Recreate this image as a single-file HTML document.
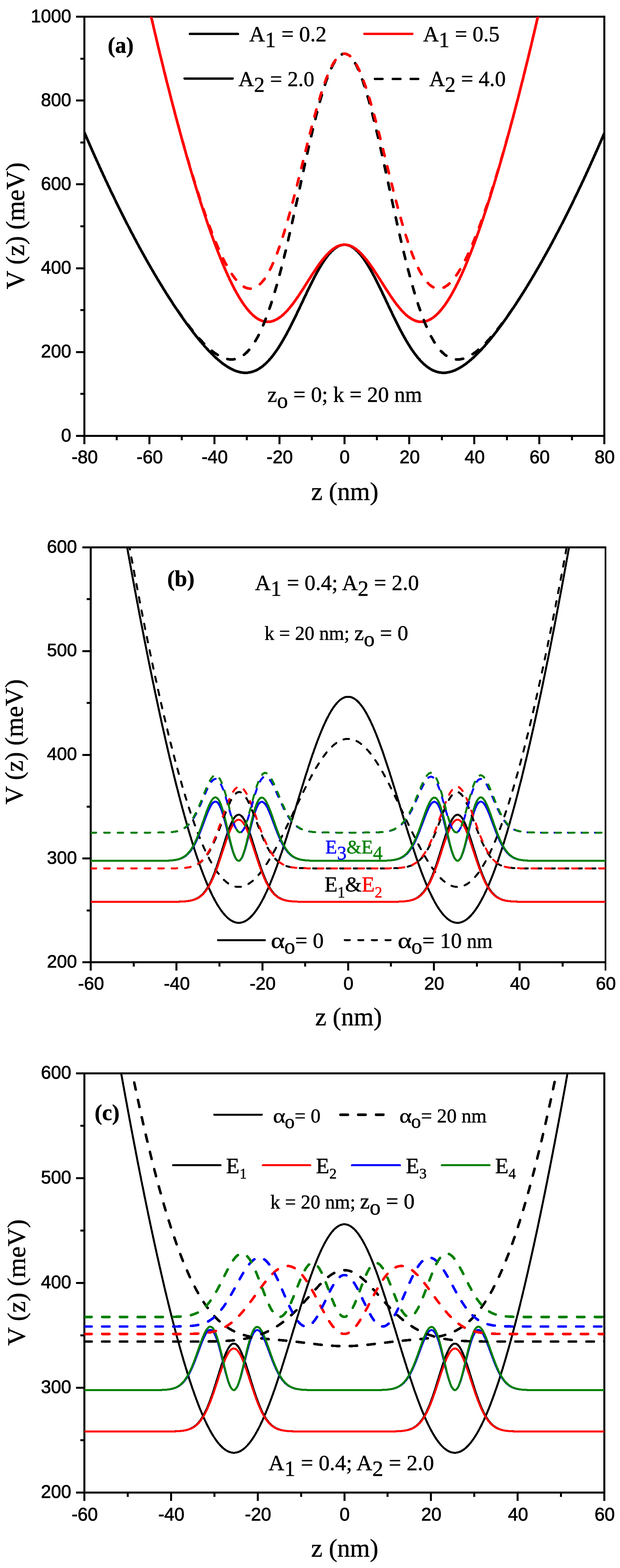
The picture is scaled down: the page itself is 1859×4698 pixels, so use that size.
<!DOCTYPE html>
<html lang="en"><head><meta charset="utf-8"><title>Double quantum well potential V(z)</title>
<style>
html,body{margin:0;padding:0;background:#fff}
body{width:1859px;height:4698px}
svg{display:block}
text{fill:#000;stroke:#000;stroke-width:0.8;stroke-linejoin:round}
.tk text{font-family:"Liberation Sans",Arial,Helvetica,sans-serif;stroke-width:1.2}
.sf{font-family:"Liberation Serif","Times New Roman",Times,serif}
.b{font-weight:bold}
.r{fill:#f00;stroke:#f00}.bl{fill:#00f;stroke:#00f}.g{fill:#008000;stroke:#008000}
</style></head><body>
<svg width="1859" height="4698" viewBox="0 0 1859 4698">
<rect width="1859" height="4698" fill="#fff"/>
<defs>
<clipPath id="c1"><rect x="253" y="50" width="1559" height="1256"/></clipPath>
<clipPath id="c2"><rect x="272" y="1640" width="1543.5" height="1243"/></clipPath>
<clipPath id="c3"><rect x="253" y="3216" width="1559" height="1256"/></clipPath>
</defs>
<g stroke="#000" stroke-width="6" fill="none" shape-rendering="crispEdges">
<path d="M253 47V1309M250 50H1815M250 1306H1815M1812 47V1309M253 1306V1331M447.9 1306V1331M642.8 1306V1331M837.6 1306V1331M1032.5 1306V1331M1227.4 1306V1331M1422.2 1306V1331M1617.1 1306V1331M1812 1306V1331M350.4 1306V1318.5M545.3 1306V1318.5M740.2 1306V1318.5M935.1 1306V1318.5M1129.9 1306V1318.5M1324.8 1306V1318.5M1519.7 1306V1318.5M1714.6 1306V1318.5M253 1306H228M253 1054.8H228M253 803.6H228M253 552.4H228M253 301.2H228M253 50H228M253 1180.4H240.5M253 929.2H240.5M253 678H240.5M253 426.8H240.5M253 175.6H240.5"/>
</g>
<g class="tk" font-size="55">
<text transform="translate(254 1388.3) scale(0.99 1.0)" text-anchor="middle">-80</text>
<text transform="translate(448.9 1388.3) scale(0.99 1.0)" text-anchor="middle">-60</text>
<text transform="translate(643.8 1388.3) scale(0.99 1.0)" text-anchor="middle">-40</text>
<text transform="translate(838.6 1388.3) scale(0.99 1.0)" text-anchor="middle">-20</text>
<text transform="translate(1033.5 1388.3) scale(0.99 1.0)" text-anchor="middle">0</text>
<text transform="translate(1228.4 1388.3) scale(0.99 1.0)" text-anchor="middle">20</text>
<text transform="translate(1423.2 1388.3) scale(0.99 1.0)" text-anchor="middle">40</text>
<text transform="translate(1618.1 1388.3) scale(0.99 1.0)" text-anchor="middle">60</text>
<text transform="translate(1813 1388.3) scale(0.99 1.0)" text-anchor="middle">80</text>
<text transform="translate(213.5 1322.5) scale(0.99 1.0)" text-anchor="end">0</text>
<text transform="translate(213.5 1071.3) scale(0.99 1.0)" text-anchor="end">200</text>
<text transform="translate(213.5 820.1) scale(0.99 1.0)" text-anchor="end">400</text>
<text transform="translate(213.5 568.9) scale(0.99 1.0)" text-anchor="end">600</text>
<text transform="translate(213.5 317.7) scale(0.99 1.0)" text-anchor="end">800</text>
<text transform="translate(213.5 66.5) scale(0.99 1.0)" text-anchor="end">1000</text>
</g>
<g stroke="#000" stroke-width="6" fill="none" shape-rendering="crispEdges">
<path d="M272 1637V2886M269 1640H1818M269 2883H1818M272 2883V2908M529.2 2883V2908M786.5 2883V2908M1043.8 2883V2908M1301 2883V2908M1558.2 2883V2908M400.6 2883V2895.5M657.9 2883V2895.5M915.1 2883V2895.5M1172.4 2883V2895.5M1429.6 2883V2895.5M1686.9 2883V2895.5M272 2883H247M272 2572.2H247M272 2261.5H247M272 1950.8H247M272 1640H247M272 2727.6H259.5M272 2416.9H259.5M272 2106.1H259.5M272 1795.4H259.5"/>
</g>
<path d="M1815.5 1637V2908" stroke="#000" stroke-width="5" fill="none" shape-rendering="crispEdges"/>
<g class="tk" font-size="54.5">
<text transform="translate(273 2965.3) scale(0.99 1.0)" text-anchor="middle">-60</text>
<text transform="translate(530.2 2965.3) scale(0.99 1.0)" text-anchor="middle">-40</text>
<text transform="translate(787.5 2965.3) scale(0.99 1.0)" text-anchor="middle">-20</text>
<text transform="translate(1044.8 2965.3) scale(0.99 1.0)" text-anchor="middle">0</text>
<text transform="translate(1302 2965.3) scale(0.99 1.0)" text-anchor="middle">20</text>
<text transform="translate(1559.2 2965.3) scale(0.99 1.0)" text-anchor="middle">40</text>
<text transform="translate(1816.5 2965.3) scale(0.99 1.0)" text-anchor="middle">60</text>
<text transform="translate(230.7 2898.5) scale(0.99 1.0)" text-anchor="end">200</text>
<text transform="translate(230.7 2587.8) scale(0.99 1.0)" text-anchor="end">300</text>
<text transform="translate(230.7 2277) scale(0.99 1.0)" text-anchor="end">400</text>
<text transform="translate(230.7 1966.2) scale(0.99 1.0)" text-anchor="end">500</text>
<text transform="translate(230.7 1655.5) scale(0.99 1.0)" text-anchor="end">600</text>
</g>
<g stroke="#000" stroke-width="6" fill="none" shape-rendering="crispEdges">
<path d="M253 3213V4475M250 3216H1815M250 4472H1815M1812 3213V4475M253 4472V4497M512.8 4472V4497M772.7 4472V4497M1032.5 4472V4497M1292.3 4472V4497M1552.2 4472V4497M1812 4472V4497M382.9 4472V4484.5M642.8 4472V4484.5M902.6 4472V4484.5M1162.4 4472V4484.5M1422.2 4472V4484.5M1682.1 4472V4484.5M253 4472H228M253 4158H228M253 3844H228M253 3530H228M253 3216H228M253 4315H240.5M253 4001H240.5M253 3687H240.5M253 3373H240.5"/>
</g>
<g class="tk" font-size="55">
<text transform="translate(254 4556.3) scale(0.99 1.0)" text-anchor="middle">-60</text>
<text transform="translate(513.8 4556.3) scale(0.99 1.0)" text-anchor="middle">-40</text>
<text transform="translate(773.7 4556.3) scale(0.99 1.0)" text-anchor="middle">-20</text>
<text transform="translate(1033.5 4556.3) scale(0.99 1.0)" text-anchor="middle">0</text>
<text transform="translate(1293.3 4556.3) scale(0.99 1.0)" text-anchor="middle">20</text>
<text transform="translate(1553.2 4556.3) scale(0.99 1.0)" text-anchor="middle">40</text>
<text transform="translate(1813 4556.3) scale(0.99 1.0)" text-anchor="middle">60</text>
<text transform="translate(213.5 4487.5) scale(0.99 1.0)" text-anchor="end">200</text>
<text transform="translate(213.5 4173.5) scale(0.99 1.0)" text-anchor="end">300</text>
<text transform="translate(213.5 3859.5) scale(0.99 1.0)" text-anchor="end">400</text>
<text transform="translate(213.5 3545.5) scale(0.99 1.0)" text-anchor="end">500</text>
<text transform="translate(213.5 3231.5) scale(0.99 1.0)" text-anchor="end">600</text>
</g>
<g clip-path="url(#c1)" fill="none" stroke-linejoin="round" stroke-linecap="round" shape-rendering="crispEdges">
<path d="M253.5 397.8L255.9 403.5L258.4 409.1L260.8 414.8L263.2 420.4L265.7 426L268.1 431.6L270.6 437.1L273 442.7L275.4 448.2L277.9 453.7L280.3 459.2L282.7 464.7L285.2 470.1L287.6 475.5L290 481L292.5 486.4L294.9 491.7L297.3 497.1L299.8 502.5L302.2 507.8L304.7 513.1L307.1 518.4L309.5 523.7L312 528.9L314.4 534.2L316.8 539.4L319.3 544.6L321.7 549.8L324.1 555L326.6 560.1L329 565.3L331.4 570.4L333.9 575.5L336.3 580.5L338.8 585.6L341.2 590.7L343.6 595.7L346.1 600.7L348.5 605.7L350.9 610.7L353.4 615.6L355.8 620.6L358.2 625.5L360.7 630.4L363.1 635.3L365.6 640.1L368 645L370.4 649.8L372.9 654.6L375.3 659.4L377.7 664.2L380.2 669L382.6 673.7L385 678.5L387.5 683.2L389.9 687.9L392.3 692.5L394.8 697.2L397.2 701.8L399.7 706.4L402.1 711L404.5 715.6L407 720.2L409.4 724.7L411.8 729.3L414.3 733.8L416.7 738.3L419.1 742.8L421.6 747.2L424 751.7L426.5 756.1L428.9 760.5L431.3 764.9L433.8 769.2L436.2 773.6L438.6 777.9L441.1 782.2L443.5 786.5L445.9 790.8L448.4 795.1L450.8 799.3L453.2 803.5L455.7 807.7L458.1 811.9L460.6 816.1L463 820.3L465.4 824.4L467.9 828.5L470.3 832.6L472.7 836.7L475.2 840.7L477.6 844.8L480 848.8L482.5 852.8L484.9 856.8L487.4 860.7L489.8 864.7L492.2 868.6L494.7 872.5L497.1 876.4L499.5 880.3L502 884.1L504.4 888L506.8 891.8L509.3 895.6L511.7 899.4L514.1 903.1L516.6 906.8L519 910.6L521.5 914.3L523.9 917.9L526.3 921.6L528.8 925.2L531.2 928.8L533.6 932.4L536.1 936L538.5 939.5L540.9 943.1L543.4 946.6L545.8 950.1L548.2 953.5L550.7 957L553.1 960.4L555.6 963.8L558 967.2L560.4 970.5L562.9 973.8L565.3 977.2L567.7 980.4L570.2 983.7L572.6 986.9L575 990.1L577.5 993.3L579.9 996.5L582.4 999.6L584.8 1002.7L587.2 1005.8L589.7 1008.8L592.1 1011.9L594.5 1014.9L597 1017.8L599.4 1020.8L601.8 1023.7L604.3 1026.5L606.7 1029.4L609.1 1032.2L611.6 1035L614 1037.8L616.5 1040.5L618.9 1043.2L621.3 1045.8L623.8 1048.4L626.2 1051L628.6 1053.6L631.1 1056.1L633.5 1058.6L635.9 1061L638.4 1063.4L640.8 1065.8L643.2 1068.1L645.7 1070.4L648.1 1072.6L650.6 1074.8L653 1076.9L655.4 1079L657.9 1081.1L660.3 1083.1L662.7 1085.1L665.2 1087L667.6 1088.9L670 1090.7L672.5 1092.5L674.9 1094.2L677.4 1095.8L679.8 1097.5L682.2 1099L684.7 1100.5L687.1 1101.9L689.5 1103.3L692 1104.6L694.4 1105.9L696.8 1107.1L699.3 1108.2L701.7 1109.3L704.1 1110.3L706.6 1111.2L709 1112.1L711.5 1112.9L713.9 1113.6L716.3 1114.3L718.8 1114.9L721.2 1115.4L723.6 1115.8L726.1 1116.2L728.5 1116.5L730.9 1116.7L733.4 1116.8L735.8 1116.8L738.3 1116.8L740.7 1116.7L743.1 1116.5L745.6 1116.2L748 1115.8L750.4 1115.4L752.9 1114.8L755.3 1114.2L757.7 1113.5L760.2 1112.6L762.6 1111.7L765 1110.7L767.5 1109.6L769.9 1108.5L772.4 1107.2L774.8 1105.8L777.2 1104.3L779.7 1102.8L782.1 1101.1L784.5 1099.4L787 1097.5L789.4 1095.6L791.8 1093.5L794.3 1091.4L796.7 1089.1L799.1 1086.8L801.6 1084.4L804 1081.8L806.5 1079.2L808.9 1076.5L811.3 1073.7L813.8 1070.8L816.2 1067.8L818.6 1064.7L821.1 1061.5L823.5 1058.2L825.9 1054.8L828.4 1051.4L830.8 1047.8L833.3 1044.2L835.7 1040.5L838.1 1036.6L840.6 1032.8L843 1028.8L845.4 1024.7L847.9 1020.6L850.3 1016.4L852.7 1012.1L855.2 1007.8L857.6 1003.4L860 998.9L862.5 994.4L864.9 989.8L867.4 985.1L869.8 980.4L872.2 975.6L874.7 970.8L877.1 965.9L879.5 961L882 956.1L884.4 951.1L886.8 946.1L889.3 941L891.7 936L894.2 930.9L896.6 925.8L899 920.6L901.5 915.5L903.9 910.4L906.3 905.2L908.8 900.1L911.2 894.9L913.6 889.8L916.1 884.7L918.5 879.6L920.9 874.5L923.4 869.5L925.8 864.4L928.3 859.5L930.7 854.5L933.1 849.6L935.6 844.8L938 840L940.4 835.2L942.9 830.5L945.3 825.9L947.7 821.4L950.2 816.9L952.6 812.5L955.1 808.2L957.5 803.9L959.9 799.8L962.4 795.7L964.8 791.8L967.2 787.9L969.7 784.2L972.1 780.6L974.5 777L977 773.6L979.4 770.3L981.8 767.2L984.3 764.1L986.7 761.2L989.2 758.4L991.6 755.8L994 753.3L996.5 750.9L998.9 748.6L1001.3 746.6L1003.8 744.6L1006.2 742.8L1008.6 741.2L1011.1 739.7L1013.5 738.3L1015.9 737.2L1018.4 736.1L1020.8 735.3L1023.3 734.5L1025.7 734L1028.1 733.6L1030.6 733.3L1033 733.3L1035.4 733.3L1037.9 733.6L1040.3 734L1042.7 734.5L1045.2 735.3L1047.6 736.1L1050.1 737.2L1052.5 738.3L1054.9 739.7L1057.4 741.2L1059.8 742.8L1062.2 744.6L1064.7 746.6L1067.1 748.6L1069.5 750.9L1072 753.3L1074.4 755.8L1076.8 758.4L1079.3 761.2L1081.7 764.1L1084.2 767.2L1086.6 770.3L1089 773.6L1091.5 777L1093.9 780.6L1096.3 784.2L1098.8 787.9L1101.2 791.8L1103.6 795.7L1106.1 799.8L1108.5 803.9L1111 808.2L1113.4 812.5L1115.8 816.9L1118.3 821.4L1120.7 825.9L1123.1 830.5L1125.6 835.2L1128 840L1130.4 844.8L1132.9 849.6L1135.3 854.5L1137.7 859.5L1140.2 864.4L1142.6 869.5L1145.1 874.5L1147.5 879.6L1149.9 884.7L1152.4 889.8L1154.8 894.9L1157.2 900.1L1159.7 905.2L1162.1 910.4L1164.5 915.5L1167 920.6L1169.4 925.8L1171.8 930.9L1174.3 936L1176.7 941L1179.2 946.1L1181.6 951.1L1184 956.1L1186.5 961L1188.9 965.9L1191.3 970.8L1193.8 975.6L1196.2 980.4L1198.6 985.1L1201.1 989.8L1203.5 994.4L1206 998.9L1208.4 1003.4L1210.8 1007.8L1213.3 1012.1L1215.7 1016.4L1218.1 1020.6L1220.6 1024.7L1223 1028.8L1225.4 1032.8L1227.9 1036.6L1230.3 1040.5L1232.7 1044.2L1235.2 1047.8L1237.6 1051.4L1240.1 1054.8L1242.5 1058.2L1244.9 1061.5L1247.4 1064.7L1249.8 1067.8L1252.2 1070.8L1254.7 1073.7L1257.1 1076.5L1259.5 1079.2L1262 1081.8L1264.4 1084.4L1266.8 1086.8L1269.3 1089.1L1271.7 1091.4L1274.2 1093.5L1276.6 1095.6L1279 1097.5L1281.5 1099.4L1283.9 1101.1L1286.3 1102.8L1288.8 1104.3L1291.2 1105.8L1293.6 1107.2L1296.1 1108.5L1298.5 1109.6L1301 1110.7L1303.4 1111.7L1305.8 1112.6L1308.3 1113.5L1310.7 1114.2L1313.1 1114.8L1315.6 1115.4L1318 1115.8L1320.4 1116.2L1322.9 1116.5L1325.3 1116.7L1327.7 1116.8L1330.2 1116.8L1332.6 1116.8L1335.1 1116.7L1337.5 1116.5L1339.9 1116.2L1342.4 1115.8L1344.8 1115.4L1347.2 1114.9L1349.7 1114.3L1352.1 1113.6L1354.5 1112.9L1357 1112.1L1359.4 1111.2L1361.9 1110.3L1364.3 1109.3L1366.7 1108.2L1369.2 1107.1L1371.6 1105.9L1374 1104.6L1376.5 1103.3L1378.9 1101.9L1381.3 1100.5L1383.8 1099L1386.2 1097.5L1388.6 1095.8L1391.1 1094.2L1393.5 1092.5L1396 1090.7L1398.4 1088.9L1400.8 1087L1403.3 1085.1L1405.7 1083.1L1408.1 1081.1L1410.6 1079L1413 1076.9L1415.4 1074.8L1417.9 1072.6L1420.3 1070.4L1422.8 1068.1L1425.2 1065.8L1427.6 1063.4L1430.1 1061L1432.5 1058.6L1434.9 1056.1L1437.4 1053.6L1439.8 1051L1442.2 1048.4L1444.7 1045.8L1447.1 1043.2L1449.5 1040.5L1452 1037.8L1454.4 1035L1456.9 1032.2L1459.3 1029.4L1461.7 1026.5L1464.2 1023.7L1466.6 1020.8L1469 1017.8L1471.5 1014.9L1473.9 1011.9L1476.3 1008.8L1478.8 1005.8L1481.2 1002.7L1483.6 999.6L1486.1 996.5L1488.5 993.3L1491 990.1L1493.4 986.9L1495.8 983.7L1498.3 980.4L1500.7 977.2L1503.1 973.8L1505.6 970.5L1508 967.2L1510.4 963.8L1512.9 960.4L1515.3 957L1517.8 953.5L1520.2 950.1L1522.6 946.6L1525.1 943.1L1527.5 939.5L1529.9 936L1532.4 932.4L1534.8 928.8L1537.2 925.2L1539.7 921.6L1542.1 917.9L1544.5 914.3L1547 910.6L1549.4 906.8L1551.9 903.1L1554.3 899.4L1556.7 895.6L1559.2 891.8L1561.6 888L1564 884.1L1566.5 880.3L1568.9 876.4L1571.3 872.5L1573.8 868.6L1576.2 864.7L1578.6 860.7L1581.1 856.8L1583.5 852.8L1586 848.8L1588.4 844.8L1590.8 840.7L1593.3 836.7L1595.7 832.6L1598.1 828.5L1600.6 824.4L1603 820.3L1605.4 816.1L1607.9 811.9L1610.3 807.7L1612.8 803.5L1615.2 799.3L1617.6 795.1L1620.1 790.8L1622.5 786.5L1624.9 782.2L1627.4 777.9L1629.8 773.6L1632.2 769.2L1634.7 764.9L1637.1 760.5L1639.5 756.1L1642 751.7L1644.4 747.2L1646.9 742.8L1649.3 738.3L1651.7 733.8L1654.2 729.3L1656.6 724.7L1659 720.2L1661.5 715.6L1663.9 711L1666.3 706.4L1668.8 701.8L1671.2 697.2L1673.7 692.5L1676.1 687.9L1678.5 683.2L1681 678.5L1683.4 673.7L1685.8 669L1688.3 664.2L1690.7 659.4L1693.1 654.6L1695.6 649.8L1698 645L1700.4 640.1L1702.9 635.3L1705.3 630.4L1707.8 625.5L1710.2 620.6L1712.6 615.6L1715.1 610.7L1717.5 605.7L1719.9 600.7L1722.4 595.7L1724.8 590.7L1727.2 585.6L1729.7 580.5L1732.1 575.5L1734.5 570.4L1737 565.3L1739.4 560.1L1741.9 555L1744.3 549.8L1746.7 544.6L1749.2 539.4L1751.6 534.2L1754 528.9L1756.5 523.7L1758.9 518.4L1761.3 513.1L1763.8 507.8L1766.2 502.5L1768.7 497.1L1771.1 491.7L1773.5 486.4L1776 481L1778.4 475.5L1780.8 470.1L1783.3 464.7L1785.7 459.2L1788.1 453.7L1790.6 448.2L1793 442.7L1795.4 437.1L1797.9 431.6L1800.3 426L1802.8 420.4L1805.2 414.8L1807.6 409.1L1810.1 403.5L1812.5 397.8" stroke="#000000" stroke-width="8"/>
<path d="M253.5 -964.5L255.9 -950.3L258.4 -936.2L260.8 -922.1L263.2 -908.1L265.7 -894.1L268.1 -880.1L270.6 -866.2L273 -852.4L275.4 -838.5L277.9 -824.8L280.3 -811.1L282.7 -797.4L285.2 -783.7L287.6 -770.1L290 -756.6L292.5 -743.1L294.9 -729.6L297.3 -716.2L299.8 -702.9L302.2 -689.5L304.7 -676.2L307.1 -663L309.5 -649.8L312 -636.7L314.4 -623.6L316.8 -610.5L319.3 -597.5L321.7 -584.5L324.1 -571.6L326.6 -558.7L329 -545.9L331.4 -533.1L333.9 -520.3L336.3 -507.6L338.8 -495L341.2 -482.3L343.6 -469.8L346.1 -457.2L348.5 -444.8L350.9 -432.3L353.4 -419.9L355.8 -407.6L358.2 -395.3L360.7 -383L363.1 -370.8L365.6 -358.6L368 -346.5L370.4 -334.4L372.9 -322.4L375.3 -310.4L377.7 -298.4L380.2 -286.5L382.6 -274.7L385 -262.8L387.5 -251.1L389.9 -239.3L392.3 -227.7L394.8 -216L397.2 -204.4L399.7 -192.9L402.1 -181.4L404.5 -169.9L407 -158.5L409.4 -147.1L411.8 -135.8L414.3 -124.5L416.7 -113.3L419.1 -102.1L421.6 -90.9L424 -79.8L426.5 -68.8L428.9 -57.7L431.3 -46.8L433.8 -35.8L436.2 -25L438.6 -14.1L441.1 -3.3L443.5 7.4L445.9 18.1L448.4 28.8L450.8 39.4L453.2 50L455.7 60.5L458.1 71L460.6 81.4L463 91.8L465.4 102.1L467.9 112.4L470.3 122.7L472.7 132.9L475.2 143.1L477.6 153.2L480 163.3L482.5 173.3L484.9 183.3L487.4 193.2L489.8 203.1L492.2 213L494.7 222.8L497.1 232.5L499.5 242.2L502 251.9L504.4 261.5L506.8 271.1L509.3 280.6L511.7 290.1L514.1 299.5L516.6 308.9L519 318.3L521.5 327.6L523.9 336.8L526.3 346L528.8 355.2L531.2 364.3L533.6 373.3L536.1 382.4L538.5 391.3L540.9 400.2L543.4 409.1L545.8 417.9L548.2 426.7L550.7 435.4L553.1 444.1L555.6 452.7L558 461.3L560.4 469.8L562.9 478.3L565.3 486.7L567.7 495.1L570.2 503.4L572.6 511.7L575 519.9L577.5 528.1L579.9 536.2L582.4 544.3L584.8 552.3L587.2 560.3L589.7 568.2L592.1 576L594.5 583.8L597 591.6L599.4 599.2L601.8 606.9L604.3 614.5L606.7 622L609.1 629.4L611.6 636.8L614 644.2L616.5 651.5L618.9 658.7L621.3 665.9L623.8 673L626.2 680L628.6 687L631.1 693.9L633.5 700.8L635.9 707.5L638.4 714.3L640.8 720.9L643.2 727.5L645.7 734L648.1 740.5L650.6 746.9L653 753.2L655.4 759.4L657.9 765.6L660.3 771.7L662.7 777.7L665.2 783.7L667.6 789.5L670 795.3L672.5 801.1L674.9 806.7L677.4 812.3L679.8 817.7L682.2 823.1L684.7 828.5L687.1 833.7L689.5 838.8L692 843.9L694.4 848.9L696.8 853.7L699.3 858.5L701.7 863.2L704.1 867.8L706.6 872.4L709 876.8L711.5 881.1L713.9 885.3L716.3 889.5L718.8 893.5L721.2 897.4L723.6 901.3L726.1 905L728.5 908.6L730.9 912.1L733.4 915.5L735.8 918.8L738.3 922L740.7 925.1L743.1 928.1L745.6 931L748 933.7L750.4 936.4L752.9 938.9L755.3 941.3L757.7 943.6L760.2 945.8L762.6 947.8L765 949.8L767.5 951.6L769.9 953.3L772.4 954.9L774.8 956.3L777.2 957.7L779.7 958.9L782.1 960L784.5 961L787 961.8L789.4 962.5L791.8 963.1L794.3 963.6L796.7 964L799.1 964.2L801.6 964.3L804 964.3L806.5 964.2L808.9 963.9L811.3 963.5L813.8 963L816.2 962.4L818.6 961.7L821.1 960.8L823.5 959.8L825.9 958.7L828.4 957.5L830.8 956.2L833.3 954.7L835.7 953.2L838.1 951.5L840.6 949.7L843 947.9L845.4 945.9L847.9 943.8L850.3 941.6L852.7 939.3L855.2 936.9L857.6 934.4L860 931.8L862.5 929.2L864.9 926.4L867.4 923.6L869.8 920.7L872.2 917.7L874.7 914.6L877.1 911.4L879.5 908.2L882 904.9L884.4 901.6L886.8 898.2L889.3 894.7L891.7 891.2L894.2 887.7L896.6 884.1L899 880.4L901.5 876.7L903.9 873L906.3 869.3L908.8 865.5L911.2 861.7L913.6 857.9L916.1 854L918.5 850.2L920.9 846.4L923.4 842.5L925.8 838.7L928.3 834.9L930.7 831.1L933.1 827.3L935.6 823.5L938 819.7L940.4 816L942.9 812.3L945.3 808.7L947.7 805.1L950.2 801.5L952.6 798L955.1 794.5L957.5 791.1L959.9 787.8L962.4 784.6L964.8 781.4L967.2 778.2L969.7 775.2L972.1 772.2L974.5 769.4L977 766.6L979.4 763.9L981.8 761.3L984.3 758.8L986.7 756.4L989.2 754.1L991.6 751.9L994 749.8L996.5 747.9L998.9 746L1001.3 744.3L1003.8 742.7L1006.2 741.2L1008.6 739.8L1011.1 738.6L1013.5 737.5L1015.9 736.5L1018.4 735.6L1020.8 734.9L1023.3 734.3L1025.7 733.9L1028.1 733.5L1030.6 733.3L1033 733.3L1035.4 733.3L1037.9 733.5L1040.3 733.9L1042.7 734.3L1045.2 734.9L1047.6 735.6L1050.1 736.5L1052.5 737.5L1054.9 738.6L1057.4 739.8L1059.8 741.2L1062.2 742.7L1064.7 744.3L1067.1 746L1069.5 747.9L1072 749.8L1074.4 751.9L1076.8 754.1L1079.3 756.4L1081.7 758.8L1084.2 761.3L1086.6 763.9L1089 766.6L1091.5 769.4L1093.9 772.2L1096.3 775.2L1098.8 778.2L1101.2 781.4L1103.6 784.6L1106.1 787.8L1108.5 791.1L1111 794.5L1113.4 798L1115.8 801.5L1118.3 805.1L1120.7 808.7L1123.1 812.3L1125.6 816L1128 819.7L1130.4 823.5L1132.9 827.3L1135.3 831.1L1137.7 834.9L1140.2 838.7L1142.6 842.5L1145.1 846.4L1147.5 850.2L1149.9 854L1152.4 857.9L1154.8 861.7L1157.2 865.5L1159.7 869.3L1162.1 873L1164.5 876.7L1167 880.4L1169.4 884.1L1171.8 887.7L1174.3 891.2L1176.7 894.7L1179.2 898.2L1181.6 901.6L1184 904.9L1186.5 908.2L1188.9 911.4L1191.3 914.6L1193.8 917.7L1196.2 920.7L1198.6 923.6L1201.1 926.4L1203.5 929.2L1206 931.8L1208.4 934.4L1210.8 936.9L1213.3 939.3L1215.7 941.6L1218.1 943.8L1220.6 945.9L1223 947.9L1225.4 949.7L1227.9 951.5L1230.3 953.2L1232.7 954.7L1235.2 956.2L1237.6 957.5L1240.1 958.7L1242.5 959.8L1244.9 960.8L1247.4 961.7L1249.8 962.4L1252.2 963L1254.7 963.5L1257.1 963.9L1259.5 964.2L1262 964.3L1264.4 964.3L1266.8 964.2L1269.3 964L1271.7 963.6L1274.2 963.1L1276.6 962.5L1279 961.8L1281.5 961L1283.9 960L1286.3 958.9L1288.8 957.7L1291.2 956.3L1293.6 954.9L1296.1 953.3L1298.5 951.6L1301 949.8L1303.4 947.8L1305.8 945.8L1308.3 943.6L1310.7 941.3L1313.1 938.9L1315.6 936.4L1318 933.7L1320.4 931L1322.9 928.1L1325.3 925.1L1327.7 922L1330.2 918.8L1332.6 915.5L1335.1 912.1L1337.5 908.6L1339.9 905L1342.4 901.3L1344.8 897.4L1347.2 893.5L1349.7 889.5L1352.1 885.3L1354.5 881.1L1357 876.8L1359.4 872.4L1361.9 867.8L1364.3 863.2L1366.7 858.5L1369.2 853.7L1371.6 848.9L1374 843.9L1376.5 838.8L1378.9 833.7L1381.3 828.5L1383.8 823.1L1386.2 817.7L1388.6 812.3L1391.1 806.7L1393.5 801.1L1396 795.3L1398.4 789.5L1400.8 783.7L1403.3 777.7L1405.7 771.7L1408.1 765.6L1410.6 759.4L1413 753.2L1415.4 746.9L1417.9 740.5L1420.3 734L1422.8 727.5L1425.2 720.9L1427.6 714.3L1430.1 707.5L1432.5 700.8L1434.9 693.9L1437.4 687L1439.8 680L1442.2 673L1444.7 665.9L1447.1 658.7L1449.5 651.5L1452 644.2L1454.4 636.8L1456.9 629.4L1459.3 622L1461.7 614.5L1464.2 606.9L1466.6 599.2L1469 591.6L1471.5 583.8L1473.9 576L1476.3 568.2L1478.8 560.3L1481.2 552.3L1483.6 544.3L1486.1 536.2L1488.5 528.1L1491 519.9L1493.4 511.7L1495.8 503.4L1498.3 495.1L1500.7 486.7L1503.1 478.3L1505.6 469.8L1508 461.3L1510.4 452.7L1512.9 444.1L1515.3 435.4L1517.8 426.7L1520.2 417.9L1522.6 409.1L1525.1 400.2L1527.5 391.3L1529.9 382.4L1532.4 373.3L1534.8 364.3L1537.2 355.2L1539.7 346L1542.1 336.8L1544.5 327.6L1547 318.3L1549.4 308.9L1551.9 299.5L1554.3 290.1L1556.7 280.6L1559.2 271.1L1561.6 261.5L1564 251.9L1566.5 242.2L1568.9 232.5L1571.3 222.8L1573.8 213L1576.2 203.1L1578.6 193.2L1581.1 183.3L1583.5 173.3L1586 163.3L1588.4 153.2L1590.8 143.1L1593.3 132.9L1595.7 122.7L1598.1 112.4L1600.6 102.1L1603 91.8L1605.4 81.4L1607.9 71L1610.3 60.5L1612.8 50L1615.2 39.4L1617.6 28.8L1620.1 18.1L1622.5 7.4L1624.9 -3.3L1627.4 -14.1L1629.8 -25L1632.2 -35.8L1634.7 -46.8L1637.1 -57.7L1639.5 -68.8L1642 -79.8L1644.4 -90.9L1646.9 -102.1L1649.3 -113.3L1651.7 -124.5L1654.2 -135.8L1656.6 -147.1L1659 -158.5L1661.5 -169.9L1663.9 -181.4L1666.3 -192.9L1668.8 -204.4L1671.2 -216L1673.7 -227.7L1676.1 -239.3L1678.5 -251.1L1681 -262.8L1683.4 -274.7L1685.8 -286.5L1688.3 -298.4L1690.7 -310.4L1693.1 -322.4L1695.6 -334.4L1698 -346.5L1700.4 -358.6L1702.9 -370.8L1705.3 -383L1707.8 -395.3L1710.2 -407.6L1712.6 -419.9L1715.1 -432.3L1717.5 -444.8L1719.9 -457.2L1722.4 -469.8L1724.8 -482.3L1727.2 -495L1729.7 -507.6L1732.1 -520.3L1734.5 -533.1L1737 -545.9L1739.4 -558.7L1741.9 -571.6L1744.3 -584.5L1746.7 -597.5L1749.2 -610.5L1751.6 -623.6L1754 -636.7L1756.5 -649.8L1758.9 -663L1761.3 -676.2L1763.8 -689.5L1766.2 -702.9L1768.7 -716.2L1771.1 -729.6L1773.5 -743.1L1776 -756.6L1778.4 -770.1L1780.8 -783.7L1783.3 -797.4L1785.7 -811.1L1788.1 -824.8L1790.6 -838.5L1793 -852.4L1795.4 -866.2L1797.9 -880.1L1800.3 -894.1L1802.8 -908.1L1805.2 -922.1L1807.6 -936.2L1810.1 -950.3L1812.5 -964.5" stroke="#ff0000" stroke-width="8"/>
<path d="M253.5 397.8L263.3 420.5L273.1 442.9L282.9 465.1L292.7 486.9L302.5 508.5L312.3 529.7L322.1 550.7L331.9 571.4L341.7 591.8L351.6 611.9L361.4 631.7L371.2 651.3L381 670.5L390.8 689.5L400.6 708.2L410.4 726.5L420.2 744.6L430 762.4L439.8 779.9L449.6 797.1L459.4 814L469.2 830.6L479 846.9L488.8 862.9L498.6 878.5L508.4 893.8L518.2 908.8L528 923.4L537.8 937.6L547.7 951.5L557.5 964.9L567.3 977.8L577.1 990.3L586.9 1002.2L596.7 1013.5L606.5 1024.2L616.3 1034.1L626.1 1043.3L635.9 1051.6L645.7 1058.9L655.5 1065.2L665.3 1070.3L675.1 1074.1L684.9 1076.4L694.7 1077.1L704.5 1076.2L714.3 1073.3L724.1 1068.4L733.9 1061.3L743.8 1051.9L753.6 1040L763.4 1025.6L773.2 1008.4L783 988.4L792.8 965.7L802.6 940.1L812.4 911.6L822.2 880.4L832 846.5L841.8 810.1L851.6 771.5L861.4 730.8L871.2 688.3L881 644.6L890.8 599.9L900.6 554.7L910.4 509.6L920.2 465L930 421.5L939.9 379.7L949.7 340.1L959.5 303.2L969.3 269.7L979.1 239.9L988.9 214.4L998.7 193.4L1008.5 177.5L1018.3 166.7L1028.1 161.2L1037.9 161.2L1047.7 166.7L1057.5 177.5L1067.3 193.4L1077.1 214.4L1086.9 239.9L1096.7 269.7L1106.5 303.2L1116.3 340.1L1126.1 379.7L1136 421.5L1145.8 465L1155.6 509.6L1165.4 554.7L1175.2 599.9L1185 644.6L1194.8 688.3L1204.6 730.8L1214.4 771.5L1224.2 810.1L1234 846.5L1243.8 880.4L1253.6 911.6L1263.4 940.1L1273.2 965.7L1283 988.4L1292.8 1008.4L1302.6 1025.6L1312.4 1040L1322.2 1051.9L1332.1 1061.3L1341.9 1068.4L1351.7 1073.3L1361.5 1076.2L1371.3 1077.1L1381.1 1076.4L1390.9 1074.1L1400.7 1070.3L1410.5 1065.2L1420.3 1058.9L1430.1 1051.6L1439.9 1043.3L1449.7 1034.1L1459.5 1024.2L1469.3 1013.5L1479.1 1002.2L1488.9 990.3L1498.7 977.8L1508.5 964.9L1518.3 951.5L1528.2 937.6L1538 923.4L1547.8 908.8L1557.6 893.8L1567.4 878.5L1577.2 862.9L1587 846.9L1596.8 830.6L1606.6 814L1616.4 797.1L1626.2 779.9L1636 762.4L1645.8 744.6L1655.6 726.5L1665.4 708.2L1675.2 689.5L1685 670.5L1694.8 651.3L1704.6 631.7L1714.4 611.9L1724.3 591.8L1734.1 571.4L1743.9 550.7L1753.7 529.7L1763.5 508.5L1773.3 486.9L1783.1 465.1L1792.9 442.9L1802.7 420.5L1812.5 397.8" stroke="#000000" stroke-width="8" stroke-dasharray="21.4 31.8" stroke-dashoffset="37"/>
<path d="M253.5 -964.5L263.3 -907.7L273.1 -851.7L282.9 -796.3L292.7 -741.7L302.5 -687.9L312.3 -634.7L322.1 -582.2L331.9 -530.5L341.7 -479.5L351.6 -429.2L361.4 -379.6L371.2 -330.8L381 -282.7L390.8 -235.2L400.6 -188.5L410.4 -142.6L420.2 -97.3L430 -52.8L439.8 -9L449.6 34.1L459.4 76.4L469.2 118L479 158.8L488.8 199L498.6 238.3L508.4 276.9L518.2 314.7L528 351.7L537.8 388L547.7 423.3L557.5 457.9L567.3 491.5L577.1 524.2L586.9 555.9L596.7 586.7L606.5 616.3L616.3 644.8L626.1 672.1L635.9 698.1L645.7 722.6L655.5 745.7L665.3 767.2L675.1 786.9L684.9 804.8L694.7 820.6L704.5 834.3L714.3 845.6L724.1 854.5L733.9 860.8L743.8 864.3L753.6 864.9L763.4 862.5L773.2 857L783 848.3L792.8 836.3L802.6 821L812.4 802.5L822.2 780.8L832 755.9L841.8 728.2L851.6 697.7L861.4 664.7L871.2 629.7L881 592.8L890.8 554.6L900.6 515.4L910.4 475.9L920.2 436.5L930 397.7L939.9 360.2L949.7 324.5L959.5 291.1L969.3 260.6L979.1 233.4L988.9 210L998.7 190.8L1008.5 176.1L1018.3 166.2L1028.1 161.2L1037.9 161.2L1047.7 166.2L1057.5 176.1L1067.3 190.8L1077.1 210L1086.9 233.4L1096.7 260.6L1106.5 291.1L1116.3 324.5L1126.1 360.2L1136 397.7L1145.8 436.5L1155.6 475.9L1165.4 515.4L1175.2 554.6L1185 592.8L1194.8 629.7L1204.6 664.7L1214.4 697.7L1224.2 728.2L1234 755.9L1243.8 780.8L1253.6 802.5L1263.4 821L1273.2 836.3L1283 848.3L1292.8 857L1302.6 862.5L1312.4 864.9L1322.2 864.3L1332.1 860.8L1341.9 854.5L1351.7 845.6L1361.5 834.3L1371.3 820.6L1381.1 804.8L1390.9 786.9L1400.7 767.2L1410.5 745.7L1420.3 722.6L1430.1 698.1L1439.9 672.1L1449.7 644.8L1459.5 616.3L1469.3 586.7L1479.1 555.9L1488.9 524.2L1498.7 491.5L1508.5 457.9L1518.3 423.3L1528.2 388L1538 351.7L1547.8 314.7L1557.6 276.9L1567.4 238.3L1577.2 199L1587 158.8L1596.8 118L1606.6 76.4L1616.4 34.1L1626.2 -9L1636 -52.8L1645.8 -97.3L1655.6 -142.6L1665.4 -188.5L1675.2 -235.2L1685 -282.7L1694.8 -330.8L1704.6 -379.6L1714.4 -429.2L1724.3 -479.5L1734.1 -530.5L1743.9 -582.2L1753.7 -634.7L1763.5 -687.9L1773.3 -741.7L1783.1 -796.3L1792.9 -851.7L1802.7 -907.7L1812.5 -964.5" stroke="#ff0000" stroke-width="8" stroke-dasharray="21.4 31.8" stroke-dashoffset="17.7"/>
</g>
<g clip-path="url(#c2)" fill="none" stroke-linejoin="round" stroke-linecap="round" shape-rendering="crispEdges">
<path d="M272 976.5L275.2 997.5L278.4 1018.4L281.6 1039.2L284.9 1060L288.1 1080.6L291.3 1101.2L294.5 1121.7L297.7 1142L300.9 1162.3L304.2 1182.5L307.4 1202.7L310.6 1222.7L313.8 1242.6L317 1262.5L320.2 1282.2L323.4 1301.9L326.7 1321.5L329.9 1340.9L333.1 1360.3L336.3 1379.6L339.5 1398.8L342.7 1418L346 1437L349.2 1455.9L352.4 1474.8L355.6 1493.5L358.8 1512.2L362 1530.7L365.3 1549.2L368.5 1567.6L371.7 1585.9L374.9 1604.1L378.1 1622.2L381.3 1640.2L384.5 1658.1L387.8 1675.9L391 1693.6L394.2 1711.2L397.4 1728.7L400.6 1746.2L403.8 1763.5L407.1 1780.7L410.3 1797.8L413.5 1814.9L416.7 1831.8L419.9 1848.6L423.1 1865.4L426.4 1882L429.6 1898.5L432.8 1914.9L436 1931.2L439.2 1947.4L442.4 1963.5L445.6 1979.5L448.9 1995.4L452.1 2011.2L455.3 2026.9L458.5 2042.4L461.7 2057.9L464.9 2073.2L468.2 2088.4L471.4 2103.5L474.6 2118.5L477.8 2133.4L481 2148.1L484.2 2162.8L487.4 2177.3L490.7 2191.7L493.9 2205.9L497.1 2220.1L500.3 2234.1L503.5 2247.9L506.7 2261.7L510 2275.3L513.2 2288.8L516.4 2302.1L519.6 2315.3L522.8 2328.4L526 2341.3L529.2 2354.1L532.5 2366.8L535.7 2379.2L538.9 2391.6L542.1 2403.8L545.3 2415.8L548.5 2427.7L551.8 2439.4L555 2451L558.2 2462.4L561.4 2473.6L564.6 2484.7L567.8 2495.5L571.1 2506.3L574.3 2516.8L577.5 2527.2L580.7 2537.4L583.9 2547.4L587.1 2557.2L590.3 2566.8L593.6 2576.2L596.8 2585.5L600 2594.5L603.2 2603.3L606.4 2612L609.6 2620.4L612.9 2628.6L616.1 2636.6L619.3 2644.4L622.5 2652L625.7 2659.4L628.9 2666.5L632.2 2673.4L635.4 2680.1L638.6 2686.5L641.8 2692.7L645 2698.7L648.2 2704.4L651.4 2709.9L654.7 2715.2L657.9 2720.2L661.1 2724.9L664.3 2729.4L667.5 2733.6L670.7 2737.6L674 2741.3L677.2 2744.8L680.4 2747.9L683.6 2750.9L686.8 2753.5L690 2755.9L693.2 2758L696.5 2759.8L699.7 2761.4L702.9 2762.7L706.1 2763.7L709.3 2764.4L712.5 2764.8L715.8 2765L719 2764.8L722.2 2764.4L725.4 2763.7L728.6 2762.8L731.8 2761.5L735 2760L738.3 2758.1L741.5 2756L744.7 2753.6L747.9 2751L751.1 2748L754.3 2744.8L757.6 2741.3L760.8 2737.5L764 2733.4L767.2 2729.1L770.4 2724.5L773.6 2719.7L776.9 2714.6L780.1 2709.2L783.3 2703.5L786.5 2697.7L789.7 2691.5L792.9 2685.1L796.1 2678.5L799.4 2671.7L802.6 2664.6L805.8 2657.3L809 2649.8L812.2 2642L815.4 2634.1L818.7 2626L821.9 2617.6L825.1 2609.1L828.3 2600.4L831.5 2591.5L834.7 2582.5L837.9 2573.3L841.2 2563.9L844.4 2554.4L847.6 2544.8L850.8 2535L854 2525.2L857.2 2515.2L860.5 2505.1L863.7 2495L866.9 2484.7L870.1 2474.4L873.3 2464L876.5 2453.6L879.8 2443.1L883 2432.6L886.2 2422.1L889.4 2411.6L892.6 2401L895.8 2390.5L899 2380L902.3 2369.6L905.5 2359.1L908.7 2348.8L911.9 2338.5L915.1 2328.2L918.3 2318.1L921.6 2308L924.8 2298.1L928 2288.3L931.2 2278.6L934.4 2269L937.6 2259.6L940.9 2250.3L944.1 2241.2L947.3 2232.3L950.5 2223.6L953.7 2215.1L956.9 2206.8L960.1 2198.6L963.4 2190.8L966.6 2183.1L969.8 2175.7L973 2168.6L976.2 2161.7L979.4 2155L982.7 2148.7L985.9 2142.6L989.1 2136.8L992.3 2131.3L995.5 2126.1L998.7 2121.2L1001.9 2116.7L1005.2 2112.4L1008.4 2108.5L1011.6 2104.9L1014.8 2101.6L1018 2098.6L1021.2 2096L1024.5 2093.8L1027.7 2091.9L1030.9 2090.3L1034.1 2089.1L1037.3 2088.2L1040.5 2087.7L1043.8 2087.5L1047 2087.7L1050.2 2088.2L1053.4 2089.1L1056.6 2090.3L1059.8 2091.9L1063 2093.8L1066.3 2096L1069.5 2098.6L1072.7 2101.6L1075.9 2104.9L1079.1 2108.5L1082.3 2112.4L1085.6 2116.7L1088.8 2121.2L1092 2126.1L1095.2 2131.3L1098.4 2136.8L1101.6 2142.6L1104.8 2148.7L1108.1 2155L1111.3 2161.7L1114.5 2168.6L1117.7 2175.7L1120.9 2183.1L1124.1 2190.8L1127.4 2198.6L1130.6 2206.8L1133.8 2215.1L1137 2223.6L1140.2 2232.3L1143.4 2241.2L1146.7 2250.3L1149.9 2259.6L1153.1 2269L1156.3 2278.6L1159.5 2288.3L1162.7 2298.1L1165.9 2308L1169.2 2318.1L1172.4 2328.2L1175.6 2338.5L1178.8 2348.8L1182 2359.1L1185.2 2369.6L1188.5 2380L1191.7 2390.5L1194.9 2401L1198.1 2411.6L1201.3 2422.1L1204.5 2432.6L1207.7 2443.1L1211 2453.6L1214.2 2464L1217.4 2474.4L1220.6 2484.7L1223.8 2495L1227 2505.1L1230.3 2515.2L1233.5 2525.2L1236.7 2535L1239.9 2544.8L1243.1 2554.4L1246.3 2563.9L1249.5 2573.3L1252.8 2582.5L1256 2591.5L1259.2 2600.4L1262.4 2609.1L1265.6 2617.6L1268.8 2626L1272.1 2634.1L1275.3 2642L1278.5 2649.8L1281.7 2657.3L1284.9 2664.6L1288.1 2671.7L1291.4 2678.5L1294.6 2685.1L1297.8 2691.5L1301 2697.7L1304.2 2703.5L1307.4 2709.2L1310.6 2714.6L1313.9 2719.7L1317.1 2724.5L1320.3 2729.1L1323.5 2733.4L1326.7 2737.5L1329.9 2741.3L1333.2 2744.8L1336.4 2748L1339.6 2751L1342.8 2753.6L1346 2756L1349.2 2758.1L1352.4 2760L1355.7 2761.5L1358.9 2762.8L1362.1 2763.7L1365.3 2764.4L1368.5 2764.8L1371.7 2765L1375 2764.8L1378.2 2764.4L1381.4 2763.7L1384.6 2762.7L1387.8 2761.4L1391 2759.8L1394.3 2758L1397.5 2755.9L1400.7 2753.5L1403.9 2750.9L1407.1 2747.9L1410.3 2744.8L1413.5 2741.3L1416.8 2737.6L1420 2733.6L1423.2 2729.4L1426.4 2724.9L1429.6 2720.2L1432.8 2715.2L1436.1 2709.9L1439.3 2704.4L1442.5 2698.7L1445.7 2692.7L1448.9 2686.5L1452.1 2680.1L1455.4 2673.4L1458.6 2666.5L1461.8 2659.4L1465 2652L1468.2 2644.4L1471.4 2636.6L1474.6 2628.6L1477.9 2620.4L1481.1 2612L1484.3 2603.3L1487.5 2594.5L1490.7 2585.5L1493.9 2576.2L1497.2 2566.8L1500.4 2557.2L1503.6 2547.4L1506.8 2537.4L1510 2527.2L1513.2 2516.8L1516.4 2506.3L1519.7 2495.5L1522.9 2484.7L1526.1 2473.6L1529.3 2462.4L1532.5 2451L1535.7 2439.4L1539 2427.7L1542.2 2415.8L1545.4 2403.8L1548.6 2391.6L1551.8 2379.2L1555 2366.8L1558.2 2354.1L1561.5 2341.3L1564.7 2328.4L1567.9 2315.3L1571.1 2302.1L1574.3 2288.8L1577.5 2275.3L1580.8 2261.7L1584 2247.9L1587.2 2234.1L1590.4 2220.1L1593.6 2205.9L1596.8 2191.7L1600.1 2177.3L1603.3 2162.8L1606.5 2148.1L1609.7 2133.4L1612.9 2118.5L1616.1 2103.5L1619.3 2088.4L1622.6 2073.2L1625.8 2057.9L1629 2042.4L1632.2 2026.9L1635.4 2011.2L1638.6 1995.4L1641.9 1979.5L1645.1 1963.5L1648.3 1947.4L1651.5 1931.2L1654.7 1914.9L1657.9 1898.5L1661.2 1882L1664.4 1865.4L1667.6 1848.6L1670.8 1831.8L1674 1814.9L1677.2 1797.8L1680.4 1780.7L1683.7 1763.5L1686.9 1746.2L1690.1 1728.7L1693.3 1711.2L1696.5 1693.6L1699.7 1675.9L1703 1658.1L1706.2 1640.2L1709.4 1622.2L1712.6 1604.1L1715.8 1585.9L1719 1567.6L1722.2 1549.2L1725.5 1530.7L1728.7 1512.2L1731.9 1493.5L1735.1 1474.8L1738.3 1455.9L1741.5 1437L1744.8 1418L1748 1398.8L1751.2 1379.6L1754.4 1360.3L1757.6 1340.9L1760.8 1321.5L1764 1301.9L1767.3 1282.2L1770.5 1262.5L1773.7 1242.6L1776.9 1222.7L1780.1 1202.7L1783.3 1182.5L1786.6 1162.3L1789.8 1142L1793 1121.7L1796.2 1101.2L1799.4 1080.6L1802.6 1060L1805.9 1039.2L1809.1 1018.4L1812.3 997.5L1815.5 976.5" stroke="#000000" stroke-width="6"/>
<path d="M272 940.5L275.2 961.4L278.4 982.3L281.6 1003.1L284.9 1023.8L288.1 1044.4L291.3 1064.9L294.5 1085.4L297.7 1105.7L300.9 1125.9L304.2 1146.1L307.4 1166.1L310.6 1186.1L313.8 1205.9L317 1225.7L320.2 1245.4L323.4 1265L326.7 1284.5L329.9 1303.9L333.1 1323.2L336.3 1342.4L339.5 1361.5L342.7 1380.5L346 1399.4L349.2 1418.2L352.4 1437L355.6 1455.6L358.8 1474.1L362 1492.5L365.3 1510.8L368.5 1529.1L371.7 1547.2L374.9 1565.2L378.1 1583.1L381.3 1601L384.5 1618.7L387.8 1636.3L391 1653.8L394.2 1671.2L397.4 1688.5L400.6 1705.7L403.8 1722.8L407.1 1739.7L410.3 1756.6L413.5 1773.3L416.7 1790L419.9 1806.5L423.1 1822.9L426.4 1839.2L429.6 1855.4L432.8 1871.5L436 1887.5L439.2 1903.3L442.4 1919L445.6 1934.6L448.9 1950.1L452.1 1965.5L455.3 1980.7L458.5 1995.8L461.7 2010.8L464.9 2025.6L468.2 2040.4L471.4 2054.9L474.6 2069.4L477.8 2083.7L481 2097.9L484.2 2112L487.4 2125.9L490.7 2139.7L493.9 2153.3L497.1 2166.8L500.3 2180.2L503.5 2193.4L506.7 2206.5L510 2219.4L513.2 2232.1L516.4 2244.7L519.6 2257.2L522.8 2269.5L526 2281.6L529.2 2293.6L532.5 2305.4L535.7 2317.1L538.9 2328.6L542.1 2339.9L545.3 2351.1L548.5 2362.1L551.8 2372.9L555 2383.5L558.2 2394L561.4 2404.3L564.6 2414.4L567.8 2424.3L571.1 2434.1L574.3 2443.6L577.5 2453L580.7 2462.2L583.9 2471.2L587.1 2480L590.3 2488.6L593.6 2497L596.8 2505.2L600 2513.2L603.2 2521L606.4 2528.6L609.6 2536L612.9 2543.2L616.1 2550.1L619.3 2556.9L622.5 2563.5L625.7 2569.8L628.9 2576L632.2 2581.9L635.4 2587.6L638.6 2593.1L641.8 2598.3L645 2603.4L648.2 2608.2L651.4 2612.8L654.7 2617.2L657.9 2621.3L661.1 2625.2L664.3 2628.9L667.5 2632.4L670.7 2635.7L674 2638.7L677.2 2641.5L680.4 2644.1L683.6 2646.4L686.8 2648.5L690 2650.4L693.2 2652.1L696.5 2653.5L699.7 2654.7L702.9 2655.7L706.1 2656.5L709.3 2657L712.5 2657.3L715.8 2657.4L719 2657.3L722.2 2656.9L725.4 2656.4L728.6 2655.6L731.8 2654.6L735 2653.4L738.3 2652L741.5 2650.3L744.7 2648.5L747.9 2646.5L751.1 2644.2L754.3 2641.8L757.6 2639.2L760.8 2636.4L764 2633.3L767.2 2630.1L770.4 2626.8L773.6 2623.2L776.9 2619.5L780.1 2615.5L783.3 2611.5L786.5 2607.2L789.7 2602.8L792.9 2598.3L796.1 2593.5L799.4 2588.7L802.6 2583.7L805.8 2578.5L809 2573.3L812.2 2567.9L815.4 2562.3L818.7 2556.7L821.9 2550.9L825.1 2545.1L828.3 2539.1L831.5 2533.1L834.7 2526.9L837.9 2520.7L841.2 2514.3L844.4 2508L847.6 2501.5L850.8 2495L854 2488.4L857.2 2481.8L860.5 2475.1L863.7 2468.4L866.9 2461.7L870.1 2454.9L873.3 2448.1L876.5 2441.3L879.8 2434.5L883 2427.7L886.2 2420.9L889.4 2414.2L892.6 2407.4L895.8 2400.7L899 2394L902.3 2387.3L905.5 2380.7L908.7 2374.1L911.9 2367.6L915.1 2361.2L918.3 2354.8L921.6 2348.5L924.8 2342.3L928 2336.2L931.2 2330.1L934.4 2324.2L937.6 2318.3L940.9 2312.6L944.1 2307L947.3 2301.5L950.5 2296.1L953.7 2290.9L956.9 2285.8L960.1 2280.9L963.4 2276L966.6 2271.4L969.8 2266.9L973 2262.5L976.2 2258.3L979.4 2254.3L982.7 2250.5L985.9 2246.8L989.1 2243.3L992.3 2240L995.5 2236.9L998.7 2233.9L1001.9 2231.2L1005.2 2228.6L1008.4 2226.2L1011.6 2224.1L1014.8 2222.1L1018 2220.4L1021.2 2218.8L1024.5 2217.4L1027.7 2216.3L1030.9 2215.3L1034.1 2214.6L1037.3 2214.1L1040.5 2213.8L1043.8 2213.7L1047 2213.8L1050.2 2214.1L1053.4 2214.6L1056.6 2215.3L1059.8 2216.3L1063 2217.4L1066.3 2218.8L1069.5 2220.4L1072.7 2222.1L1075.9 2224.1L1079.1 2226.2L1082.3 2228.6L1085.6 2231.2L1088.8 2233.9L1092 2236.9L1095.2 2240L1098.4 2243.3L1101.6 2246.8L1104.8 2250.5L1108.1 2254.3L1111.3 2258.3L1114.5 2262.5L1117.7 2266.9L1120.9 2271.4L1124.1 2276L1127.4 2280.9L1130.6 2285.8L1133.8 2290.9L1137 2296.1L1140.2 2301.5L1143.4 2307L1146.7 2312.6L1149.9 2318.3L1153.1 2324.2L1156.3 2330.1L1159.5 2336.2L1162.7 2342.3L1165.9 2348.5L1169.2 2354.8L1172.4 2361.2L1175.6 2367.6L1178.8 2374.1L1182 2380.7L1185.2 2387.3L1188.5 2394L1191.7 2400.7L1194.9 2407.4L1198.1 2414.2L1201.3 2420.9L1204.5 2427.7L1207.7 2434.5L1211 2441.3L1214.2 2448.1L1217.4 2454.9L1220.6 2461.7L1223.8 2468.4L1227 2475.1L1230.3 2481.8L1233.5 2488.4L1236.7 2495L1239.9 2501.5L1243.1 2508L1246.3 2514.3L1249.5 2520.7L1252.8 2526.9L1256 2533.1L1259.2 2539.1L1262.4 2545.1L1265.6 2550.9L1268.8 2556.7L1272.1 2562.3L1275.3 2567.9L1278.5 2573.3L1281.7 2578.5L1284.9 2583.7L1288.1 2588.7L1291.4 2593.5L1294.6 2598.3L1297.8 2602.8L1301 2607.2L1304.2 2611.5L1307.4 2615.5L1310.6 2619.5L1313.9 2623.2L1317.1 2626.8L1320.3 2630.1L1323.5 2633.3L1326.7 2636.4L1329.9 2639.2L1333.2 2641.8L1336.4 2644.2L1339.6 2646.5L1342.8 2648.5L1346 2650.3L1349.2 2652L1352.4 2653.4L1355.7 2654.6L1358.9 2655.6L1362.1 2656.4L1365.3 2656.9L1368.5 2657.3L1371.7 2657.4L1375 2657.3L1378.2 2657L1381.4 2656.5L1384.6 2655.7L1387.8 2654.7L1391 2653.5L1394.3 2652.1L1397.5 2650.4L1400.7 2648.5L1403.9 2646.4L1407.1 2644.1L1410.3 2641.5L1413.5 2638.7L1416.8 2635.7L1420 2632.4L1423.2 2628.9L1426.4 2625.2L1429.6 2621.3L1432.8 2617.2L1436.1 2612.8L1439.3 2608.2L1442.5 2603.4L1445.7 2598.3L1448.9 2593.1L1452.1 2587.6L1455.4 2581.9L1458.6 2576L1461.8 2569.8L1465 2563.5L1468.2 2556.9L1471.4 2550.1L1474.6 2543.2L1477.9 2536L1481.1 2528.6L1484.3 2521L1487.5 2513.2L1490.7 2505.2L1493.9 2497L1497.2 2488.6L1500.4 2480L1503.6 2471.2L1506.8 2462.2L1510 2453L1513.2 2443.6L1516.4 2434.1L1519.7 2424.3L1522.9 2414.4L1526.1 2404.3L1529.3 2394L1532.5 2383.5L1535.7 2372.9L1539 2362.1L1542.2 2351.1L1545.4 2339.9L1548.6 2328.6L1551.8 2317.1L1555 2305.4L1558.2 2293.6L1561.5 2281.6L1564.7 2269.5L1567.9 2257.2L1571.1 2244.7L1574.3 2232.1L1577.5 2219.4L1580.8 2206.5L1584 2193.4L1587.2 2180.2L1590.4 2166.8L1593.6 2153.3L1596.8 2139.7L1600.1 2125.9L1603.3 2112L1606.5 2097.9L1609.7 2083.7L1612.9 2069.4L1616.1 2054.9L1619.3 2040.4L1622.6 2025.6L1625.8 2010.8L1629 1995.8L1632.2 1980.7L1635.4 1965.5L1638.6 1950.1L1641.9 1934.6L1645.1 1919L1648.3 1903.3L1651.5 1887.5L1654.7 1871.5L1657.9 1855.4L1661.2 1839.2L1664.4 1822.9L1667.6 1806.5L1670.8 1790L1674 1773.3L1677.2 1756.6L1680.4 1739.7L1683.7 1722.8L1686.9 1705.7L1690.1 1688.5L1693.3 1671.2L1696.5 1653.8L1699.7 1636.3L1703 1618.7L1706.2 1601L1709.4 1583.1L1712.6 1565.2L1715.8 1547.2L1719 1529.1L1722.2 1510.8L1725.5 1492.5L1728.7 1474.1L1731.9 1455.6L1735.1 1437L1738.3 1418.2L1741.5 1399.4L1744.8 1380.5L1748 1361.5L1751.2 1342.4L1754.4 1323.2L1757.6 1303.9L1760.8 1284.5L1764 1265L1767.3 1245.4L1770.5 1225.7L1773.7 1205.9L1776.9 1186.1L1780.1 1166.1L1783.3 1146.1L1786.6 1125.9L1789.8 1105.7L1793 1085.4L1796.2 1064.9L1799.4 1044.4L1802.6 1023.8L1805.9 1003.1L1809.1 982.3L1812.3 961.4L1815.5 940.5" stroke="#000000" stroke-width="6" stroke-dasharray="16.4 24.1" stroke-dashoffset="-10.6"/>
<path d="M272 2701.9L275.2 2701.9L278.5 2701.9L281.7 2701.9L284.9 2701.9L288.1 2701.9L291.4 2701.9L294.6 2701.9L297.8 2701.9L301.1 2701.9L304.3 2701.9L307.5 2701.9L310.7 2701.9L314 2701.9L317.2 2701.9L320.4 2701.9L323.7 2701.9L326.9 2701.9L330.1 2701.9L333.4 2701.9L336.6 2701.9L339.8 2701.9L343 2701.9L346.3 2701.9L349.5 2701.9L352.7 2701.9L356 2701.9L359.2 2701.9L362.4 2701.9L365.6 2701.9L368.9 2701.9L372.1 2701.9L375.3 2701.9L378.6 2701.9L381.8 2701.9L385 2701.9L388.2 2701.9L391.5 2701.9L394.7 2701.9L397.9 2701.9L401.2 2701.9L404.4 2701.9L407.6 2701.9L410.9 2701.9L414.1 2701.9L417.3 2701.9L420.5 2701.9L423.8 2701.9L427 2701.9L430.2 2701.9L433.5 2701.9L436.7 2701.9L439.9 2701.9L443.1 2701.9L446.4 2701.9L449.6 2701.9L452.8 2701.9L456.1 2701.9L459.3 2701.9L462.5 2701.9L465.7 2701.9L469 2701.9L472.2 2701.9L475.4 2701.9L478.7 2701.9L481.9 2701.9L485.1 2701.9L488.3 2701.9L491.6 2701.9L494.8 2701.9L498 2701.9L501.3 2701.9L504.5 2701.9L507.7 2701.9L511 2701.9L514.2 2701.8L517.4 2701.8L520.6 2701.8L523.9 2701.8L527.1 2701.7L530.3 2701.7L533.6 2701.6L536.8 2701.5L540 2701.4L543.2 2701.3L546.5 2701.2L549.7 2701L552.9 2700.8L556.2 2700.5L559.4 2700.2L562.6 2699.8L565.8 2699.3L569.1 2698.8L572.3 2698.1L575.5 2697.4L578.8 2696.5L582 2695.4L585.2 2694.2L588.4 2692.8L591.7 2691.1L594.9 2689.2L598.1 2687.1L601.4 2684.6L604.6 2681.8L607.8 2678.7L611.1 2675.2L614.3 2671.2L617.5 2666.9L620.7 2662.1L624 2656.8L627.2 2651L630.4 2644.7L633.7 2638L636.9 2630.7L640.1 2622.9L643.3 2614.7L646.6 2606L649.8 2596.8L653 2587.3L656.3 2577.5L659.5 2567.4L662.7 2557.1L665.9 2546.7L669.2 2536.3L672.4 2525.9L675.6 2515.6L678.9 2505.7L682.1 2496.1L685.3 2487L688.6 2478.4L691.8 2470.5L695 2463.4L698.2 2457.1L701.5 2451.8L704.7 2447.5L707.9 2444.3L711.2 2442.1L714.4 2441.1L717.6 2441.3L720.8 2442.6L724.1 2445L727.3 2448.5L730.5 2453.1L733.8 2458.6L737 2465.1L740.2 2472.5L743.4 2480.5L746.7 2489.3L749.9 2498.6L753.1 2508.3L756.4 2518.4L759.6 2528.7L762.8 2539.1L766 2549.6L769.3 2560L772.5 2570.3L775.7 2580.4L779 2590.2L782.2 2599.6L785.4 2608.7L788.7 2617.3L791.9 2625.4L795.1 2633L798.3 2640.2L801.6 2646.8L804.8 2652.9L808 2658.6L811.3 2663.7L814.5 2668.4L817.7 2672.6L820.9 2676.4L824.2 2679.8L827.4 2682.8L830.6 2685.5L833.9 2687.8L837.1 2689.9L840.3 2691.7L843.5 2693.3L846.8 2694.6L850 2695.8L853.2 2696.8L856.5 2697.6L859.7 2698.3L862.9 2699L866.2 2699.5L869.4 2699.9L872.6 2700.3L875.8 2700.6L879.1 2700.8L882.3 2701L885.5 2701.2L888.8 2701.3L892 2701.5L895.2 2701.5L898.4 2701.6L901.7 2701.7L904.9 2701.7L908.1 2701.8L911.4 2701.8L914.6 2701.8L917.8 2701.8L921 2701.9L924.3 2701.9L927.5 2701.9L930.7 2701.9L934 2701.9L937.2 2701.9L940.4 2701.9L943.6 2701.9L946.9 2701.9L950.1 2701.9L953.3 2701.9L956.6 2701.9L959.8 2701.9L963 2701.9L966.3 2701.9L969.5 2701.9L972.7 2701.9L975.9 2701.9L979.2 2701.9L982.4 2701.9L985.6 2701.9L988.9 2701.9L992.1 2701.9L995.3 2701.9L998.5 2701.9L1001.8 2701.9L1005 2701.9L1008.2 2701.9L1011.5 2701.9L1014.7 2701.9L1017.9 2701.9L1021.1 2701.9L1024.4 2701.9L1027.6 2701.9L1030.8 2701.9L1034.1 2701.9L1037.3 2701.9L1040.5 2701.9L1043.8 2701.9L1047 2701.9L1050.2 2701.9L1053.4 2701.9L1056.7 2701.9L1059.9 2701.9L1063.1 2701.9L1066.4 2701.9L1069.6 2701.9L1072.8 2701.9L1076 2701.9L1079.3 2701.9L1082.5 2701.9L1085.7 2701.9L1089 2701.9L1092.2 2701.9L1095.4 2701.9L1098.6 2701.9L1101.9 2701.9L1105.1 2701.9L1108.3 2701.9L1111.6 2701.9L1114.8 2701.9L1118 2701.9L1121.2 2701.9L1124.5 2701.9L1127.7 2701.9L1130.9 2701.9L1134.2 2701.9L1137.4 2701.9L1140.6 2701.9L1143.9 2701.9L1147.1 2701.9L1150.3 2701.9L1153.5 2701.9L1156.8 2701.9L1160 2701.9L1163.2 2701.9L1166.5 2701.9L1169.7 2701.8L1172.9 2701.8L1176.1 2701.8L1179.4 2701.8L1182.6 2701.7L1185.8 2701.7L1189.1 2701.6L1192.3 2701.5L1195.5 2701.5L1198.7 2701.3L1202 2701.2L1205.2 2701L1208.4 2700.8L1211.7 2700.6L1214.9 2700.3L1218.1 2699.9L1221.3 2699.5L1224.6 2699L1227.8 2698.3L1231 2697.6L1234.3 2696.8L1237.5 2695.8L1240.7 2694.6L1244 2693.3L1247.2 2691.7L1250.4 2689.9L1253.6 2687.8L1256.9 2685.5L1260.1 2682.8L1263.3 2679.8L1266.6 2676.4L1269.8 2672.6L1273 2668.4L1276.2 2663.7L1279.5 2658.6L1282.7 2652.9L1285.9 2646.8L1289.2 2640.2L1292.4 2633L1295.6 2625.4L1298.8 2617.3L1302.1 2608.7L1305.3 2599.6L1308.5 2590.2L1311.8 2580.4L1315 2570.3L1318.2 2560L1321.5 2549.6L1324.7 2539.1L1327.9 2528.7L1331.1 2518.4L1334.4 2508.3L1337.6 2498.6L1340.8 2489.3L1344.1 2480.5L1347.3 2472.5L1350.5 2465.1L1353.7 2458.6L1357 2453.1L1360.2 2448.5L1363.4 2445L1366.7 2442.6L1369.9 2441.3L1373.1 2441.1L1376.3 2442.1L1379.6 2444.3L1382.8 2447.5L1386 2451.8L1389.3 2457.2L1392.5 2463.4L1395.7 2470.5L1398.9 2478.4L1402.2 2487L1405.4 2496.1L1408.6 2505.7L1411.9 2515.7L1415.1 2525.9L1418.3 2536.3L1421.6 2546.7L1424.8 2557.1L1428 2567.4L1431.2 2577.5L1434.5 2587.3L1437.7 2596.8L1440.9 2606L1444.2 2614.7L1447.4 2622.9L1450.6 2630.7L1453.8 2638L1457.1 2644.7L1460.3 2651L1463.5 2656.8L1466.8 2662.1L1470 2666.9L1473.2 2671.2L1476.4 2675.2L1479.7 2678.7L1482.9 2681.8L1486.1 2684.6L1489.4 2687.1L1492.6 2689.2L1495.8 2691.1L1499.1 2692.8L1502.3 2694.2L1505.5 2695.4L1508.7 2696.5L1512 2697.4L1515.2 2698.1L1518.4 2698.8L1521.7 2699.3L1524.9 2699.8L1528.1 2700.2L1531.3 2700.5L1534.6 2700.8L1537.8 2701L1541 2701.2L1544.3 2701.3L1547.5 2701.4L1550.7 2701.5L1553.9 2701.6L1557.2 2701.7L1560.4 2701.7L1563.6 2701.8L1566.9 2701.8L1570.1 2701.8L1573.3 2701.8L1576.5 2701.9L1579.8 2701.9L1583 2701.9L1586.2 2701.9L1589.5 2701.9L1592.7 2701.9L1595.9 2701.9L1599.2 2701.9L1602.4 2701.9L1605.6 2701.9L1608.8 2701.9L1612.1 2701.9L1615.3 2701.9L1618.5 2701.9L1621.8 2701.9L1625 2701.9L1628.2 2701.9L1631.4 2701.9L1634.7 2701.9L1637.9 2701.9L1641.1 2701.9L1644.4 2701.9L1647.6 2701.9L1650.8 2701.9L1654 2701.9L1657.3 2701.9L1660.5 2701.9L1663.7 2701.9L1667 2701.9L1670.2 2701.9L1673.4 2701.9L1676.6 2701.9L1679.9 2701.9L1683.1 2701.9L1686.3 2701.9L1689.6 2701.9L1692.8 2701.9L1696 2701.9L1699.3 2701.9L1702.5 2701.9L1705.7 2701.9L1708.9 2701.9L1712.2 2701.9L1715.4 2701.9L1718.6 2701.9L1721.9 2701.9L1725.1 2701.9L1728.3 2701.9L1731.5 2701.9L1734.8 2701.9L1738 2701.9L1741.2 2701.9L1744.5 2701.9L1747.7 2701.9L1750.9 2701.9L1754.1 2701.9L1757.4 2701.9L1760.6 2701.9L1763.8 2701.9L1767.1 2701.9L1770.3 2701.9L1773.5 2701.9L1776.8 2701.9L1780 2701.9L1783.2 2701.9L1786.4 2701.9L1789.7 2701.9L1792.9 2701.9L1796.1 2701.9L1799.4 2701.9L1802.6 2701.9L1805.8 2701.9L1809 2701.9L1812.3 2701.9L1815.5 2701.9" stroke="#000000" stroke-width="6"/>
<path d="M272 2701.9L275.2 2701.9L278.5 2701.9L281.7 2701.9L284.9 2701.9L288.1 2701.9L291.4 2701.9L294.6 2701.9L297.8 2701.9L301.1 2701.9L304.3 2701.9L307.5 2701.9L310.7 2701.9L314 2701.9L317.2 2701.9L320.4 2701.9L323.7 2701.9L326.9 2701.9L330.1 2701.9L333.4 2701.9L336.6 2701.9L339.8 2701.9L343 2701.9L346.3 2701.9L349.5 2701.9L352.7 2701.9L356 2701.9L359.2 2701.9L362.4 2701.9L365.6 2701.9L368.9 2701.9L372.1 2701.9L375.3 2701.9L378.6 2701.9L381.8 2701.9L385 2701.9L388.2 2701.9L391.5 2701.9L394.7 2701.9L397.9 2701.9L401.2 2701.9L404.4 2701.9L407.6 2701.9L410.9 2701.9L414.1 2701.9L417.3 2701.9L420.5 2701.9L423.8 2701.9L427 2701.9L430.2 2701.9L433.5 2701.9L436.7 2701.9L439.9 2701.9L443.1 2701.9L446.4 2701.9L449.6 2701.9L452.8 2701.9L456.1 2701.9L459.3 2701.9L462.5 2701.9L465.7 2701.9L469 2701.9L472.2 2701.9L475.4 2701.9L478.7 2701.9L481.9 2701.9L485.1 2701.9L488.3 2701.9L491.6 2701.9L494.8 2701.9L498 2701.9L501.3 2701.9L504.5 2701.9L507.7 2701.9L511 2701.9L514.2 2701.9L517.4 2701.8L520.6 2701.8L523.9 2701.8L527.1 2701.7L530.3 2701.7L533.6 2701.6L536.8 2701.6L540 2701.5L543.2 2701.4L546.5 2701.2L549.7 2701L552.9 2700.8L556.2 2700.6L559.4 2700.3L562.6 2699.9L565.8 2699.5L569.1 2699L572.3 2698.4L575.5 2697.6L578.8 2696.8L582 2695.8L585.2 2694.6L588.4 2693.3L591.7 2691.7L594.9 2689.9L598.1 2687.9L601.4 2685.6L604.6 2683L607.8 2680L611.1 2676.7L614.3 2673L617.5 2668.9L620.7 2664.3L624 2659.3L627.2 2653.9L630.4 2648L633.7 2641.6L636.9 2634.7L640.1 2627.4L643.3 2619.6L646.6 2611.4L649.8 2602.8L653 2593.8L656.3 2584.5L659.5 2575L662.7 2565.3L665.9 2555.5L669.2 2545.6L672.4 2535.8L675.6 2526.2L678.9 2516.8L682.1 2507.7L685.3 2499.1L688.6 2491.1L691.8 2483.6L695 2476.9L698.2 2471L701.5 2466L704.7 2461.9L707.9 2458.9L711.2 2456.8L714.4 2455.9L717.6 2456L720.8 2457.2L724.1 2459.5L727.3 2462.8L730.5 2467.2L733.8 2472.4L737 2478.5L740.2 2485.4L743.4 2493.1L746.7 2501.3L749.9 2510.1L753.1 2519.3L756.4 2528.8L759.6 2538.5L762.8 2548.4L766 2558.2L769.3 2568.1L772.5 2577.8L775.7 2587.3L779 2596.5L782.2 2605.4L785.4 2613.9L788.7 2622.1L791.9 2629.7L795.1 2636.9L798.3 2643.7L801.6 2649.9L804.8 2655.7L808 2661L811.3 2665.9L814.5 2670.3L817.7 2674.3L820.9 2677.8L824.2 2681L827.4 2683.9L830.6 2686.4L833.9 2688.6L837.1 2690.6L840.3 2692.3L843.5 2693.7L846.8 2695L850 2696.1L853.2 2697.1L856.5 2697.9L859.7 2698.5L862.9 2699.1L866.2 2699.6L869.4 2700L872.6 2700.4L875.8 2700.6L879.1 2700.9L882.3 2701.1L885.5 2701.2L888.8 2701.4L892 2701.5L895.2 2701.6L898.4 2701.6L901.7 2701.7L904.9 2701.7L908.1 2701.8L911.4 2701.8L914.6 2701.8L917.8 2701.8L921 2701.9L924.3 2701.9L927.5 2701.9L930.7 2701.9L934 2701.9L937.2 2701.9L940.4 2701.9L943.6 2701.9L946.9 2701.9L950.1 2701.9L953.3 2701.9L956.6 2701.9L959.8 2701.9L963 2701.9L966.3 2701.9L969.5 2701.9L972.7 2701.9L975.9 2701.9L979.2 2701.9L982.4 2701.9L985.6 2701.9L988.9 2701.9L992.1 2701.9L995.3 2701.9L998.5 2701.9L1001.8 2701.9L1005 2701.9L1008.2 2701.9L1011.5 2701.9L1014.7 2701.9L1017.9 2701.9L1021.1 2701.9L1024.4 2701.9L1027.6 2701.9L1030.8 2701.9L1034.1 2701.9L1037.3 2701.9L1040.5 2701.9L1043.8 2701.9L1047 2701.9L1050.2 2701.9L1053.4 2701.9L1056.7 2701.9L1059.9 2701.9L1063.1 2701.9L1066.4 2701.9L1069.6 2701.9L1072.8 2701.9L1076 2701.9L1079.3 2701.9L1082.5 2701.9L1085.7 2701.9L1089 2701.9L1092.2 2701.9L1095.4 2701.9L1098.6 2701.9L1101.9 2701.9L1105.1 2701.9L1108.3 2701.9L1111.6 2701.9L1114.8 2701.9L1118 2701.9L1121.2 2701.9L1124.5 2701.9L1127.7 2701.9L1130.9 2701.9L1134.2 2701.9L1137.4 2701.9L1140.6 2701.9L1143.9 2701.9L1147.1 2701.9L1150.3 2701.9L1153.5 2701.9L1156.8 2701.9L1160 2701.9L1163.2 2701.9L1166.5 2701.9L1169.7 2701.8L1172.9 2701.8L1176.1 2701.8L1179.4 2701.8L1182.6 2701.7L1185.8 2701.7L1189.1 2701.6L1192.3 2701.6L1195.5 2701.5L1198.7 2701.4L1202 2701.2L1205.2 2701.1L1208.4 2700.9L1211.7 2700.6L1214.9 2700.4L1218.1 2700L1221.3 2699.6L1224.6 2699.1L1227.8 2698.5L1231 2697.9L1234.3 2697.1L1237.5 2696.1L1240.7 2695L1244 2693.7L1247.2 2692.3L1250.4 2690.6L1253.6 2688.6L1256.9 2686.4L1260.1 2683.9L1263.3 2681L1266.6 2677.8L1269.8 2674.3L1273 2670.3L1276.2 2665.9L1279.5 2661L1282.7 2655.7L1285.9 2649.9L1289.2 2643.7L1292.4 2636.9L1295.6 2629.7L1298.8 2622L1302.1 2613.9L1305.3 2605.4L1308.5 2596.5L1311.8 2587.3L1315 2577.8L1318.2 2568.1L1321.5 2558.2L1324.7 2548.3L1327.9 2538.5L1331.1 2528.8L1334.4 2519.3L1337.6 2510.1L1340.8 2501.3L1344.1 2493.1L1347.3 2485.4L1350.5 2478.5L1353.7 2472.4L1357 2467.2L1360.2 2462.8L1363.4 2459.5L1366.7 2457.2L1369.9 2456L1373.1 2455.9L1376.3 2456.8L1379.6 2458.9L1382.8 2461.9L1386 2466L1389.3 2471L1392.5 2476.9L1395.7 2483.6L1398.9 2491L1402.2 2499.1L1405.4 2507.7L1408.6 2516.8L1411.9 2526.2L1415.1 2535.8L1418.3 2545.6L1421.6 2555.5L1424.8 2565.3L1428 2575L1431.2 2584.5L1434.5 2593.8L1437.7 2602.8L1440.9 2611.4L1444.2 2619.6L1447.4 2627.4L1450.6 2634.7L1453.8 2641.6L1457.1 2648L1460.3 2653.9L1463.5 2659.3L1466.8 2664.3L1470 2668.9L1473.2 2673L1476.4 2676.7L1479.7 2680L1482.9 2683L1486.1 2685.6L1489.4 2687.9L1492.6 2689.9L1495.8 2691.7L1499.1 2693.3L1502.3 2694.6L1505.5 2695.8L1508.7 2696.8L1512 2697.6L1515.2 2698.4L1518.4 2699L1521.7 2699.5L1524.9 2699.9L1528.1 2700.3L1531.3 2700.6L1534.6 2700.8L1537.8 2701L1541 2701.2L1544.3 2701.4L1547.5 2701.5L1550.7 2701.6L1553.9 2701.6L1557.2 2701.7L1560.4 2701.7L1563.6 2701.8L1566.9 2701.8L1570.1 2701.8L1573.3 2701.9L1576.5 2701.9L1579.8 2701.9L1583 2701.9L1586.2 2701.9L1589.5 2701.9L1592.7 2701.9L1595.9 2701.9L1599.2 2701.9L1602.4 2701.9L1605.6 2701.9L1608.8 2701.9L1612.1 2701.9L1615.3 2701.9L1618.5 2701.9L1621.8 2701.9L1625 2701.9L1628.2 2701.9L1631.4 2701.9L1634.7 2701.9L1637.9 2701.9L1641.1 2701.9L1644.4 2701.9L1647.6 2701.9L1650.8 2701.9L1654 2701.9L1657.3 2701.9L1660.5 2701.9L1663.7 2701.9L1667 2701.9L1670.2 2701.9L1673.4 2701.9L1676.6 2701.9L1679.9 2701.9L1683.1 2701.9L1686.3 2701.9L1689.6 2701.9L1692.8 2701.9L1696 2701.9L1699.3 2701.9L1702.5 2701.9L1705.7 2701.9L1708.9 2701.9L1712.2 2701.9L1715.4 2701.9L1718.6 2701.9L1721.9 2701.9L1725.1 2701.9L1728.3 2701.9L1731.5 2701.9L1734.8 2701.9L1738 2701.9L1741.2 2701.9L1744.5 2701.9L1747.7 2701.9L1750.9 2701.9L1754.1 2701.9L1757.4 2701.9L1760.6 2701.9L1763.8 2701.9L1767.1 2701.9L1770.3 2701.9L1773.5 2701.9L1776.8 2701.9L1780 2701.9L1783.2 2701.9L1786.4 2701.9L1789.7 2701.9L1792.9 2701.9L1796.1 2701.9L1799.4 2701.9L1802.6 2701.9L1805.8 2701.9L1809 2701.9L1812.3 2701.9L1815.5 2701.9" stroke="#ff0000" stroke-width="6"/>
<path d="M272 2579.2L275.2 2579.2L278.5 2579.2L281.7 2579.2L284.9 2579.2L288.1 2579.2L291.4 2579.2L294.6 2579.2L297.8 2579.2L301.1 2579.2L304.3 2579.2L307.5 2579.2L310.7 2579.2L314 2579.2L317.2 2579.2L320.4 2579.2L323.7 2579.2L326.9 2579.2L330.1 2579.2L333.4 2579.2L336.6 2579.2L339.8 2579.2L343 2579.2L346.3 2579.2L349.5 2579.2L352.7 2579.2L356 2579.2L359.2 2579.2L362.4 2579.2L365.6 2579.2L368.9 2579.2L372.1 2579.2L375.3 2579.2L378.6 2579.2L381.8 2579.2L385 2579.2L388.2 2579.2L391.5 2579.2L394.7 2579.2L397.9 2579.2L401.2 2579.2L404.4 2579.2L407.6 2579.2L410.9 2579.2L414.1 2579.2L417.3 2579.2L420.5 2579.2L423.8 2579.2L427 2579.2L430.2 2579.2L433.5 2579.2L436.7 2579.2L439.9 2579.2L443.1 2579.2L446.4 2579.2L449.6 2579.2L452.8 2579.2L456.1 2579.2L459.3 2579.2L462.5 2579.2L465.7 2579.2L469 2579.2L472.2 2579.2L475.4 2579.2L478.7 2579.1L481.9 2579.1L485.1 2579.1L488.3 2579L491.6 2579L494.8 2578.9L498 2578.8L501.3 2578.7L504.5 2578.6L507.7 2578.5L511 2578.3L514.2 2578L517.4 2577.7L520.6 2577.4L523.9 2577L527.1 2576.4L530.3 2575.8L533.6 2575.1L536.8 2574.2L540 2573.2L543.2 2571.9L546.5 2570.5L549.7 2568.8L552.9 2566.9L556.2 2564.6L559.4 2562.1L562.6 2559.2L565.8 2555.9L569.1 2552.2L572.3 2548L575.5 2543.4L578.8 2538.3L582 2532.8L585.2 2526.7L588.4 2520.2L591.7 2513.2L594.9 2505.7L598.1 2497.9L601.4 2489.7L604.6 2481.3L607.8 2472.6L611.1 2463.9L614.3 2455.2L617.5 2446.7L620.7 2438.5L624 2430.7L627.2 2423.5L630.4 2417.1L633.7 2411.6L636.9 2407.2L640.1 2404L643.3 2402.2L646.6 2401.7L649.8 2402.8L653 2405.5L656.3 2409.8L659.5 2415.6L662.7 2423L665.9 2431.7L669.2 2441.8L672.4 2452.9L675.6 2465L678.9 2477.6L682.1 2490.7L685.3 2503.8L688.6 2516.7L691.8 2529.1L695 2540.7L698.2 2551.2L701.5 2560.3L704.7 2567.8L707.9 2573.6L711.2 2577.3L714.4 2579.1L717.6 2578.8L720.8 2576.3L724.1 2571.9L727.3 2565.6L730.5 2557.6L733.8 2548L737 2537.1L740.2 2525.3L743.4 2512.7L746.7 2499.7L749.9 2486.6L753.1 2473.6L756.4 2461.1L759.6 2449.4L762.8 2438.6L766 2429L769.3 2420.7L772.5 2413.9L775.7 2408.6L779 2404.9L782.2 2402.8L785.4 2402.3L788.7 2403.2L791.9 2405.6L795.1 2409.2L798.3 2414L801.6 2419.8L804.8 2426.5L808 2433.9L811.3 2441.8L814.5 2450.1L817.7 2458.6L820.9 2467.3L824.2 2475.9L827.4 2484.4L830.6 2492.7L833.9 2500.7L837.1 2508.3L840.3 2515.5L843.5 2522.3L846.8 2528.6L850 2534.5L853.2 2539.8L856.5 2544.7L859.7 2549.1L862.9 2553.1L866.2 2556.6L869.4 2559.7L872.6 2562.5L875.8 2565L879.1 2567.1L882.3 2569L885.5 2570.6L888.8 2572L892 2573.1L895.2 2574.1L898.4 2575L901.7 2575.7L904.9 2576.3L908.1 2576.9L911.4 2577.3L914.6 2577.6L917.8 2577.9L921 2578.2L924.3 2578.4L927.5 2578.5L930.7 2578.7L934 2578.8L937.2 2578.9L940.4 2578.9L943.6 2579L946.9 2579L950.1 2579.1L953.3 2579.1L956.6 2579.1L959.8 2579.1L963 2579.2L966.3 2579.2L969.5 2579.2L972.7 2579.2L975.9 2579.2L979.2 2579.2L982.4 2579.2L985.6 2579.2L988.9 2579.2L992.1 2579.2L995.3 2579.2L998.5 2579.2L1001.8 2579.2L1005 2579.2L1008.2 2579.2L1011.5 2579.2L1014.7 2579.2L1017.9 2579.2L1021.1 2579.2L1024.4 2579.2L1027.6 2579.2L1030.8 2579.2L1034.1 2579.2L1037.3 2579.2L1040.5 2579.2L1043.8 2579.2L1047 2579.2L1050.2 2579.2L1053.4 2579.2L1056.7 2579.2L1059.9 2579.2L1063.1 2579.2L1066.4 2579.2L1069.6 2579.2L1072.8 2579.2L1076 2579.2L1079.3 2579.2L1082.5 2579.2L1085.7 2579.2L1089 2579.2L1092.2 2579.2L1095.4 2579.2L1098.6 2579.2L1101.9 2579.2L1105.1 2579.2L1108.3 2579.2L1111.6 2579.2L1114.8 2579.2L1118 2579.2L1121.2 2579.2L1124.5 2579.2L1127.7 2579.1L1130.9 2579.1L1134.2 2579.1L1137.4 2579.1L1140.6 2579L1143.9 2579L1147.1 2578.9L1150.3 2578.9L1153.5 2578.8L1156.8 2578.7L1160 2578.5L1163.2 2578.4L1166.5 2578.2L1169.7 2577.9L1172.9 2577.6L1176.1 2577.3L1179.4 2576.9L1182.6 2576.3L1185.8 2575.7L1189.1 2575L1192.3 2574.1L1195.5 2573.1L1198.7 2572L1202 2570.6L1205.2 2569L1208.4 2567.1L1211.7 2565L1214.9 2562.5L1218.1 2559.7L1221.3 2556.6L1224.6 2553.1L1227.8 2549.1L1231 2544.7L1234.3 2539.8L1237.5 2534.5L1240.7 2528.6L1244 2522.3L1247.2 2515.5L1250.4 2508.3L1253.6 2500.7L1256.9 2492.7L1260.1 2484.4L1263.3 2475.9L1266.6 2467.3L1269.8 2458.6L1273 2450.1L1276.2 2441.8L1279.5 2433.9L1282.7 2426.5L1285.9 2419.8L1289.2 2414L1292.4 2409.2L1295.6 2405.6L1298.8 2403.2L1302.1 2402.3L1305.3 2402.8L1308.5 2404.9L1311.8 2408.6L1315 2413.9L1318.2 2420.7L1321.5 2429L1324.7 2438.6L1327.9 2449.4L1331.1 2461.1L1334.4 2473.6L1337.6 2486.6L1340.8 2499.7L1344.1 2512.7L1347.3 2525.3L1350.5 2537.1L1353.7 2548L1357 2557.6L1360.2 2565.6L1363.4 2571.9L1366.7 2576.3L1369.9 2578.8L1373.1 2579.1L1376.3 2577.3L1379.6 2573.6L1382.8 2567.8L1386 2560.3L1389.3 2551.2L1392.5 2540.7L1395.7 2529.1L1398.9 2516.7L1402.2 2503.8L1405.4 2490.7L1408.6 2477.6L1411.9 2465L1415.1 2452.9L1418.3 2441.8L1421.6 2431.7L1424.8 2423L1428 2415.6L1431.2 2409.8L1434.5 2405.5L1437.7 2402.8L1440.9 2401.7L1444.2 2402.2L1447.4 2404L1450.6 2407.2L1453.8 2411.6L1457.1 2417.1L1460.3 2423.5L1463.5 2430.7L1466.8 2438.5L1470 2446.7L1473.2 2455.2L1476.4 2463.9L1479.7 2472.6L1482.9 2481.3L1486.1 2489.7L1489.4 2497.9L1492.6 2505.7L1495.8 2513.2L1499.1 2520.2L1502.3 2526.7L1505.5 2532.8L1508.7 2538.3L1512 2543.4L1515.2 2548L1518.4 2552.2L1521.7 2555.9L1524.9 2559.2L1528.1 2562.1L1531.3 2564.6L1534.6 2566.9L1537.8 2568.8L1541 2570.5L1544.3 2571.9L1547.5 2573.2L1550.7 2574.2L1553.9 2575.1L1557.2 2575.8L1560.4 2576.4L1563.6 2577L1566.9 2577.4L1570.1 2577.7L1573.3 2578L1576.5 2578.3L1579.8 2578.5L1583 2578.6L1586.2 2578.7L1589.5 2578.8L1592.7 2578.9L1595.9 2579L1599.2 2579L1602.4 2579.1L1605.6 2579.1L1608.8 2579.1L1612.1 2579.2L1615.3 2579.2L1618.5 2579.2L1621.8 2579.2L1625 2579.2L1628.2 2579.2L1631.4 2579.2L1634.7 2579.2L1637.9 2579.2L1641.1 2579.2L1644.4 2579.2L1647.6 2579.2L1650.8 2579.2L1654 2579.2L1657.3 2579.2L1660.5 2579.2L1663.7 2579.2L1667 2579.2L1670.2 2579.2L1673.4 2579.2L1676.6 2579.2L1679.9 2579.2L1683.1 2579.2L1686.3 2579.2L1689.6 2579.2L1692.8 2579.2L1696 2579.2L1699.3 2579.2L1702.5 2579.2L1705.7 2579.2L1708.9 2579.2L1712.2 2579.2L1715.4 2579.2L1718.6 2579.2L1721.9 2579.2L1725.1 2579.2L1728.3 2579.2L1731.5 2579.2L1734.8 2579.2L1738 2579.2L1741.2 2579.2L1744.5 2579.2L1747.7 2579.2L1750.9 2579.2L1754.1 2579.2L1757.4 2579.2L1760.6 2579.2L1763.8 2579.2L1767.1 2579.2L1770.3 2579.2L1773.5 2579.2L1776.8 2579.2L1780 2579.2L1783.2 2579.2L1786.4 2579.2L1789.7 2579.2L1792.9 2579.2L1796.1 2579.2L1799.4 2579.2L1802.6 2579.2L1805.8 2579.2L1809 2579.2L1812.3 2579.2L1815.5 2579.2" stroke="#0000ff" stroke-width="6"/>
<path d="M272 2579.2L275.2 2579.2L278.5 2579.2L281.7 2579.2L284.9 2579.2L288.1 2579.2L291.4 2579.2L294.6 2579.2L297.8 2579.2L301.1 2579.2L304.3 2579.2L307.5 2579.2L310.7 2579.2L314 2579.2L317.2 2579.2L320.4 2579.2L323.7 2579.2L326.9 2579.2L330.1 2579.2L333.4 2579.2L336.6 2579.2L339.8 2579.2L343 2579.2L346.3 2579.2L349.5 2579.2L352.7 2579.2L356 2579.2L359.2 2579.2L362.4 2579.2L365.6 2579.2L368.9 2579.2L372.1 2579.2L375.3 2579.2L378.6 2579.2L381.8 2579.2L385 2579.2L388.2 2579.2L391.5 2579.2L394.7 2579.2L397.9 2579.2L401.2 2579.2L404.4 2579.2L407.6 2579.2L410.9 2579.2L414.1 2579.2L417.3 2579.2L420.5 2579.2L423.8 2579.2L427 2579.2L430.2 2579.2L433.5 2579.2L436.7 2579.2L439.9 2579.2L443.1 2579.2L446.4 2579.2L449.6 2579.2L452.8 2579.2L456.1 2579.2L459.3 2579.2L462.5 2579.2L465.7 2579.2L469 2579.2L472.2 2579.2L475.4 2579.1L478.7 2579.1L481.9 2579.1L485.1 2579.1L488.3 2579L491.6 2579L494.8 2578.9L498 2578.8L501.3 2578.7L504.5 2578.6L507.7 2578.4L511 2578.2L514.2 2577.9L517.4 2577.6L520.6 2577.3L523.9 2576.8L527.1 2576.2L530.3 2575.6L533.6 2574.8L536.8 2573.8L540 2572.7L543.2 2571.4L546.5 2569.9L549.7 2568.1L552.9 2566L556.2 2563.6L559.4 2560.9L562.6 2557.7L565.8 2554.2L569.1 2550.2L572.3 2545.8L575.5 2540.9L578.8 2535.4L582 2529.4L585.2 2523L588.4 2515.9L591.7 2508.4L594.9 2500.5L598.1 2492.1L601.4 2483.3L604.6 2474.2L607.8 2465L611.1 2455.7L614.3 2446.4L617.5 2437.2L620.7 2428.4L624 2420.1L627.2 2412.4L630.4 2405.5L633.7 2399.7L636.9 2394.9L640.1 2391.5L643.3 2389.5L646.6 2389L649.8 2390.2L653 2393.1L656.3 2397.6L659.5 2403.9L662.7 2411.8L665.9 2421.2L669.2 2431.9L672.4 2443.9L675.6 2456.8L678.9 2470.4L682.1 2484.4L685.3 2498.4L688.6 2512.3L691.8 2525.6L695 2538L698.2 2549.2L701.5 2559L704.7 2567L707.9 2573.1L711.2 2577.2L714.4 2579.1L717.6 2578.7L720.8 2576.1L724.1 2571.4L727.3 2564.6L730.5 2556L733.8 2545.8L737 2534.1L740.2 2521.4L743.4 2507.9L746.7 2494L749.9 2479.9L753.1 2466.1L756.4 2452.7L759.6 2440.1L762.8 2428.6L766 2418.3L769.3 2409.4L772.5 2402.1L775.7 2396.4L779 2392.5L782.2 2390.2L785.4 2389.6L788.7 2390.6L791.9 2393.2L795.1 2397.1L798.3 2402.2L801.6 2408.4L804.8 2415.6L808 2423.5L811.3 2431.9L814.5 2440.8L817.7 2450L820.9 2459.3L824.2 2468.5L827.4 2477.6L830.6 2486.5L833.9 2495.1L837.1 2503.2L840.3 2511L843.5 2518.2L846.8 2525L850 2531.3L853.2 2537L856.5 2542.2L859.7 2546.9L862.9 2551.2L866.2 2555L869.4 2558.4L872.6 2561.3L875.8 2564L879.1 2566.2L882.3 2568.2L885.5 2570L888.8 2571.4L892 2572.7L895.2 2573.8L898.4 2574.7L901.7 2575.5L904.9 2576.1L908.1 2576.7L911.4 2577.1L914.6 2577.5L917.8 2577.8L921 2578.1L924.3 2578.3L927.5 2578.5L930.7 2578.6L934 2578.7L937.2 2578.8L940.4 2578.9L943.6 2579L946.9 2579L950.1 2579.1L953.3 2579.1L956.6 2579.1L959.8 2579.1L963 2579.2L966.3 2579.2L969.5 2579.2L972.7 2579.2L975.9 2579.2L979.2 2579.2L982.4 2579.2L985.6 2579.2L988.9 2579.2L992.1 2579.2L995.3 2579.2L998.5 2579.2L1001.8 2579.2L1005 2579.2L1008.2 2579.2L1011.5 2579.2L1014.7 2579.2L1017.9 2579.2L1021.1 2579.2L1024.4 2579.2L1027.6 2579.2L1030.8 2579.2L1034.1 2579.2L1037.3 2579.2L1040.5 2579.2L1043.8 2579.2L1047 2579.2L1050.2 2579.2L1053.4 2579.2L1056.7 2579.2L1059.9 2579.2L1063.1 2579.2L1066.4 2579.2L1069.6 2579.2L1072.8 2579.2L1076 2579.2L1079.3 2579.2L1082.5 2579.2L1085.7 2579.2L1089 2579.2L1092.2 2579.2L1095.4 2579.2L1098.6 2579.2L1101.9 2579.2L1105.1 2579.2L1108.3 2579.2L1111.6 2579.2L1114.8 2579.2L1118 2579.2L1121.2 2579.2L1124.5 2579.2L1127.7 2579.1L1130.9 2579.1L1134.2 2579.1L1137.4 2579.1L1140.6 2579L1143.9 2579L1147.1 2578.9L1150.3 2578.8L1153.5 2578.7L1156.8 2578.6L1160 2578.5L1163.2 2578.3L1166.5 2578.1L1169.7 2577.8L1172.9 2577.5L1176.1 2577.1L1179.4 2576.7L1182.6 2576.1L1185.8 2575.5L1189.1 2574.7L1192.3 2573.8L1195.5 2572.7L1198.7 2571.4L1202 2570L1205.2 2568.2L1208.4 2566.2L1211.7 2564L1214.9 2561.3L1218.1 2558.4L1221.3 2555L1224.6 2551.2L1227.8 2546.9L1231 2542.2L1234.3 2537L1237.5 2531.3L1240.7 2525L1244 2518.2L1247.2 2511L1250.4 2503.2L1253.6 2495.1L1256.9 2486.5L1260.1 2477.6L1263.3 2468.5L1266.6 2459.3L1269.8 2450L1273 2440.8L1276.2 2431.9L1279.5 2423.5L1282.7 2415.6L1285.9 2408.4L1289.2 2402.2L1292.4 2397.1L1295.6 2393.2L1298.8 2390.6L1302.1 2389.6L1305.3 2390.2L1308.5 2392.5L1311.8 2396.4L1315 2402.1L1318.2 2409.4L1321.5 2418.3L1324.7 2428.6L1327.9 2440.1L1331.1 2452.7L1334.4 2466.1L1337.6 2479.9L1340.8 2494L1344.1 2507.9L1347.3 2521.4L1350.5 2534.1L1353.7 2545.8L1357 2556L1360.2 2564.6L1363.4 2571.4L1366.7 2576.1L1369.9 2578.7L1373.1 2579.1L1376.3 2577.2L1379.6 2573.1L1382.8 2567L1386 2559L1389.3 2549.2L1392.5 2538L1395.7 2525.6L1398.9 2512.3L1402.2 2498.4L1405.4 2484.4L1408.6 2470.4L1411.9 2456.8L1415.1 2443.9L1418.3 2431.9L1421.6 2421.2L1424.8 2411.8L1428 2403.9L1431.2 2397.6L1434.5 2393.1L1437.7 2390.2L1440.9 2389L1444.2 2389.5L1447.4 2391.5L1450.6 2394.9L1453.8 2399.7L1457.1 2405.5L1460.3 2412.4L1463.5 2420.1L1466.8 2428.4L1470 2437.2L1473.2 2446.4L1476.4 2455.7L1479.7 2465L1482.9 2474.2L1486.1 2483.3L1489.4 2492.1L1492.6 2500.5L1495.8 2508.4L1499.1 2515.9L1502.3 2523L1505.5 2529.4L1508.7 2535.4L1512 2540.9L1515.2 2545.8L1518.4 2550.2L1521.7 2554.2L1524.9 2557.7L1528.1 2560.9L1531.3 2563.6L1534.6 2566L1537.8 2568.1L1541 2569.9L1544.3 2571.4L1547.5 2572.7L1550.7 2573.8L1553.9 2574.8L1557.2 2575.6L1560.4 2576.2L1563.6 2576.8L1566.9 2577.3L1570.1 2577.6L1573.3 2577.9L1576.5 2578.2L1579.8 2578.4L1583 2578.6L1586.2 2578.7L1589.5 2578.8L1592.7 2578.9L1595.9 2579L1599.2 2579L1602.4 2579.1L1605.6 2579.1L1608.8 2579.1L1612.1 2579.1L1615.3 2579.2L1618.5 2579.2L1621.8 2579.2L1625 2579.2L1628.2 2579.2L1631.4 2579.2L1634.7 2579.2L1637.9 2579.2L1641.1 2579.2L1644.4 2579.2L1647.6 2579.2L1650.8 2579.2L1654 2579.2L1657.3 2579.2L1660.5 2579.2L1663.7 2579.2L1667 2579.2L1670.2 2579.2L1673.4 2579.2L1676.6 2579.2L1679.9 2579.2L1683.1 2579.2L1686.3 2579.2L1689.6 2579.2L1692.8 2579.2L1696 2579.2L1699.3 2579.2L1702.5 2579.2L1705.7 2579.2L1708.9 2579.2L1712.2 2579.2L1715.4 2579.2L1718.6 2579.2L1721.9 2579.2L1725.1 2579.2L1728.3 2579.2L1731.5 2579.2L1734.8 2579.2L1738 2579.2L1741.2 2579.2L1744.5 2579.2L1747.7 2579.2L1750.9 2579.2L1754.1 2579.2L1757.4 2579.2L1760.6 2579.2L1763.8 2579.2L1767.1 2579.2L1770.3 2579.2L1773.5 2579.2L1776.8 2579.2L1780 2579.2L1783.2 2579.2L1786.4 2579.2L1789.7 2579.2L1792.9 2579.2L1796.1 2579.2L1799.4 2579.2L1802.6 2579.2L1805.8 2579.2L1809 2579.2L1812.3 2579.2L1815.5 2579.2" stroke="#008000" stroke-width="6"/>
<path d="M272 2601.8L278.5 2601.8L284.9 2601.8L291.4 2601.8L297.8 2601.8L304.3 2601.8L310.7 2601.8L317.2 2601.8L323.7 2601.8L330.1 2601.8L336.6 2601.8L343 2601.8L349.5 2601.8L356 2601.8L362.4 2601.8L368.9 2601.8L375.3 2601.8L381.8 2601.8L388.2 2601.8L394.7 2601.8L401.2 2601.8L407.6 2601.8L414.1 2601.8L420.5 2601.8L427 2601.8L433.5 2601.8L439.9 2601.8L446.4 2601.8L452.8 2601.8L459.3 2601.8L465.7 2601.8L472.2 2601.8L478.7 2601.8L485.1 2601.8L491.6 2601.8L498 2601.8L504.5 2601.8L511 2601.8L517.4 2601.7L523.9 2601.6L530.3 2601.5L536.8 2601.3L543.2 2601.1L549.7 2600.7L556.2 2600.1L562.6 2599.3L569.1 2598.2L575.5 2596.6L582 2594.6L588.4 2591.8L594.9 2588.2L601.4 2583.7L607.8 2577.9L614.3 2570.9L620.7 2562.3L627.2 2552.3L633.7 2540.6L640.1 2527.3L646.6 2512.5L653 2496.6L659.5 2479.7L665.9 2462.3L672.4 2445L678.9 2428.3L685.3 2412.8L691.8 2399.1L698.2 2387.9L704.7 2379.5L711.2 2374.4L717.6 2372.8L724.1 2374.7L730.5 2380.1L737 2388.6L743.4 2399.9L749.9 2413.5L756.4 2428.8L762.8 2445.2L769.3 2462.2L775.7 2479.1L782.2 2495.5L788.7 2511L795.1 2525.4L801.6 2538.3L808 2549.8L814.5 2559.8L820.9 2568.3L827.4 2575.5L833.9 2581.3L840.3 2586.1L846.8 2589.9L853.2 2592.9L859.7 2595.2L866.2 2597L872.6 2598.3L879.1 2599.3L885.5 2600.1L892 2600.6L898.4 2601L904.9 2601.2L911.4 2601.4L917.8 2601.6L924.3 2601.6L930.7 2601.7L937.2 2601.8L943.6 2601.8L950.1 2601.8L956.6 2601.8L963 2601.8L969.5 2601.8L975.9 2601.8L982.4 2601.8L988.9 2601.8L995.3 2601.8L1001.8 2601.8L1008.2 2601.8L1014.7 2601.8L1021.1 2601.8L1027.6 2601.8L1034.1 2601.8L1040.5 2601.8L1047 2601.8L1053.4 2601.8L1059.9 2601.8L1066.4 2601.8L1072.8 2601.8L1079.3 2601.8L1085.7 2601.8L1092.2 2601.8L1098.6 2601.8L1105.1 2601.8L1111.6 2601.8L1118 2601.8L1124.5 2601.8L1130.9 2601.8L1137.4 2601.8L1143.9 2601.8L1150.3 2601.8L1156.8 2601.7L1163.2 2601.6L1169.7 2601.6L1176.1 2601.4L1182.6 2601.2L1189.1 2601L1195.5 2600.6L1202 2600.1L1208.4 2599.3L1214.9 2598.3L1221.3 2597L1227.8 2595.2L1234.3 2592.9L1240.7 2589.9L1247.2 2586.1L1253.6 2581.3L1260.1 2575.5L1266.6 2568.3L1273 2559.8L1279.5 2549.8L1285.9 2538.3L1292.4 2525.4L1298.8 2511L1305.3 2495.5L1311.8 2479.1L1318.2 2462.2L1324.7 2445.2L1331.1 2428.8L1337.6 2413.5L1344.1 2399.9L1350.5 2388.6L1357 2380.1L1363.4 2374.7L1369.9 2372.8L1376.3 2374.4L1382.8 2379.5L1389.3 2387.9L1395.7 2399.1L1402.2 2412.8L1408.6 2428.3L1415.1 2445L1421.6 2462.3L1428 2479.7L1434.5 2496.6L1440.9 2512.5L1447.4 2527.3L1453.8 2540.6L1460.3 2552.3L1466.8 2562.3L1473.2 2570.9L1479.7 2577.9L1486.1 2583.7L1492.6 2588.2L1499.1 2591.8L1505.5 2594.6L1512 2596.6L1518.4 2598.2L1524.9 2599.3L1531.3 2600.1L1537.8 2600.7L1544.3 2601.1L1550.7 2601.3L1557.2 2601.5L1563.6 2601.6L1570.1 2601.7L1576.5 2601.8L1583 2601.8L1589.5 2601.8L1595.9 2601.8L1602.4 2601.8L1608.8 2601.8L1615.3 2601.8L1621.8 2601.8L1628.2 2601.8L1634.7 2601.8L1641.1 2601.8L1647.6 2601.8L1654 2601.8L1660.5 2601.8L1667 2601.8L1673.4 2601.8L1679.9 2601.8L1686.3 2601.8L1692.8 2601.8L1699.3 2601.8L1705.7 2601.8L1712.2 2601.8L1718.6 2601.8L1725.1 2601.8L1731.5 2601.8L1738 2601.8L1744.5 2601.8L1750.9 2601.8L1757.4 2601.8L1763.8 2601.8L1770.3 2601.8L1776.8 2601.8L1783.2 2601.8L1789.7 2601.8L1796.1 2601.8L1802.6 2601.8L1809 2601.8L1815.5 2601.8" stroke="#000000" stroke-width="6" stroke-dasharray="16.4 24.1" stroke-dashoffset="0"/>
<path d="M272 2601.8L278.5 2601.8L284.9 2601.8L291.4 2601.8L297.8 2601.8L304.3 2601.8L310.7 2601.8L317.2 2601.8L323.7 2601.8L330.1 2601.8L336.6 2601.8L343 2601.8L349.5 2601.8L356 2601.8L362.4 2601.8L368.9 2601.8L375.3 2601.8L381.8 2601.8L388.2 2601.8L394.7 2601.8L401.2 2601.8L407.6 2601.8L414.1 2601.8L420.5 2601.8L427 2601.8L433.5 2601.8L439.9 2601.8L446.4 2601.8L452.8 2601.8L459.3 2601.8L465.7 2601.8L472.2 2601.8L478.7 2601.8L485.1 2601.8L491.6 2601.8L498 2601.8L504.5 2601.8L511 2601.7L517.4 2601.7L523.9 2601.6L530.3 2601.5L536.8 2601.3L543.2 2601L549.7 2600.6L556.2 2600L562.6 2599.1L569.1 2597.9L575.5 2596.3L582 2594.1L588.4 2591.1L594.9 2587.3L601.4 2582.4L607.8 2576.3L614.3 2568.7L620.7 2559.6L627.2 2548.8L633.7 2536.3L640.1 2522.1L646.6 2506.4L653 2489.3L659.5 2471.3L665.9 2452.7L672.4 2434.2L678.9 2416.3L685.3 2399.7L691.8 2385.1L698.2 2373.1L704.7 2364.2L711.2 2358.7L717.6 2357L724.1 2359L730.5 2364.8L737 2373.9L743.4 2386L749.9 2400.5L756.4 2416.9L762.8 2434.4L769.3 2452.5L775.7 2470.6L782.2 2488.1L788.7 2504.7L795.1 2520.1L801.6 2533.9L808 2546.2L814.5 2556.9L820.9 2566L827.4 2573.6L833.9 2579.9L840.3 2585L846.8 2589.1L853.2 2592.3L859.7 2594.8L866.2 2596.7L872.6 2598.1L879.1 2599.1L885.5 2599.9L892 2600.5L898.4 2600.9L904.9 2601.2L911.4 2601.4L917.8 2601.5L924.3 2601.6L930.7 2601.7L937.2 2601.7L943.6 2601.8L950.1 2601.8L956.6 2601.8L963 2601.8L969.5 2601.8L975.9 2601.8L982.4 2601.8L988.9 2601.8L995.3 2601.8L1001.8 2601.8L1008.2 2601.8L1014.7 2601.8L1021.1 2601.8L1027.6 2601.8L1034.1 2601.8L1040.5 2601.8L1047 2601.8L1053.4 2601.8L1059.9 2601.8L1066.4 2601.8L1072.8 2601.8L1079.3 2601.8L1085.7 2601.8L1092.2 2601.8L1098.6 2601.8L1105.1 2601.8L1111.6 2601.8L1118 2601.8L1124.5 2601.8L1130.9 2601.8L1137.4 2601.8L1143.9 2601.8L1150.3 2601.7L1156.8 2601.7L1163.2 2601.6L1169.7 2601.5L1176.1 2601.4L1182.6 2601.2L1189.1 2600.9L1195.5 2600.5L1202 2599.9L1208.4 2599.1L1214.9 2598.1L1221.3 2596.7L1227.8 2594.8L1234.3 2592.3L1240.7 2589.1L1247.2 2585L1253.6 2579.9L1260.1 2573.6L1266.6 2566L1273 2556.9L1279.5 2546.2L1285.9 2533.9L1292.4 2520.1L1298.8 2504.7L1305.3 2488.1L1311.8 2470.6L1318.2 2452.5L1324.7 2434.4L1331.1 2416.9L1337.6 2400.5L1344.1 2386L1350.5 2373.9L1357 2364.8L1363.4 2359L1369.9 2357L1376.3 2358.7L1382.8 2364.2L1389.3 2373.1L1395.7 2385.1L1402.2 2399.7L1408.6 2416.3L1415.1 2434.2L1421.6 2452.7L1428 2471.3L1434.5 2489.3L1440.9 2506.4L1447.4 2522.1L1453.8 2536.3L1460.3 2548.8L1466.8 2559.6L1473.2 2568.7L1479.7 2576.3L1486.1 2582.4L1492.6 2587.3L1499.1 2591.1L1505.5 2594.1L1512 2596.3L1518.4 2597.9L1524.9 2599.1L1531.3 2600L1537.8 2600.6L1544.3 2601L1550.7 2601.3L1557.2 2601.5L1563.6 2601.6L1570.1 2601.7L1576.5 2601.7L1583 2601.8L1589.5 2601.8L1595.9 2601.8L1602.4 2601.8L1608.8 2601.8L1615.3 2601.8L1621.8 2601.8L1628.2 2601.8L1634.7 2601.8L1641.1 2601.8L1647.6 2601.8L1654 2601.8L1660.5 2601.8L1667 2601.8L1673.4 2601.8L1679.9 2601.8L1686.3 2601.8L1692.8 2601.8L1699.3 2601.8L1705.7 2601.8L1712.2 2601.8L1718.6 2601.8L1725.1 2601.8L1731.5 2601.8L1738 2601.8L1744.5 2601.8L1750.9 2601.8L1757.4 2601.8L1763.8 2601.8L1770.3 2601.8L1776.8 2601.8L1783.2 2601.8L1789.7 2601.8L1796.1 2601.8L1802.6 2601.8L1809 2601.8L1815.5 2601.8" stroke="#ff0000" stroke-width="6" stroke-dasharray="16.4 24.1" stroke-dashoffset="0"/>
<path d="M272 2494.6L278.5 2494.6L284.9 2494.6L291.4 2494.6L297.8 2494.6L304.3 2494.6L310.7 2494.6L317.2 2494.6L323.7 2494.6L330.1 2494.6L336.6 2494.6L343 2494.6L349.5 2494.6L356 2494.6L362.4 2494.6L368.9 2494.6L375.3 2494.6L381.8 2494.6L388.2 2494.6L394.7 2494.6L401.2 2494.6L407.6 2494.6L414.1 2494.6L420.5 2494.6L427 2494.6L433.5 2494.6L439.9 2494.5L446.4 2494.5L452.8 2494.5L459.3 2494.5L465.7 2494.5L472.2 2494.5L478.7 2494.4L485.1 2494.4L491.6 2494.3L498 2494.1L504.5 2493.8L511 2493.4L517.4 2492.8L523.9 2492L530.3 2490.8L536.8 2489.1L543.2 2486.7L549.7 2483.6L556.2 2479.4L562.6 2474L569.1 2467.3L575.5 2459L582 2449.1L588.4 2437.6L594.9 2424.5L601.4 2410.2L607.8 2395.2L614.3 2380L620.7 2365.5L627.2 2352.6L633.7 2342.4L640.1 2335.7L646.6 2333.5L653 2336.3L659.5 2344.3L665.9 2357.3L672.4 2374.7L678.9 2395.4L685.3 2417.7L691.8 2440.1L698.2 2460.5L704.7 2477.2L711.2 2488.8L717.6 2494.2L724.1 2492.9L730.5 2485L737 2471.3L743.4 2452.9L749.9 2431.4L756.4 2408.6L762.8 2386.2L769.3 2366L775.7 2349.2L782.2 2336.7L788.7 2329.2L795.1 2326.7L801.6 2328.9L808 2335.2L814.5 2344.9L820.9 2357.1L827.4 2370.9L833.9 2385.5L840.3 2400.1L846.8 2414.2L853.2 2427.4L859.7 2439.2L866.2 2449.7L872.6 2458.7L879.1 2466.3L885.5 2472.6L892 2477.7L898.4 2481.7L904.9 2484.9L911.4 2487.4L917.8 2489.3L924.3 2490.7L930.7 2491.8L937.2 2492.6L943.6 2493.2L950.1 2493.6L956.6 2493.9L963 2494.1L969.5 2494.2L975.9 2494.3L982.4 2494.4L988.9 2494.4L995.3 2494.5L1001.8 2494.5L1008.2 2494.5L1014.7 2494.5L1021.1 2494.5L1027.6 2494.5L1034.1 2494.5L1040.5 2494.5L1047 2494.5L1053.4 2494.5L1059.9 2494.5L1066.4 2494.5L1072.8 2494.5L1079.3 2494.5L1085.7 2494.5L1092.2 2494.5L1098.6 2494.4L1105.1 2494.4L1111.6 2494.3L1118 2494.2L1124.5 2494.1L1130.9 2493.9L1137.4 2493.6L1143.9 2493.2L1150.3 2492.6L1156.8 2491.8L1163.2 2490.7L1169.7 2489.3L1176.1 2487.4L1182.6 2484.9L1189.1 2481.7L1195.5 2477.7L1202 2472.6L1208.4 2466.3L1214.9 2458.7L1221.3 2449.7L1227.8 2439.2L1234.3 2427.4L1240.7 2414.2L1247.2 2400.1L1253.6 2385.5L1260.1 2370.9L1266.6 2357.1L1273 2344.9L1279.5 2335.2L1285.9 2328.9L1292.4 2326.7L1298.8 2329.2L1305.3 2336.7L1311.8 2349.2L1318.2 2366L1324.7 2386.2L1331.1 2408.6L1337.6 2431.4L1344.1 2452.9L1350.5 2471.3L1357 2485L1363.4 2492.9L1369.9 2494.2L1376.3 2488.8L1382.8 2477.2L1389.3 2460.5L1395.7 2440.1L1402.2 2417.7L1408.6 2395.4L1415.1 2374.7L1421.6 2357.3L1428 2344.3L1434.5 2336.3L1440.9 2333.5L1447.4 2335.7L1453.8 2342.4L1460.3 2352.6L1466.8 2365.5L1473.2 2380L1479.7 2395.2L1486.1 2410.2L1492.6 2424.5L1499.1 2437.6L1505.5 2449.1L1512 2459L1518.4 2467.3L1524.9 2474L1531.3 2479.4L1537.8 2483.6L1544.3 2486.7L1550.7 2489.1L1557.2 2490.8L1563.6 2492L1570.1 2492.8L1576.5 2493.4L1583 2493.8L1589.5 2494.1L1595.9 2494.3L1602.4 2494.4L1608.8 2494.4L1615.3 2494.5L1621.8 2494.5L1628.2 2494.5L1634.7 2494.5L1641.1 2494.5L1647.6 2494.5L1654 2494.6L1660.5 2494.6L1667 2494.6L1673.4 2494.6L1679.9 2494.6L1686.3 2494.6L1692.8 2494.6L1699.3 2494.6L1705.7 2494.6L1712.2 2494.6L1718.6 2494.6L1725.1 2494.6L1731.5 2494.6L1738 2494.6L1744.5 2494.6L1750.9 2494.6L1757.4 2494.6L1763.8 2494.6L1770.3 2494.6L1776.8 2494.6L1783.2 2494.6L1789.7 2494.6L1796.1 2494.6L1802.6 2494.6L1809 2494.6L1815.5 2494.6" stroke="#0000ff" stroke-width="6" stroke-dasharray="16.4 24.1" stroke-dashoffset="0"/>
<path d="M272 2494.5L278.5 2494.5L284.9 2494.5L291.4 2494.5L297.8 2494.5L304.3 2494.5L310.7 2494.5L317.2 2494.5L323.7 2494.5L330.1 2494.5L336.6 2494.5L343 2494.5L349.5 2494.5L356 2494.5L362.4 2494.5L368.9 2494.5L375.3 2494.5L381.8 2494.5L388.2 2494.5L394.7 2494.5L401.2 2494.5L407.6 2494.5L414.1 2494.5L420.5 2494.5L427 2494.5L433.5 2494.5L439.9 2494.5L446.4 2494.5L452.8 2494.5L459.3 2494.5L465.7 2494.5L472.2 2494.5L478.7 2494.4L485.1 2494.4L491.6 2494.2L498 2494.1L504.5 2493.8L511 2493.4L517.4 2492.7L523.9 2491.8L530.3 2490.5L536.8 2488.7L543.2 2486.2L549.7 2482.8L556.2 2478.4L562.6 2472.6L569.1 2465.4L575.5 2456.6L582 2446L588.4 2433.6L594.9 2419.7L601.4 2404.4L607.8 2388.3L614.3 2372.1L620.7 2356.6L627.2 2342.9L633.7 2331.9L640.1 2324.8L646.6 2322.4L653 2325.4L659.5 2334L665.9 2347.9L672.4 2366.5L678.9 2388.6L685.3 2412.5L691.8 2436.3L698.2 2458.2L704.7 2476.1L711.2 2488.4L717.6 2494.2L724.1 2492.8L730.5 2484.4L737 2469.7L743.4 2450L749.9 2427L756.4 2402.7L762.8 2378.8L769.3 2357.2L775.7 2339.2L782.2 2325.9L788.7 2317.9L795.1 2315.2L801.6 2317.5L808 2324.3L814.5 2334.7L820.9 2347.7L827.4 2362.5L833.9 2378L840.3 2393.7L846.8 2408.8L853.2 2422.8L859.7 2435.5L866.2 2446.6L872.6 2456.3L879.1 2464.4L885.5 2471.1L892 2476.5L898.4 2480.9L904.9 2484.3L911.4 2486.9L917.8 2489L924.3 2490.5L930.7 2491.6L937.2 2492.5L943.6 2493.1L950.1 2493.5L956.6 2493.8L963 2494L969.5 2494.2L975.9 2494.3L982.4 2494.4L988.9 2494.4L995.3 2494.5L1001.8 2494.5L1008.2 2494.5L1014.7 2494.5L1021.1 2494.5L1027.6 2494.5L1034.1 2494.5L1040.5 2494.5L1047 2494.5L1053.4 2494.5L1059.9 2494.5L1066.4 2494.5L1072.8 2494.5L1079.3 2494.5L1085.7 2494.5L1092.2 2494.5L1098.6 2494.4L1105.1 2494.4L1111.6 2494.3L1118 2494.2L1124.5 2494L1130.9 2493.8L1137.4 2493.5L1143.9 2493.1L1150.3 2492.5L1156.8 2491.6L1163.2 2490.5L1169.7 2489L1176.1 2486.9L1182.6 2484.3L1189.1 2480.9L1195.5 2476.5L1202 2471.1L1208.4 2464.4L1214.9 2456.3L1221.3 2446.6L1227.8 2435.5L1234.3 2422.8L1240.7 2408.8L1247.2 2393.7L1253.6 2378L1260.1 2362.5L1266.6 2347.7L1273 2334.7L1279.5 2324.3L1285.9 2317.5L1292.4 2315.2L1298.8 2317.9L1305.3 2325.9L1311.8 2339.2L1318.2 2357.2L1324.7 2378.8L1331.1 2402.7L1337.6 2427L1344.1 2450L1350.5 2469.7L1357 2484.4L1363.4 2492.8L1369.9 2494.2L1376.3 2488.4L1382.8 2476.1L1389.3 2458.2L1395.7 2436.3L1402.2 2412.5L1408.6 2388.6L1415.1 2366.5L1421.6 2347.9L1428 2334L1434.5 2325.4L1440.9 2322.4L1447.4 2324.8L1453.8 2331.9L1460.3 2342.9L1466.8 2356.6L1473.2 2372.1L1479.7 2388.3L1486.1 2404.4L1492.6 2419.7L1499.1 2433.6L1505.5 2446L1512 2456.6L1518.4 2465.4L1524.9 2472.6L1531.3 2478.4L1537.8 2482.8L1544.3 2486.2L1550.7 2488.7L1557.2 2490.5L1563.6 2491.8L1570.1 2492.7L1576.5 2493.4L1583 2493.8L1589.5 2494.1L1595.9 2494.2L1602.4 2494.4L1608.8 2494.4L1615.3 2494.5L1621.8 2494.5L1628.2 2494.5L1634.7 2494.5L1641.1 2494.5L1647.6 2494.5L1654 2494.5L1660.5 2494.5L1667 2494.5L1673.4 2494.5L1679.9 2494.5L1686.3 2494.5L1692.8 2494.5L1699.3 2494.5L1705.7 2494.5L1712.2 2494.5L1718.6 2494.5L1725.1 2494.5L1731.5 2494.5L1738 2494.5L1744.5 2494.5L1750.9 2494.5L1757.4 2494.5L1763.8 2494.5L1770.3 2494.5L1776.8 2494.5L1783.2 2494.5L1789.7 2494.5L1796.1 2494.5L1802.6 2494.5L1809 2494.5L1815.5 2494.5" stroke="#008000" stroke-width="6" stroke-dasharray="16.4 24.1" stroke-dashoffset="0"/>
</g>
<g clip-path="url(#c3)" fill="none" stroke-linejoin="round" stroke-linecap="round" shape-rendering="crispEdges">
<path d="M253 2545.5L256.2 2566.8L259.5 2587.9L262.7 2608.9L266 2629.9L269.2 2650.8L272.5 2671.5L275.7 2692.2L279 2712.8L282.2 2733.3L285.5 2753.8L288.7 2774.1L292 2794.3L295.2 2814.5L298.5 2834.5L301.7 2854.5L305 2874.3L308.2 2894.1L311.5 2913.8L314.7 2933.4L318 2952.9L321.2 2972.3L324.5 2991.6L327.7 3010.9L330.9 3030L334.2 3049L337.4 3068L340.7 3086.8L343.9 3105.6L347.2 3124.3L350.4 3142.8L353.7 3161.3L356.9 3179.7L360.2 3198L363.4 3216.2L366.7 3234.3L369.9 3252.3L373.2 3270.2L376.4 3288L379.7 3305.7L382.9 3323.3L386.2 3340.8L389.4 3358.2L392.7 3375.5L395.9 3392.7L399.2 3409.8L402.4 3426.8L405.7 3443.7L408.9 3460.5L412.1 3477.2L415.4 3493.8L418.6 3510.3L421.9 3526.7L425.1 3542.9L428.4 3559.1L431.6 3575.1L434.9 3591.1L438.1 3606.9L441.4 3622.6L444.6 3638.2L447.9 3653.7L451.1 3669.1L454.4 3684.4L457.6 3699.5L460.9 3714.5L464.1 3729.5L467.4 3744.2L470.6 3758.9L473.9 3773.4L477.1 3787.8L480.4 3802.1L483.6 3816.3L486.9 3830.3L490.1 3844.2L493.3 3858L496.6 3871.6L499.8 3885.1L503.1 3898.4L506.3 3911.6L509.6 3924.7L512.8 3937.6L516.1 3950.4L519.3 3963L522.6 3975.4L525.8 3987.8L529.1 3999.9L532.3 4011.9L535.6 4023.8L538.8 4035.4L542.1 4047L545.3 4058.3L548.6 4069.5L551.8 4080.5L555.1 4091.3L558.3 4102L561.6 4112.4L564.8 4122.7L568 4132.8L571.3 4142.8L574.5 4152.5L577.8 4162L581 4171.3L584.3 4180.5L587.5 4189.4L590.8 4198.1L594 4206.7L597.3 4215L600.5 4223.1L603.8 4230.9L607 4238.6L610.3 4246L613.5 4253.2L616.8 4260.2L620 4266.9L623.3 4273.5L626.5 4279.7L629.8 4285.8L633 4291.6L636.3 4297.1L639.5 4302.4L642.8 4307.5L646 4312.2L649.2 4316.8L652.5 4321.1L655.7 4325.1L659 4328.8L662.2 4332.3L665.5 4335.5L668.7 4338.5L672 4341.2L675.2 4343.6L678.5 4345.7L681.7 4347.5L685 4349.1L688.2 4350.4L691.5 4351.4L694.7 4352.1L698 4352.6L701.2 4352.7L704.5 4352.6L707.7 4352.2L711 4351.5L714.2 4350.5L717.5 4349.2L720.7 4347.7L723.9 4345.8L727.2 4343.7L730.4 4341.3L733.7 4338.6L736.9 4335.6L740.2 4332.3L743.4 4328.8L746.7 4325L749.9 4320.9L753.2 4316.5L756.4 4311.9L759.7 4307L762.9 4301.8L766.2 4296.4L769.4 4290.7L772.7 4284.7L775.9 4278.5L779.2 4272.1L782.4 4265.4L785.7 4258.5L788.9 4251.3L792.2 4243.9L795.4 4236.3L798.6 4228.5L801.9 4220.5L805.1 4212.3L808.4 4203.8L811.6 4195.2L814.9 4186.4L818.1 4177.5L821.4 4168.3L824.6 4159L827.9 4149.6L831.1 4140L834.4 4130.3L837.6 4120.4L840.9 4110.4L844.1 4100.4L847.4 4090.2L850.6 4079.9L853.9 4069.5L857.1 4059.1L860.4 4048.6L863.6 4038.1L866.9 4027.5L870.1 4016.9L873.4 4006.3L876.6 3995.6L879.8 3985L883.1 3974.4L886.3 3963.8L889.6 3953.2L892.8 3942.7L896.1 3932.2L899.3 3921.8L902.6 3911.4L905.8 3901.2L909.1 3891L912.3 3881L915.6 3871L918.8 3861.2L922.1 3851.6L925.3 3842.1L928.6 3832.7L931.8 3823.5L935.1 3814.5L938.3 3805.7L941.6 3797.1L944.8 3788.7L948.1 3780.5L951.3 3772.5L954.6 3764.8L957.8 3757.3L961 3750.1L964.3 3743.1L967.5 3736.4L970.8 3730L974 3723.9L977.3 3718L980.5 3712.5L983.8 3707.2L987 3702.3L990.3 3697.7L993.5 3693.3L996.8 3689.4L1000 3685.7L1003.3 3682.4L1006.5 3679.4L1009.8 3676.8L1013 3674.5L1016.3 3672.6L1019.5 3671L1022.8 3669.8L1026 3668.9L1029.3 3668.3L1032.5 3668.2L1035.7 3668.3L1039 3668.9L1042.2 3669.8L1045.5 3671L1048.7 3672.6L1052 3674.5L1055.2 3676.8L1058.5 3679.4L1061.7 3682.4L1065 3685.7L1068.2 3689.4L1071.5 3693.3L1074.7 3697.7L1078 3702.3L1081.2 3707.2L1084.5 3712.5L1087.7 3718L1091 3723.9L1094.2 3730L1097.5 3736.4L1100.7 3743.1L1104 3750.1L1107.2 3757.3L1110.5 3764.8L1113.7 3772.5L1116.9 3780.5L1120.2 3788.7L1123.4 3797.1L1126.7 3805.7L1129.9 3814.5L1133.2 3823.5L1136.4 3832.7L1139.7 3842.1L1142.9 3851.6L1146.2 3861.2L1149.4 3871L1152.7 3881L1155.9 3891L1159.2 3901.2L1162.4 3911.4L1165.7 3921.8L1168.9 3932.2L1172.2 3942.7L1175.4 3953.2L1178.7 3963.8L1181.9 3974.4L1185.2 3985L1188.4 3995.6L1191.6 4006.3L1194.9 4016.9L1198.1 4027.5L1201.4 4038.1L1204.6 4048.6L1207.9 4059.1L1211.1 4069.5L1214.4 4079.9L1217.6 4090.2L1220.9 4100.4L1224.1 4110.4L1227.4 4120.4L1230.6 4130.3L1233.9 4140L1237.1 4149.6L1240.4 4159L1243.6 4168.3L1246.9 4177.5L1250.1 4186.4L1253.4 4195.2L1256.6 4203.8L1259.9 4212.3L1263.1 4220.5L1266.3 4228.5L1269.6 4236.3L1272.8 4243.9L1276.1 4251.3L1279.3 4258.5L1282.6 4265.4L1285.8 4272.1L1289.1 4278.5L1292.3 4284.7L1295.6 4290.7L1298.8 4296.4L1302.1 4301.8L1305.3 4307L1308.6 4311.9L1311.8 4316.5L1315.1 4320.9L1318.3 4325L1321.6 4328.8L1324.8 4332.3L1328.1 4335.6L1331.3 4338.6L1334.6 4341.3L1337.8 4343.7L1341.1 4345.8L1344.3 4347.7L1347.5 4349.2L1350.8 4350.5L1354 4351.5L1357.3 4352.2L1360.5 4352.6L1363.8 4352.7L1367 4352.6L1370.3 4352.1L1373.5 4351.4L1376.8 4350.4L1380 4349.1L1383.3 4347.5L1386.5 4345.7L1389.8 4343.6L1393 4341.2L1396.3 4338.5L1399.5 4335.5L1402.8 4332.3L1406 4328.8L1409.3 4325.1L1412.5 4321.1L1415.8 4316.8L1419 4312.2L1422.2 4307.5L1425.5 4302.4L1428.7 4297.1L1432 4291.6L1435.2 4285.8L1438.5 4279.7L1441.7 4273.5L1445 4266.9L1448.2 4260.2L1451.5 4253.2L1454.7 4246L1458 4238.6L1461.2 4230.9L1464.5 4223.1L1467.7 4215L1471 4206.7L1474.2 4198.1L1477.5 4189.4L1480.7 4180.5L1484 4171.3L1487.2 4162L1490.5 4152.5L1493.7 4142.8L1497 4132.8L1500.2 4122.7L1503.4 4112.4L1506.7 4102L1509.9 4091.3L1513.2 4080.5L1516.4 4069.5L1519.7 4058.3L1522.9 4047L1526.2 4035.4L1529.4 4023.8L1532.7 4011.9L1535.9 3999.9L1539.2 3987.8L1542.4 3975.4L1545.7 3963L1548.9 3950.4L1552.2 3937.6L1555.4 3924.7L1558.7 3911.6L1561.9 3898.4L1565.2 3885.1L1568.4 3871.6L1571.7 3858L1574.9 3844.2L1578.1 3830.3L1581.4 3816.3L1584.6 3802.1L1587.9 3787.8L1591.1 3773.4L1594.4 3758.9L1597.6 3744.2L1600.9 3729.5L1604.1 3714.5L1607.4 3699.5L1610.6 3684.4L1613.9 3669.1L1617.1 3653.7L1620.4 3638.2L1623.6 3622.6L1626.9 3606.9L1630.1 3591.1L1633.4 3575.1L1636.6 3559.1L1639.9 3542.9L1643.1 3526.7L1646.4 3510.3L1649.6 3493.8L1652.9 3477.2L1656.1 3460.5L1659.3 3443.7L1662.6 3426.8L1665.8 3409.8L1669.1 3392.7L1672.3 3375.5L1675.6 3358.2L1678.8 3340.8L1682.1 3323.3L1685.3 3305.7L1688.6 3288L1691.8 3270.2L1695.1 3252.3L1698.3 3234.3L1701.6 3216.2L1704.8 3198L1708.1 3179.7L1711.3 3161.3L1714.6 3142.8L1717.8 3124.3L1721.1 3105.6L1724.3 3086.8L1727.6 3068L1730.8 3049L1734 3030L1737.3 3010.9L1740.5 2991.6L1743.8 2972.3L1747 2952.9L1750.3 2933.4L1753.5 2913.8L1756.8 2894.1L1760 2874.3L1763.3 2854.5L1766.5 2834.5L1769.8 2814.5L1773 2794.3L1776.3 2774.1L1779.5 2753.8L1782.8 2733.3L1786 2712.8L1789.3 2692.2L1792.5 2671.5L1795.8 2650.8L1799 2629.9L1802.3 2608.9L1805.5 2587.9L1808.8 2566.8L1812 2545.5" stroke="#000000" stroke-width="6"/>
<path d="M253 2397.1L256.2 2418L259.5 2438.8L262.7 2459.6L266 2480.2L269.2 2500.8L272.5 2521.2L275.7 2541.5L279 2561.7L282.2 2581.8L285.5 2601.8L288.7 2621.7L292 2641.5L295.2 2661.2L298.5 2680.8L301.7 2700.2L305 2719.5L308.2 2738.8L311.5 2757.9L314.7 2776.9L318 2795.8L321.2 2814.5L324.5 2833.2L327.7 2851.7L330.9 2870.1L334.2 2888.4L337.4 2906.6L340.7 2924.7L343.9 2942.6L347.2 2960.4L350.4 2978.1L353.7 2995.6L356.9 3013.1L360.2 3030.4L363.4 3047.5L366.7 3064.6L369.9 3081.5L373.2 3098.3L376.4 3114.9L379.7 3131.4L382.9 3147.8L386.2 3164L389.4 3180.1L392.7 3196.1L395.9 3211.9L399.2 3227.6L402.4 3243.1L405.7 3258.5L408.9 3273.7L412.1 3288.8L415.4 3303.8L418.6 3318.6L421.9 3333.2L425.1 3347.8L428.4 3362.1L431.6 3376.3L434.9 3390.3L438.1 3404.2L441.4 3418L444.6 3431.5L447.9 3445L451.1 3458.2L454.4 3471.3L457.6 3484.3L460.9 3497L464.1 3509.6L467.4 3522.1L470.6 3534.4L473.9 3546.5L477.1 3558.4L480.4 3570.2L483.6 3581.8L486.9 3593.3L490.1 3604.5L493.3 3615.6L496.6 3626.6L499.8 3637.3L503.1 3647.9L506.3 3658.3L509.6 3668.6L512.8 3678.7L516.1 3688.6L519.3 3698.3L522.6 3707.8L525.8 3717.2L529.1 3726.4L532.3 3735.4L535.6 3744.3L538.8 3753L542.1 3761.5L545.3 3769.8L548.6 3778L551.8 3786L555.1 3793.8L558.3 3801.4L561.6 3808.9L564.8 3816.2L568 3823.3L571.3 3830.3L574.5 3837.1L577.8 3843.7L581 3850.2L584.3 3856.5L587.5 3862.6L590.8 3868.6L594 3874.4L597.3 3880.1L600.5 3885.6L603.8 3890.9L607 3896.1L610.3 3901.1L613.5 3906L616.8 3910.7L620 3915.3L623.3 3919.7L626.5 3924L629.8 3928.2L633 3932.2L636.3 3936.1L639.5 3939.8L642.8 3943.4L646 3946.9L649.2 3950.2L652.5 3953.4L655.7 3956.5L659 3959.5L662.2 3962.4L665.5 3965.1L668.7 3967.7L672 3970.2L675.2 3972.6L678.5 3974.9L681.7 3977.1L685 3979.2L688.2 3981.2L691.5 3983.1L694.7 3985L698 3986.7L701.2 3988.3L704.5 3989.9L707.7 3991.4L711 3992.8L714.2 3994.1L717.5 3995.4L720.7 3996.6L723.9 3997.7L727.2 3998.8L730.4 3999.8L733.7 4000.7L736.9 4001.6L740.2 4002.4L743.4 4003.2L746.7 4004L749.9 4004.7L753.2 4005.3L756.4 4006L759.7 4006.6L762.9 4007.1L766.2 4007.6L769.4 4008.1L772.7 4008.6L775.9 4009L779.2 4009.4L782.4 4009.8L785.7 4010.2L788.9 4010.6L792.2 4010.9L795.4 4011.2L798.6 4011.6L801.9 4011.9L805.1 4012.2L808.4 4012.5L811.6 4012.7L814.9 4013L818.1 4013.3L821.4 4013.6L824.6 4013.9L827.9 4014.1L831.1 4014.4L834.4 4014.7L837.6 4015L840.9 4015.3L844.1 4015.6L847.4 4015.9L850.6 4016.2L853.9 4016.5L857.1 4016.8L860.4 4017.1L863.6 4017.4L866.9 4017.8L870.1 4018.1L873.4 4018.5L876.6 4018.8L879.8 4019.2L883.1 4019.6L886.3 4019.9L889.6 4020.3L892.8 4020.7L896.1 4021.1L899.3 4021.5L902.6 4021.9L905.8 4022.3L909.1 4022.7L912.3 4023.1L915.6 4023.5L918.8 4023.9L922.1 4024.3L925.3 4024.7L928.6 4025.1L931.8 4025.5L935.1 4025.9L938.3 4026.3L941.6 4026.7L944.8 4027.1L948.1 4027.5L951.3 4027.9L954.6 4028.3L957.8 4028.6L961 4029L964.3 4029.3L967.5 4029.7L970.8 4030L974 4030.3L977.3 4030.6L980.5 4030.9L983.8 4031.1L987 4031.4L990.3 4031.6L993.5 4031.9L996.8 4032.1L1000 4032.3L1003.3 4032.5L1006.5 4032.6L1009.8 4032.8L1013 4032.9L1016.3 4033L1019.5 4033.1L1022.8 4033.1L1026 4033.2L1029.3 4033.2L1032.5 4033.2L1035.7 4033.2L1039 4033.2L1042.2 4033.1L1045.5 4033.1L1048.7 4033L1052 4032.9L1055.2 4032.8L1058.5 4032.6L1061.7 4032.5L1065 4032.3L1068.2 4032.1L1071.5 4031.9L1074.7 4031.6L1078 4031.4L1081.2 4031.1L1084.5 4030.9L1087.7 4030.6L1091 4030.3L1094.2 4030L1097.5 4029.7L1100.7 4029.3L1104 4029L1107.2 4028.6L1110.5 4028.3L1113.7 4027.9L1116.9 4027.5L1120.2 4027.1L1123.4 4026.7L1126.7 4026.3L1129.9 4025.9L1133.2 4025.5L1136.4 4025.1L1139.7 4024.7L1142.9 4024.3L1146.2 4023.9L1149.4 4023.5L1152.7 4023.1L1155.9 4022.7L1159.2 4022.3L1162.4 4021.9L1165.7 4021.5L1168.9 4021.1L1172.2 4020.7L1175.4 4020.3L1178.7 4019.9L1181.9 4019.6L1185.2 4019.2L1188.4 4018.8L1191.6 4018.5L1194.9 4018.1L1198.1 4017.8L1201.4 4017.4L1204.6 4017.1L1207.9 4016.8L1211.1 4016.5L1214.4 4016.2L1217.6 4015.9L1220.9 4015.6L1224.1 4015.3L1227.4 4015L1230.6 4014.7L1233.9 4014.4L1237.1 4014.1L1240.4 4013.9L1243.6 4013.6L1246.9 4013.3L1250.1 4013L1253.4 4012.7L1256.6 4012.5L1259.9 4012.2L1263.1 4011.9L1266.3 4011.6L1269.6 4011.2L1272.8 4010.9L1276.1 4010.6L1279.3 4010.2L1282.6 4009.8L1285.8 4009.4L1289.1 4009L1292.3 4008.6L1295.6 4008.1L1298.8 4007.6L1302.1 4007.1L1305.3 4006.6L1308.6 4006L1311.8 4005.3L1315.1 4004.7L1318.3 4004L1321.6 4003.2L1324.8 4002.4L1328.1 4001.6L1331.3 4000.7L1334.6 3999.8L1337.8 3998.8L1341.1 3997.7L1344.3 3996.6L1347.5 3995.4L1350.8 3994.1L1354 3992.8L1357.3 3991.4L1360.5 3989.9L1363.8 3988.3L1367 3986.7L1370.3 3985L1373.5 3983.1L1376.8 3981.2L1380 3979.2L1383.3 3977.1L1386.5 3974.9L1389.8 3972.6L1393 3970.2L1396.3 3967.7L1399.5 3965.1L1402.8 3962.4L1406 3959.5L1409.3 3956.5L1412.5 3953.4L1415.8 3950.2L1419 3946.9L1422.2 3943.4L1425.5 3939.8L1428.7 3936.1L1432 3932.2L1435.2 3928.2L1438.5 3924L1441.7 3919.7L1445 3915.3L1448.2 3910.7L1451.5 3906L1454.7 3901.1L1458 3896.1L1461.2 3890.9L1464.5 3885.6L1467.7 3880.1L1471 3874.4L1474.2 3868.6L1477.5 3862.6L1480.7 3856.5L1484 3850.2L1487.2 3843.7L1490.5 3837.1L1493.7 3830.3L1497 3823.3L1500.2 3816.2L1503.4 3808.9L1506.7 3801.4L1509.9 3793.8L1513.2 3786L1516.4 3778L1519.7 3769.8L1522.9 3761.5L1526.2 3753L1529.4 3744.3L1532.7 3735.4L1535.9 3726.4L1539.2 3717.2L1542.4 3707.8L1545.7 3698.3L1548.9 3688.6L1552.2 3678.7L1555.4 3668.6L1558.7 3658.3L1561.9 3647.9L1565.2 3637.3L1568.4 3626.6L1571.7 3615.6L1574.9 3604.5L1578.1 3593.3L1581.4 3581.8L1584.6 3570.2L1587.9 3558.4L1591.1 3546.5L1594.4 3534.4L1597.6 3522.1L1600.9 3509.6L1604.1 3497L1607.4 3484.3L1610.6 3471.3L1613.9 3458.2L1617.1 3445L1620.4 3431.5L1623.6 3418L1626.9 3404.2L1630.1 3390.3L1633.4 3376.3L1636.6 3362.1L1639.9 3347.8L1643.1 3333.2L1646.4 3318.6L1649.6 3303.8L1652.9 3288.8L1656.1 3273.7L1659.3 3258.5L1662.6 3243.1L1665.8 3227.6L1669.1 3211.9L1672.3 3196.1L1675.6 3180.1L1678.8 3164L1682.1 3147.8L1685.3 3131.4L1688.6 3114.9L1691.8 3098.3L1695.1 3081.5L1698.3 3064.6L1701.6 3047.5L1704.8 3030.4L1708.1 3013.1L1711.3 2995.6L1714.6 2978.1L1717.8 2960.4L1721.1 2942.6L1724.3 2924.7L1727.6 2906.6L1730.8 2888.4L1734 2870.1L1737.3 2851.7L1740.5 2833.2L1743.8 2814.5L1747 2795.8L1750.3 2776.9L1753.5 2757.9L1756.8 2738.8L1760 2719.5L1763.3 2700.2L1766.5 2680.8L1769.8 2661.2L1773 2641.5L1776.3 2621.7L1779.5 2601.8L1782.8 2581.8L1786 2561.7L1789.3 2541.5L1792.5 2521.2L1795.8 2500.8L1799 2480.2L1802.3 2459.6L1805.5 2438.8L1808.8 2418L1812 2397.1" stroke="#000000" stroke-width="7.6" stroke-dasharray="21.8 31.5" stroke-dashoffset="-6.6"/>
<path d="M253 4289L256.3 4289L259.5 4289L262.8 4289L266 4289L269.3 4289L272.6 4289L275.8 4289L279.1 4289L282.4 4289L285.6 4289L288.9 4289L292.1 4289L295.4 4289L298.7 4289L301.9 4289L305.2 4289L308.4 4289L311.7 4289L315 4289L318.2 4289L321.5 4289L324.8 4289L328 4289L331.3 4289L334.5 4289L337.8 4289L341.1 4289L344.3 4289L347.6 4289L350.8 4289L354.1 4289L357.4 4289L360.6 4289L363.9 4289L367.2 4289L370.4 4289L373.7 4289L376.9 4289L380.2 4289L383.5 4289L386.7 4289L390 4289L393.2 4289L396.5 4289L399.8 4289L403 4289L406.3 4289L409.6 4289L412.8 4289L416.1 4289L419.3 4289L422.6 4289L425.9 4289L429.1 4289L432.4 4289L435.6 4289L438.9 4289L442.2 4289L445.4 4289L448.7 4289L452 4289L455.2 4289L458.5 4289L461.7 4289L465 4289L468.3 4289L471.5 4289L474.8 4289L478 4289L481.3 4289L484.6 4289L487.8 4289L491.1 4289L494.4 4289L497.6 4289L500.9 4288.9L504.1 4288.9L507.4 4288.9L510.7 4288.8L513.9 4288.8L517.2 4288.7L520.4 4288.6L523.7 4288.5L527 4288.4L530.2 4288.3L533.5 4288.1L536.8 4287.9L540 4287.6L543.3 4287.3L546.5 4286.9L549.8 4286.4L553.1 4285.9L556.3 4285.2L559.6 4284.4L562.8 4283.5L566.1 4282.5L569.4 4281.2L572.6 4279.8L575.9 4278.1L579.2 4276.2L582.4 4274L585.7 4271.5L588.9 4268.7L592.2 4265.5L595.5 4262L598.7 4258L602 4253.6L605.2 4248.8L608.5 4243.4L611.8 4237.6L615 4231.2L618.3 4224.4L621.6 4217L624.8 4209.2L628.1 4200.9L631.3 4192.1L634.6 4182.8L637.9 4173.2L641.1 4163.3L644.4 4153.1L647.6 4142.7L650.9 4132.2L654.2 4121.6L657.4 4111.1L660.7 4100.8L663.9 4090.7L667.2 4081L670.5 4071.8L673.7 4063.2L677 4055.2L680.3 4048L683.5 4041.7L686.8 4036.3L690 4032L693.3 4028.7L696.6 4026.5L699.8 4025.5L703.1 4025.6L706.3 4026.9L709.6 4029.4L712.9 4032.9L716.1 4037.6L719.4 4043.2L722.7 4049.8L725.9 4057.2L729.2 4065.3L732.4 4074.2L735.7 4083.5L739 4093.4L742.2 4103.6L745.5 4114L748.7 4124.5L752 4135.1L755.3 4145.7L758.5 4156.1L761.8 4166.2L765.1 4176.1L768.3 4185.6L771.6 4194.8L774.8 4203.5L778.1 4211.7L781.4 4219.4L784.6 4226.6L787.9 4233.3L791.1 4239.5L794.4 4245.2L797.7 4250.4L800.9 4255.1L804.2 4259.4L807.5 4263.2L810.7 4266.7L814 4269.7L817.2 4272.4L820.5 4274.8L823.8 4276.9L827 4278.7L830.3 4280.3L833.5 4281.6L836.8 4282.8L840.1 4283.8L843.3 4284.7L846.6 4285.4L849.9 4286L853.1 4286.6L856.4 4287L859.6 4287.4L862.9 4287.7L866.2 4287.9L869.4 4288.1L872.7 4288.3L875.9 4288.4L879.2 4288.6L882.5 4288.6L885.7 4288.7L889 4288.8L892.3 4288.8L895.5 4288.9L898.8 4288.9L902 4288.9L905.3 4288.9L908.6 4289L911.8 4289L915.1 4289L918.3 4289L921.6 4289L924.9 4289L928.1 4289L931.4 4289L934.7 4289L937.9 4289L941.2 4289L944.4 4289L947.7 4289L951 4289L954.2 4289L957.5 4289L960.7 4289L964 4289L967.3 4289L970.5 4289L973.8 4289L977.1 4289L980.3 4289L983.6 4289L986.8 4289L990.1 4289L993.4 4289L996.6 4289L999.9 4289L1003.1 4289L1006.4 4289L1009.7 4289L1012.9 4289L1016.2 4289L1019.5 4289L1022.7 4289L1026 4289L1029.2 4289L1032.5 4289L1035.8 4289L1039 4289L1042.3 4289L1045.5 4289L1048.8 4289L1052.1 4289L1055.3 4289L1058.6 4289L1061.9 4289L1065.1 4289L1068.4 4289L1071.6 4289L1074.9 4289L1078.2 4289L1081.4 4289L1084.7 4289L1087.9 4289L1091.2 4289L1094.5 4289L1097.7 4289L1101 4289L1104.3 4289L1107.5 4289L1110.8 4289L1114 4289L1117.3 4289L1120.6 4289L1123.8 4289L1127.1 4289L1130.3 4289L1133.6 4289L1136.9 4289L1140.1 4289L1143.4 4289L1146.7 4289L1149.9 4289L1153.2 4289L1156.4 4289L1159.7 4289L1163 4288.9L1166.2 4288.9L1169.5 4288.9L1172.7 4288.8L1176 4288.8L1179.3 4288.7L1182.5 4288.6L1185.8 4288.6L1189.1 4288.4L1192.3 4288.3L1195.6 4288.1L1198.8 4287.9L1202.1 4287.7L1205.4 4287.4L1208.6 4287L1211.9 4286.6L1215.1 4286L1218.4 4285.4L1221.7 4284.7L1224.9 4283.8L1228.2 4282.8L1231.5 4281.6L1234.7 4280.3L1238 4278.7L1241.2 4276.9L1244.5 4274.8L1247.8 4272.4L1251 4269.7L1254.3 4266.7L1257.5 4263.2L1260.8 4259.4L1264.1 4255.1L1267.3 4250.4L1270.6 4245.2L1273.9 4239.5L1277.1 4233.4L1280.4 4226.6L1283.6 4219.4L1286.9 4211.7L1290.2 4203.5L1293.4 4194.8L1296.7 4185.7L1299.9 4176.1L1303.2 4166.2L1306.5 4156.1L1309.7 4145.7L1313 4135.1L1316.3 4124.5L1319.5 4114L1322.8 4103.6L1326 4093.4L1329.3 4083.5L1332.6 4074.2L1335.8 4065.3L1339.1 4057.2L1342.3 4049.8L1345.6 4043.2L1348.9 4037.6L1352.1 4033L1355.4 4029.4L1358.7 4027L1361.9 4025.7L1365.2 4025.5L1368.4 4026.5L1371.7 4028.7L1375 4032L1378.2 4036.3L1381.5 4041.7L1384.7 4048L1388 4055.2L1391.3 4063.2L1394.5 4071.8L1397.8 4081L1401.1 4090.7L1404.3 4100.8L1407.6 4111.1L1410.8 4121.6L1414.1 4132.2L1417.4 4142.7L1420.6 4153.1L1423.9 4163.3L1427.1 4173.2L1430.4 4182.8L1433.7 4192.1L1436.9 4200.9L1440.2 4209.2L1443.4 4217.1L1446.7 4224.4L1450 4231.3L1453.2 4237.6L1456.5 4243.4L1459.8 4248.8L1463 4253.6L1466.3 4258L1469.5 4262L1472.8 4265.5L1476.1 4268.7L1479.3 4271.5L1482.6 4274L1485.8 4276.2L1489.1 4278.1L1492.4 4279.8L1495.6 4281.2L1498.9 4282.5L1502.2 4283.5L1505.4 4284.4L1508.7 4285.2L1511.9 4285.9L1515.2 4286.4L1518.5 4286.9L1521.7 4287.3L1525 4287.6L1528.2 4287.9L1531.5 4288.1L1534.8 4288.3L1538 4288.4L1541.3 4288.5L1544.6 4288.6L1547.8 4288.7L1551.1 4288.8L1554.3 4288.8L1557.6 4288.9L1560.9 4288.9L1564.1 4288.9L1567.4 4289L1570.6 4289L1573.9 4289L1577.2 4289L1580.4 4289L1583.7 4289L1587 4289L1590.2 4289L1593.5 4289L1596.7 4289L1600 4289L1603.3 4289L1606.5 4289L1609.8 4289L1613 4289L1616.3 4289L1619.6 4289L1622.8 4289L1626.1 4289L1629.4 4289L1632.6 4289L1635.9 4289L1639.1 4289L1642.4 4289L1645.7 4289L1648.9 4289L1652.2 4289L1655.4 4289L1658.7 4289L1662 4289L1665.2 4289L1668.5 4289L1671.8 4289L1675 4289L1678.3 4289L1681.5 4289L1684.8 4289L1688.1 4289L1691.3 4289L1694.6 4289L1697.8 4289L1701.1 4289L1704.4 4289L1707.6 4289L1710.9 4289L1714.2 4289L1717.4 4289L1720.7 4289L1723.9 4289L1727.2 4289L1730.5 4289L1733.7 4289L1737 4289L1740.2 4289L1743.5 4289L1746.8 4289L1750 4289L1753.3 4289L1756.6 4289L1759.8 4289L1763.1 4289L1766.3 4289L1769.6 4289L1772.9 4289L1776.1 4289L1779.4 4289L1782.6 4289L1785.9 4289L1789.2 4289L1792.4 4289L1795.7 4289L1799 4289L1802.2 4289L1805.5 4289L1808.7 4289L1812 4289" stroke="#000000" stroke-width="6"/>
<path d="M253 4289L256.3 4289L259.5 4289L262.8 4289L266 4289L269.3 4289L272.6 4289L275.8 4289L279.1 4289L282.4 4289L285.6 4289L288.9 4289L292.1 4289L295.4 4289L298.7 4289L301.9 4289L305.2 4289L308.4 4289L311.7 4289L315 4289L318.2 4289L321.5 4289L324.8 4289L328 4289L331.3 4289L334.5 4289L337.8 4289L341.1 4289L344.3 4289L347.6 4289L350.8 4289L354.1 4289L357.4 4289L360.6 4289L363.9 4289L367.2 4289L370.4 4289L373.7 4289L376.9 4289L380.2 4289L383.5 4289L386.7 4289L390 4289L393.2 4289L396.5 4289L399.8 4289L403 4289L406.3 4289L409.6 4289L412.8 4289L416.1 4289L419.3 4289L422.6 4289L425.9 4289L429.1 4289L432.4 4289L435.6 4289L438.9 4289L442.2 4289L445.4 4289L448.7 4289L452 4289L455.2 4289L458.5 4289L461.7 4289L465 4289L468.3 4289L471.5 4289L474.8 4289L478 4289L481.3 4289L484.6 4289L487.8 4289L491.1 4289L494.4 4289L497.6 4289L500.9 4288.9L504.1 4288.9L507.4 4288.9L510.7 4288.8L513.9 4288.8L517.2 4288.7L520.4 4288.7L523.7 4288.6L527 4288.5L530.2 4288.3L533.5 4288.1L536.8 4287.9L540 4287.7L543.3 4287.4L546.5 4287L549.8 4286.6L553.1 4286L556.3 4285.4L559.6 4284.7L562.8 4283.8L566.1 4282.8L569.4 4281.7L572.6 4280.3L575.9 4278.7L579.2 4276.9L582.4 4274.9L585.7 4272.5L588.9 4269.9L592.2 4266.9L595.5 4263.5L598.7 4259.8L602 4255.6L605.2 4251L608.5 4246L611.8 4240.5L615 4234.5L618.3 4228.1L621.6 4221.1L624.8 4213.7L628.1 4205.9L631.3 4197.6L634.6 4188.9L637.9 4179.8L641.1 4170.4L644.4 4160.8L647.6 4151L650.9 4141.1L654.2 4131.1L657.4 4121.2L660.7 4111.5L663.9 4102L667.2 4092.8L670.5 4084.1L673.7 4076L677 4068.4L680.3 4061.7L683.5 4055.7L686.8 4050.6L690 4046.5L693.3 4043.4L696.6 4041.4L699.8 4040.4L703.1 4040.6L706.3 4041.8L709.6 4044.1L712.9 4047.5L716.1 4051.8L719.4 4057.1L722.7 4063.3L725.9 4070.3L729.2 4078L732.4 4086.3L735.7 4095.2L739 4104.5L742.2 4114.1L745.5 4123.9L748.7 4133.9L752 4143.8L755.3 4153.8L758.5 4163.6L761.8 4173.2L765.1 4182.5L768.3 4191.5L771.6 4200.1L774.8 4208.3L778.1 4216.1L781.4 4223.4L784.6 4230.2L787.9 4236.5L791.1 4242.3L794.4 4247.7L797.7 4252.6L800.9 4257.1L804.2 4261.1L807.5 4264.7L810.7 4267.9L814 4270.8L817.2 4273.3L820.5 4275.6L823.8 4277.6L827 4279.3L830.3 4280.8L833.5 4282.1L836.8 4283.2L840.1 4284.1L843.3 4284.9L846.6 4285.6L849.9 4286.2L853.1 4286.7L856.4 4287.1L859.6 4287.5L862.9 4287.7L866.2 4288L869.4 4288.2L872.7 4288.3L875.9 4288.5L879.2 4288.6L882.5 4288.7L885.7 4288.7L889 4288.8L892.3 4288.8L895.5 4288.9L898.8 4288.9L902 4288.9L905.3 4289L908.6 4289L911.8 4289L915.1 4289L918.3 4289L921.6 4289L924.9 4289L928.1 4289L931.4 4289L934.7 4289L937.9 4289L941.2 4289L944.4 4289L947.7 4289L951 4289L954.2 4289L957.5 4289L960.7 4289L964 4289L967.3 4289L970.5 4289L973.8 4289L977.1 4289L980.3 4289L983.6 4289L986.8 4289L990.1 4289L993.4 4289L996.6 4289L999.9 4289L1003.1 4289L1006.4 4289L1009.7 4289L1012.9 4289L1016.2 4289L1019.5 4289L1022.7 4289L1026 4289L1029.2 4289L1032.5 4289L1035.8 4289L1039 4289L1042.3 4289L1045.5 4289L1048.8 4289L1052.1 4289L1055.3 4289L1058.6 4289L1061.9 4289L1065.1 4289L1068.4 4289L1071.6 4289L1074.9 4289L1078.2 4289L1081.4 4289L1084.7 4289L1087.9 4289L1091.2 4289L1094.5 4289L1097.7 4289L1101 4289L1104.3 4289L1107.5 4289L1110.8 4289L1114 4289L1117.3 4289L1120.6 4289L1123.8 4289L1127.1 4289L1130.3 4289L1133.6 4289L1136.9 4289L1140.1 4289L1143.4 4289L1146.7 4289L1149.9 4289L1153.2 4289L1156.4 4289L1159.7 4289L1163 4288.9L1166.2 4288.9L1169.5 4288.9L1172.7 4288.8L1176 4288.8L1179.3 4288.7L1182.5 4288.7L1185.8 4288.6L1189.1 4288.5L1192.3 4288.3L1195.6 4288.2L1198.8 4288L1202.1 4287.7L1205.4 4287.5L1208.6 4287.1L1211.9 4286.7L1215.1 4286.2L1218.4 4285.6L1221.7 4284.9L1224.9 4284.1L1228.2 4283.2L1231.5 4282.1L1234.7 4280.8L1238 4279.3L1241.2 4277.6L1244.5 4275.6L1247.8 4273.3L1251 4270.8L1254.3 4267.9L1257.5 4264.7L1260.8 4261.1L1264.1 4257.1L1267.3 4252.6L1270.6 4247.7L1273.9 4242.3L1277.1 4236.5L1280.4 4230.2L1283.6 4223.4L1286.9 4216.1L1290.2 4208.3L1293.4 4200.1L1296.7 4191.5L1299.9 4182.5L1303.2 4173.2L1306.5 4163.6L1309.7 4153.8L1313 4143.8L1316.3 4133.8L1319.5 4123.9L1322.8 4114.1L1326 4104.5L1329.3 4095.2L1332.6 4086.3L1335.8 4078L1339.1 4070.3L1342.3 4063.3L1345.6 4057.1L1348.9 4051.8L1352.1 4047.4L1355.4 4044.1L1358.7 4041.8L1361.9 4040.6L1365.2 4040.4L1368.4 4041.4L1371.7 4043.4L1375 4046.5L1378.2 4050.6L1381.5 4055.7L1384.7 4061.7L1388 4068.4L1391.3 4075.9L1394.5 4084.1L1397.8 4092.8L1401.1 4102L1404.3 4111.5L1407.6 4121.2L1410.8 4131.1L1414.1 4141.1L1417.4 4151L1420.6 4160.8L1423.9 4170.4L1427.1 4179.8L1430.4 4188.9L1433.7 4197.6L1436.9 4205.8L1440.2 4213.7L1443.4 4221.1L1446.7 4228.1L1450 4234.5L1453.2 4240.5L1456.5 4246L1459.8 4251L1463 4255.6L1466.3 4259.8L1469.5 4263.5L1472.8 4266.9L1476.1 4269.9L1479.3 4272.5L1482.6 4274.9L1485.8 4276.9L1489.1 4278.7L1492.4 4280.3L1495.6 4281.7L1498.9 4282.8L1502.2 4283.8L1505.4 4284.7L1508.7 4285.4L1511.9 4286L1515.2 4286.6L1518.5 4287L1521.7 4287.4L1525 4287.7L1528.2 4287.9L1531.5 4288.1L1534.8 4288.3L1538 4288.5L1541.3 4288.6L1544.6 4288.7L1547.8 4288.7L1551.1 4288.8L1554.3 4288.8L1557.6 4288.9L1560.9 4288.9L1564.1 4288.9L1567.4 4289L1570.6 4289L1573.9 4289L1577.2 4289L1580.4 4289L1583.7 4289L1587 4289L1590.2 4289L1593.5 4289L1596.7 4289L1600 4289L1603.3 4289L1606.5 4289L1609.8 4289L1613 4289L1616.3 4289L1619.6 4289L1622.8 4289L1626.1 4289L1629.4 4289L1632.6 4289L1635.9 4289L1639.1 4289L1642.4 4289L1645.7 4289L1648.9 4289L1652.2 4289L1655.4 4289L1658.7 4289L1662 4289L1665.2 4289L1668.5 4289L1671.8 4289L1675 4289L1678.3 4289L1681.5 4289L1684.8 4289L1688.1 4289L1691.3 4289L1694.6 4289L1697.8 4289L1701.1 4289L1704.4 4289L1707.6 4289L1710.9 4289L1714.2 4289L1717.4 4289L1720.7 4289L1723.9 4289L1727.2 4289L1730.5 4289L1733.7 4289L1737 4289L1740.2 4289L1743.5 4289L1746.8 4289L1750 4289L1753.3 4289L1756.6 4289L1759.8 4289L1763.1 4289L1766.3 4289L1769.6 4289L1772.9 4289L1776.1 4289L1779.4 4289L1782.6 4289L1785.9 4289L1789.2 4289L1792.4 4289L1795.7 4289L1799 4289L1802.2 4289L1805.5 4289L1808.7 4289L1812 4289" stroke="#ff0000" stroke-width="6"/>
<path d="M253 4165L256.3 4165L259.5 4165L262.8 4165L266 4165L269.3 4165L272.6 4165L275.8 4165L279.1 4165L282.4 4165L285.6 4165L288.9 4165L292.1 4165L295.4 4165L298.7 4165L301.9 4165L305.2 4165L308.4 4165L311.7 4165L315 4165L318.2 4165L321.5 4165L324.8 4165L328 4165L331.3 4165L334.5 4165L337.8 4165L341.1 4165L344.3 4165L347.6 4165L350.8 4165L354.1 4165L357.4 4165L360.6 4165L363.9 4165L367.2 4165L370.4 4165L373.7 4165L376.9 4165L380.2 4165L383.5 4165L386.7 4165L390 4165L393.2 4165L396.5 4165L399.8 4165L403 4165L406.3 4165L409.6 4165L412.8 4165L416.1 4165L419.3 4165L422.6 4165L425.9 4165L429.1 4165L432.4 4165L435.6 4165L438.9 4165L442.2 4165L445.4 4165L448.7 4165L452 4165L455.2 4165L458.5 4165L461.7 4165L465 4164.9L468.3 4164.9L471.5 4164.9L474.8 4164.8L478 4164.7L481.3 4164.7L484.6 4164.6L487.8 4164.4L491.1 4164.3L494.4 4164.1L497.6 4163.8L500.9 4163.5L504.1 4163.2L507.4 4162.7L510.7 4162.2L513.9 4161.6L517.2 4160.8L520.4 4159.9L523.7 4158.9L527 4157.6L530.2 4156.2L533.5 4154.5L536.8 4152.5L540 4150.2L543.3 4147.6L546.5 4144.7L549.8 4141.3L553.1 4137.5L556.3 4133.3L559.6 4128.6L562.8 4123.5L566.1 4117.8L569.4 4111.6L572.6 4105L575.9 4097.9L579.2 4090.3L582.4 4082.3L585.7 4074L588.9 4065.4L592.2 4056.6L595.5 4047.8L598.7 4038.9L602 4030.3L605.2 4021.9L608.5 4014L611.8 4006.7L615 4000.2L618.3 3994.6L621.6 3990.1L624.8 3986.8L628.1 3984.9L631.3 3984.5L634.6 3985.6L637.9 3988.3L641.1 3992.7L644.4 3998.6L647.6 4006.1L650.9 4015L654.2 4025.2L657.4 4036.6L660.7 4048.8L663.9 4061.7L667.2 4075L670.5 4088.4L673.7 4101.5L677 4114.1L680.3 4125.9L683.5 4136.5L686.8 4145.8L690 4153.5L693.3 4159.3L696.6 4163.1L699.8 4164.9L703.1 4164.6L706.3 4162.1L709.6 4157.6L712.9 4151.2L716.1 4143L719.4 4133.3L722.7 4122.2L725.9 4110.2L729.2 4097.4L732.4 4084.1L735.7 4070.8L739 4057.6L742.2 4044.9L745.5 4033L748.7 4022L752 4012.3L755.3 4003.8L758.5 3996.9L761.8 3991.5L765.1 3987.8L768.3 3985.6L771.6 3985.1L774.8 3986L778.1 3988.4L781.4 3992.1L784.6 3997L787.9 4002.9L791.1 4009.7L794.4 4017.2L797.7 4025.2L800.9 4033.7L804.2 4042.4L807.5 4051.2L810.7 4059.9L814 4068.6L817.2 4077L820.5 4085.2L823.8 4092.9L827 4100.3L830.3 4107.2L833.5 4113.6L836.8 4119.5L840.1 4124.9L843.3 4129.9L846.6 4134.4L849.9 4138.4L853.1 4142L856.4 4145.2L859.6 4148.1L862.9 4150.5L866.2 4152.7L869.4 4154.6L872.7 4156.2L875.9 4157.7L879.2 4158.9L882.5 4159.9L885.7 4160.8L889 4161.5L892.3 4162.1L895.5 4162.6L898.8 4163.1L902 4163.4L905.3 4163.7L908.6 4164L911.8 4164.2L915.1 4164.3L918.3 4164.5L921.6 4164.6L924.9 4164.7L928.1 4164.7L931.4 4164.8L934.7 4164.9L937.9 4164.9L941.2 4164.9L944.4 4164.9L947.7 4165L951 4165L954.2 4165L957.5 4165L960.7 4165L964 4165L967.3 4165L970.5 4165L973.8 4165L977.1 4165L980.3 4165L983.6 4165L986.8 4165L990.1 4165L993.4 4165L996.6 4165L999.9 4165L1003.1 4165L1006.4 4165L1009.7 4165L1012.9 4165L1016.2 4165L1019.5 4165L1022.7 4165L1026 4165L1029.2 4165L1032.5 4165L1035.8 4165L1039 4165L1042.3 4165L1045.5 4165L1048.8 4165L1052.1 4165L1055.3 4165L1058.6 4165L1061.9 4165L1065.1 4165L1068.4 4165L1071.6 4165L1074.9 4165L1078.2 4165L1081.4 4165L1084.7 4165L1087.9 4165L1091.2 4165L1094.5 4165L1097.7 4165L1101 4165L1104.3 4165L1107.5 4165L1110.8 4165L1114 4165L1117.3 4165L1120.6 4164.9L1123.8 4164.9L1127.1 4164.9L1130.3 4164.9L1133.6 4164.8L1136.9 4164.7L1140.1 4164.7L1143.4 4164.6L1146.7 4164.5L1149.9 4164.3L1153.2 4164.2L1156.4 4164L1159.7 4163.7L1163 4163.4L1166.2 4163.1L1169.5 4162.6L1172.7 4162.1L1176 4161.5L1179.3 4160.8L1182.5 4159.9L1185.8 4158.9L1189.1 4157.7L1192.3 4156.2L1195.6 4154.6L1198.8 4152.7L1202.1 4150.5L1205.4 4148.1L1208.6 4145.2L1211.9 4142L1215.1 4138.4L1218.4 4134.4L1221.7 4129.9L1224.9 4124.9L1228.2 4119.5L1231.5 4113.6L1234.7 4107.2L1238 4100.3L1241.2 4092.9L1244.5 4085.2L1247.8 4077L1251 4068.6L1254.3 4059.9L1257.5 4051.2L1260.8 4042.4L1264.1 4033.7L1267.3 4025.2L1270.6 4017.2L1273.9 4009.7L1277.1 4002.9L1280.4 3997L1283.6 3992.1L1286.9 3988.4L1290.2 3986L1293.4 3985.1L1296.7 3985.6L1299.9 3987.8L1303.2 3991.5L1306.5 3996.9L1309.7 4003.8L1313 4012.3L1316.3 4022L1319.5 4033L1322.8 4044.9L1326 4057.6L1329.3 4070.8L1332.6 4084.1L1335.8 4097.4L1339.1 4110.2L1342.3 4122.2L1345.6 4133.3L1348.9 4143L1352.1 4151.2L1355.4 4157.6L1358.7 4162.1L1361.9 4164.6L1365.2 4164.9L1368.4 4163.1L1371.7 4159.3L1375 4153.5L1378.2 4145.8L1381.5 4136.5L1384.7 4125.9L1388 4114.1L1391.3 4101.5L1394.5 4088.4L1397.8 4075L1401.1 4061.7L1404.3 4048.8L1407.6 4036.6L1410.8 4025.2L1414.1 4015L1417.4 4006.1L1420.6 3998.6L1423.9 3992.7L1427.1 3988.3L1430.4 3985.6L1433.7 3984.5L1436.9 3984.9L1440.2 3986.8L1443.4 3990.1L1446.7 3994.6L1450 4000.2L1453.2 4006.7L1456.5 4014L1459.8 4021.9L1463 4030.3L1466.3 4038.9L1469.5 4047.8L1472.8 4056.6L1476.1 4065.4L1479.3 4074L1482.6 4082.3L1485.8 4090.3L1489.1 4097.9L1492.4 4105L1495.6 4111.6L1498.9 4117.8L1502.2 4123.5L1505.4 4128.6L1508.7 4133.3L1511.9 4137.5L1515.2 4141.3L1518.5 4144.7L1521.7 4147.6L1525 4150.2L1528.2 4152.5L1531.5 4154.5L1534.8 4156.2L1538 4157.6L1541.3 4158.9L1544.6 4159.9L1547.8 4160.8L1551.1 4161.6L1554.3 4162.2L1557.6 4162.7L1560.9 4163.2L1564.1 4163.5L1567.4 4163.8L1570.6 4164.1L1573.9 4164.3L1577.2 4164.4L1580.4 4164.6L1583.7 4164.7L1587 4164.7L1590.2 4164.8L1593.5 4164.9L1596.7 4164.9L1600 4164.9L1603.3 4165L1606.5 4165L1609.8 4165L1613 4165L1616.3 4165L1619.6 4165L1622.8 4165L1626.1 4165L1629.4 4165L1632.6 4165L1635.9 4165L1639.1 4165L1642.4 4165L1645.7 4165L1648.9 4165L1652.2 4165L1655.4 4165L1658.7 4165L1662 4165L1665.2 4165L1668.5 4165L1671.8 4165L1675 4165L1678.3 4165L1681.5 4165L1684.8 4165L1688.1 4165L1691.3 4165L1694.6 4165L1697.8 4165L1701.1 4165L1704.4 4165L1707.6 4165L1710.9 4165L1714.2 4165L1717.4 4165L1720.7 4165L1723.9 4165L1727.2 4165L1730.5 4165L1733.7 4165L1737 4165L1740.2 4165L1743.5 4165L1746.8 4165L1750 4165L1753.3 4165L1756.6 4165L1759.8 4165L1763.1 4165L1766.3 4165L1769.6 4165L1772.9 4165L1776.1 4165L1779.4 4165L1782.6 4165L1785.9 4165L1789.2 4165L1792.4 4165L1795.7 4165L1799 4165L1802.2 4165L1805.5 4165L1808.7 4165L1812 4165" stroke="#0000ff" stroke-width="6"/>
<path d="M253 4165L256.3 4165L259.5 4165L262.8 4165L266 4165L269.3 4165L272.6 4165L275.8 4165L279.1 4165L282.4 4165L285.6 4165L288.9 4165L292.1 4165L295.4 4165L298.7 4165L301.9 4165L305.2 4165L308.4 4165L311.7 4165L315 4165L318.2 4165L321.5 4165L324.8 4165L328 4165L331.3 4165L334.5 4165L337.8 4165L341.1 4165L344.3 4165L347.6 4165L350.8 4165L354.1 4165L357.4 4165L360.6 4165L363.9 4165L367.2 4165L370.4 4165L373.7 4165L376.9 4165L380.2 4165L383.5 4165L386.7 4165L390 4165L393.2 4165L396.5 4165L399.8 4165L403 4165L406.3 4165L409.6 4165L412.8 4165L416.1 4165L419.3 4165L422.6 4165L425.9 4165L429.1 4165L432.4 4165L435.6 4165L438.9 4165L442.2 4165L445.4 4165L448.7 4165L452 4165L455.2 4165L458.5 4165L461.7 4164.9L465 4164.9L468.3 4164.9L471.5 4164.8L474.8 4164.8L478 4164.7L481.3 4164.6L484.6 4164.5L487.8 4164.4L491.1 4164.2L494.4 4164L497.6 4163.8L500.9 4163.5L504.1 4163.1L507.4 4162.6L510.7 4162.1L513.9 4161.4L517.2 4160.6L520.4 4159.7L523.7 4158.5L527 4157.2L530.2 4155.7L533.5 4153.9L536.8 4151.8L540 4149.4L543.3 4146.7L546.5 4143.6L549.8 4140L553.1 4136.1L556.3 4131.6L559.6 4126.7L562.8 4121.2L566.1 4115.3L569.4 4108.8L572.6 4101.8L575.9 4094.3L579.2 4086.3L582.4 4077.9L585.7 4069.1L588.9 4060.1L592.2 4050.9L595.5 4041.5L598.7 4032.2L602 4023.1L605.2 4014.3L608.5 4005.9L611.8 3998.3L615 3991.4L618.3 3985.5L621.6 3980.8L624.8 3977.4L628.1 3975.4L631.3 3974.9L634.6 3976.1L637.9 3978.9L641.1 3983.5L644.4 3989.8L647.6 3997.7L650.9 4007L654.2 4017.8L657.4 4029.7L660.7 4042.6L663.9 4056.2L667.2 4070.2L670.5 4084.3L673.7 4098.1L677 4111.4L680.3 4123.8L683.5 4135L686.8 4144.8L690 4152.8L693.3 4159L696.6 4163L699.8 4164.9L703.1 4164.5L706.3 4162L709.6 4157.2L712.9 4150.5L716.1 4141.9L719.4 4131.6L722.7 4120L725.9 4107.3L729.2 4093.8L732.4 4079.8L735.7 4065.8L739 4051.9L742.2 4038.5L745.5 4026L748.7 4014.4L752 4004.1L755.3 3995.3L758.5 3988L761.8 3982.3L765.1 3978.3L768.3 3976.1L771.6 3975.5L774.8 3976.5L778.1 3979L781.4 3982.9L784.6 3988.1L787.9 3994.3L791.1 4001.4L794.4 4009.3L797.7 4017.8L800.9 4026.7L804.2 4035.8L807.5 4045.1L810.7 4054.4L814 4063.5L817.2 4072.3L820.5 4080.9L823.8 4089.1L827 4096.8L830.3 4104.1L833.5 4110.8L836.8 4117.1L840.1 4122.8L843.3 4128L846.6 4132.8L849.9 4137L853.1 4140.8L856.4 4144.2L859.6 4147.2L862.9 4149.8L866.2 4152.1L869.4 4154.1L872.7 4155.8L875.9 4157.3L879.2 4158.5L882.5 4159.6L885.7 4160.5L889 4161.3L892.3 4162L895.5 4162.5L898.8 4163L902 4163.3L905.3 4163.7L908.6 4163.9L911.8 4164.1L915.1 4164.3L918.3 4164.4L921.6 4164.6L924.9 4164.7L928.1 4164.7L931.4 4164.8L934.7 4164.8L937.9 4164.9L941.2 4164.9L944.4 4164.9L947.7 4165L951 4165L954.2 4165L957.5 4165L960.7 4165L964 4165L967.3 4165L970.5 4165L973.8 4165L977.1 4165L980.3 4165L983.6 4165L986.8 4165L990.1 4165L993.4 4165L996.6 4165L999.9 4165L1003.1 4165L1006.4 4165L1009.7 4165L1012.9 4165L1016.2 4165L1019.5 4165L1022.7 4165L1026 4165L1029.2 4165L1032.5 4165L1035.8 4165L1039 4165L1042.3 4165L1045.5 4165L1048.8 4165L1052.1 4165L1055.3 4165L1058.6 4165L1061.9 4165L1065.1 4165L1068.4 4165L1071.6 4165L1074.9 4165L1078.2 4165L1081.4 4165L1084.7 4165L1087.9 4165L1091.2 4165L1094.5 4165L1097.7 4165L1101 4165L1104.3 4165L1107.5 4165L1110.8 4165L1114 4165L1117.3 4165L1120.6 4164.9L1123.8 4164.9L1127.1 4164.9L1130.3 4164.8L1133.6 4164.8L1136.9 4164.7L1140.1 4164.7L1143.4 4164.6L1146.7 4164.4L1149.9 4164.3L1153.2 4164.1L1156.4 4163.9L1159.7 4163.7L1163 4163.3L1166.2 4163L1169.5 4162.5L1172.7 4162L1176 4161.3L1179.3 4160.5L1182.5 4159.6L1185.8 4158.5L1189.1 4157.3L1192.3 4155.8L1195.6 4154.1L1198.8 4152.1L1202.1 4149.8L1205.4 4147.2L1208.6 4144.2L1211.9 4140.8L1215.1 4137L1218.4 4132.8L1221.7 4128L1224.9 4122.8L1228.2 4117.1L1231.5 4110.8L1234.7 4104.1L1238 4096.8L1241.2 4089.1L1244.5 4080.9L1247.8 4072.3L1251 4063.5L1254.3 4054.4L1257.5 4045.1L1260.8 4035.8L1264.1 4026.7L1267.3 4017.8L1270.6 4009.3L1273.9 4001.4L1277.1 3994.3L1280.4 3988.1L1283.6 3982.9L1286.9 3979L1290.2 3976.5L1293.4 3975.5L1296.7 3976.1L1299.9 3978.3L1303.2 3982.3L1306.5 3988L1309.7 3995.3L1313 4004.1L1316.3 4014.4L1319.5 4026L1322.8 4038.5L1326 4051.9L1329.3 4065.8L1332.6 4079.8L1335.8 4093.8L1339.1 4107.3L1342.3 4120L1345.6 4131.6L1348.9 4141.9L1352.1 4150.5L1355.4 4157.2L1358.7 4162L1361.9 4164.5L1365.2 4164.9L1368.4 4163L1371.7 4159L1375 4152.8L1378.2 4144.8L1381.5 4135L1384.7 4123.8L1388 4111.4L1391.3 4098.1L1394.5 4084.3L1397.8 4070.2L1401.1 4056.2L1404.3 4042.6L1407.6 4029.7L1410.8 4017.8L1414.1 4007L1417.4 3997.7L1420.6 3989.8L1423.9 3983.5L1427.1 3979L1430.4 3976.1L1433.7 3974.9L1436.9 3975.4L1440.2 3977.4L1443.4 3980.8L1446.7 3985.5L1450 3991.4L1453.2 3998.3L1456.5 4005.9L1459.8 4014.3L1463 4023.1L1466.3 4032.2L1469.5 4041.5L1472.8 4050.9L1476.1 4060.1L1479.3 4069.1L1482.6 4077.9L1485.8 4086.3L1489.1 4094.3L1492.4 4101.8L1495.6 4108.8L1498.9 4115.3L1502.2 4121.2L1505.4 4126.7L1508.7 4131.6L1511.9 4136.1L1515.2 4140L1518.5 4143.6L1521.7 4146.7L1525 4149.4L1528.2 4151.8L1531.5 4153.9L1534.8 4155.7L1538 4157.2L1541.3 4158.5L1544.6 4159.7L1547.8 4160.6L1551.1 4161.4L1554.3 4162.1L1557.6 4162.6L1560.9 4163.1L1564.1 4163.5L1567.4 4163.8L1570.6 4164L1573.9 4164.2L1577.2 4164.4L1580.4 4164.5L1583.7 4164.6L1587 4164.7L1590.2 4164.8L1593.5 4164.8L1596.7 4164.9L1600 4164.9L1603.3 4164.9L1606.5 4165L1609.8 4165L1613 4165L1616.3 4165L1619.6 4165L1622.8 4165L1626.1 4165L1629.4 4165L1632.6 4165L1635.9 4165L1639.1 4165L1642.4 4165L1645.7 4165L1648.9 4165L1652.2 4165L1655.4 4165L1658.7 4165L1662 4165L1665.2 4165L1668.5 4165L1671.8 4165L1675 4165L1678.3 4165L1681.5 4165L1684.8 4165L1688.1 4165L1691.3 4165L1694.6 4165L1697.8 4165L1701.1 4165L1704.4 4165L1707.6 4165L1710.9 4165L1714.2 4165L1717.4 4165L1720.7 4165L1723.9 4165L1727.2 4165L1730.5 4165L1733.7 4165L1737 4165L1740.2 4165L1743.5 4165L1746.8 4165L1750 4165L1753.3 4165L1756.6 4165L1759.8 4165L1763.1 4165L1766.3 4165L1769.6 4165L1772.9 4165L1776.1 4165L1779.4 4165L1782.6 4165L1785.9 4165L1789.2 4165L1792.4 4165L1795.7 4165L1799 4165L1802.2 4165L1805.5 4165L1808.7 4165L1812 4165" stroke="#008000" stroke-width="6"/>
<path d="M253 4019.5L259.5 4019.5L266 4019.5L272.6 4019.5L279.1 4019.5L285.6 4019.5L292.1 4019.5L298.7 4019.5L305.2 4019.5L311.7 4019.5L318.2 4019.5L324.8 4019.5L331.3 4019.5L337.8 4019.5L344.3 4019.5L350.8 4019.5L357.4 4019.5L363.9 4019.5L370.4 4019.5L376.9 4019.5L383.5 4019.5L390 4019.5L396.5 4019.5L403 4019.5L409.6 4019.5L416.1 4019.5L422.6 4019.5L429.1 4019.5L435.6 4019.5L442.2 4019.5L448.7 4019.5L455.2 4019.5L461.7 4019.5L468.3 4019.5L474.8 4019.5L481.3 4019.5L487.8 4019.5L494.4 4019.5L500.9 4019.5L507.4 4019.5L513.9 4019.5L520.4 4019.5L527 4019.5L533.5 4019.5L540 4019.5L546.5 4019.5L553.1 4019.5L559.6 4019.5L566.1 4019.5L572.6 4019.4L579.2 4019.4L585.7 4019.4L592.2 4019.4L598.7 4019.4L605.2 4019.4L611.8 4019.3L618.3 4019.3L624.8 4019.2L631.3 4019.1L637.9 4019L644.4 4018.9L650.9 4018.7L657.4 4018.5L663.9 4018.3L670.5 4018L677 4017.6L683.5 4017.2L690 4016.8L696.6 4016.2L703.1 4015.6L709.6 4014.9L716.1 4014L722.7 4013.1L729.2 4012L735.7 4010.9L742.2 4009.6L748.7 4008.1L755.3 4006.5L761.8 4004.7L768.3 4002.8L774.8 4000.6L781.4 3998.3L787.9 3995.8L794.4 3993.1L800.9 3990.1L807.5 3986.9L814 3983.5L820.5 3979.9L827 3976L833.5 3971.8L840.1 3967.3L846.6 3962.6L853.1 3957.6L859.6 3952.4L866.2 3946.8L872.7 3941L879.2 3935L885.7 3928.7L892.3 3922.1L898.8 3915.3L905.3 3908.4L911.8 3901.3L918.3 3894L924.9 3886.7L931.4 3879.4L937.9 3872.1L944.4 3864.8L951 3857.7L957.5 3850.8L964 3844.1L970.5 3837.8L977.1 3831.9L983.6 3826.4L990.1 3821.5L996.6 3817.1L1003.1 3813.4L1009.7 3810.4L1016.2 3808.1L1022.7 3806.5L1029.2 3805.7L1035.8 3805.7L1042.3 3806.5L1048.8 3808.1L1055.3 3810.4L1061.9 3813.4L1068.4 3817.1L1074.9 3821.5L1081.4 3826.4L1087.9 3831.9L1094.5 3837.8L1101 3844.1L1107.5 3850.8L1114 3857.7L1120.6 3864.8L1127.1 3872.1L1133.6 3879.4L1140.1 3886.7L1146.7 3894L1153.2 3901.3L1159.7 3908.4L1166.2 3915.3L1172.7 3922.1L1179.3 3928.7L1185.8 3935L1192.3 3941L1198.8 3946.8L1205.4 3952.4L1211.9 3957.6L1218.4 3962.6L1224.9 3967.3L1231.5 3971.8L1238 3976L1244.5 3979.9L1251 3983.5L1257.5 3986.9L1264.1 3990.1L1270.6 3993.1L1277.1 3995.8L1283.6 3998.3L1290.2 4000.6L1296.7 4002.8L1303.2 4004.7L1309.7 4006.5L1316.3 4008.1L1322.8 4009.6L1329.3 4010.9L1335.8 4012L1342.3 4013.1L1348.9 4014L1355.4 4014.9L1361.9 4015.6L1368.4 4016.2L1375 4016.8L1381.5 4017.2L1388 4017.6L1394.5 4018L1401.1 4018.3L1407.6 4018.5L1414.1 4018.7L1420.6 4018.9L1427.1 4019L1433.7 4019.1L1440.2 4019.2L1446.7 4019.3L1453.2 4019.3L1459.8 4019.4L1466.3 4019.4L1472.8 4019.4L1479.3 4019.4L1485.8 4019.4L1492.4 4019.4L1498.9 4019.5L1505.4 4019.5L1511.9 4019.5L1518.5 4019.5L1525 4019.5L1531.5 4019.5L1538 4019.5L1544.6 4019.5L1551.1 4019.5L1557.6 4019.5L1564.1 4019.5L1570.6 4019.5L1577.2 4019.5L1583.7 4019.5L1590.2 4019.5L1596.7 4019.5L1603.3 4019.5L1609.8 4019.5L1616.3 4019.5L1622.8 4019.5L1629.4 4019.5L1635.9 4019.5L1642.4 4019.5L1648.9 4019.5L1655.4 4019.5L1662 4019.5L1668.5 4019.5L1675 4019.5L1681.5 4019.5L1688.1 4019.5L1694.6 4019.5L1701.1 4019.5L1707.6 4019.5L1714.2 4019.5L1720.7 4019.5L1727.2 4019.5L1733.7 4019.5L1740.2 4019.5L1746.8 4019.5L1753.3 4019.5L1759.8 4019.5L1766.3 4019.5L1772.9 4019.5L1779.4 4019.5L1785.9 4019.5L1792.4 4019.5L1799 4019.5L1805.5 4019.5L1812 4019.5" stroke="#000000" stroke-width="7.6" stroke-dasharray="21.8 31.5" stroke-dashoffset="0"/>
<path d="M253 3996.8L259.5 3996.8L266 3996.8L272.6 3996.8L279.1 3996.8L285.6 3996.8L292.1 3996.8L298.7 3996.8L305.2 3996.8L311.7 3996.8L318.2 3996.8L324.8 3996.8L331.3 3996.8L337.8 3996.8L344.3 3996.8L350.8 3996.8L357.4 3996.8L363.9 3996.8L370.4 3996.8L376.9 3996.8L383.5 3996.8L390 3996.8L396.5 3996.8L403 3996.8L409.6 3996.8L416.1 3996.8L422.6 3996.8L429.1 3996.8L435.6 3996.8L442.2 3996.8L448.7 3996.8L455.2 3996.8L461.7 3996.8L468.3 3996.8L474.8 3996.8L481.3 3996.8L487.8 3996.8L494.4 3996.8L500.9 3996.8L507.4 3996.8L513.9 3996.8L520.4 3996.8L527 3996.8L533.5 3996.8L540 3996.8L546.5 3996.7L553.1 3996.7L559.6 3996.6L566.1 3996.6L572.6 3996.5L579.2 3996.3L585.7 3996.1L592.2 3995.8L598.7 3995.5L605.2 3995L611.8 3994.5L618.3 3993.7L624.8 3992.8L631.3 3991.7L637.9 3990.3L644.4 3988.7L650.9 3986.7L657.4 3984.4L663.9 3981.7L670.5 3978.5L677 3974.9L683.5 3970.8L690 3966.3L696.6 3961.2L703.1 3955.6L709.6 3949.5L716.1 3942.9L722.7 3935.8L729.2 3928.3L735.7 3920.4L742.2 3912.2L748.7 3903.6L755.3 3894.9L761.8 3886L768.3 3877L774.8 3868L781.4 3859.2L787.9 3850.5L794.4 3842.1L800.9 3834.1L807.5 3826.6L814 3819.6L820.5 3813.2L827 3807.6L833.5 3802.8L840.1 3798.9L846.6 3795.9L853.1 3794L859.6 3793.1L866.2 3793.3L872.7 3794.7L879.2 3797.2L885.7 3800.9L892.3 3805.8L898.8 3811.9L905.3 3819.1L911.8 3827.3L918.3 3836.6L924.9 3846.7L931.4 3857.6L937.9 3869.1L944.4 3881.1L951 3893.5L957.5 3905.9L964 3918.3L970.5 3930.4L977.1 3942.1L983.6 3953.1L990.1 3963.2L996.6 3972.3L1003.1 3980.1L1009.7 3986.6L1016.2 3991.6L1022.7 3994.9L1029.2 3996.6L1035.8 3996.6L1042.3 3994.9L1048.8 3991.6L1055.3 3986.6L1061.9 3980.1L1068.4 3972.3L1074.9 3963.2L1081.4 3953.1L1087.9 3942.1L1094.5 3930.4L1101 3918.3L1107.5 3905.9L1114 3893.5L1120.6 3881.1L1127.1 3869.1L1133.6 3857.6L1140.1 3846.7L1146.7 3836.6L1153.2 3827.3L1159.7 3819.1L1166.2 3811.9L1172.7 3805.8L1179.3 3800.9L1185.8 3797.2L1192.3 3794.7L1198.8 3793.3L1205.4 3793.1L1211.9 3794L1218.4 3795.9L1224.9 3798.9L1231.5 3802.8L1238 3807.6L1244.5 3813.2L1251 3819.6L1257.5 3826.6L1264.1 3834.1L1270.6 3842.1L1277.1 3850.5L1283.6 3859.2L1290.2 3868L1296.7 3877L1303.2 3886L1309.7 3894.9L1316.3 3903.6L1322.8 3912.2L1329.3 3920.4L1335.8 3928.3L1342.3 3935.8L1348.9 3942.9L1355.4 3949.5L1361.9 3955.6L1368.4 3961.2L1375 3966.3L1381.5 3970.8L1388 3974.9L1394.5 3978.5L1401.1 3981.7L1407.6 3984.4L1414.1 3986.7L1420.6 3988.7L1427.1 3990.3L1433.7 3991.7L1440.2 3992.8L1446.7 3993.7L1453.2 3994.5L1459.8 3995L1466.3 3995.5L1472.8 3995.8L1479.3 3996.1L1485.8 3996.3L1492.4 3996.5L1498.9 3996.6L1505.4 3996.6L1511.9 3996.7L1518.5 3996.7L1525 3996.8L1531.5 3996.8L1538 3996.8L1544.6 3996.8L1551.1 3996.8L1557.6 3996.8L1564.1 3996.8L1570.6 3996.8L1577.2 3996.8L1583.7 3996.8L1590.2 3996.8L1596.7 3996.8L1603.3 3996.8L1609.8 3996.8L1616.3 3996.8L1622.8 3996.8L1629.4 3996.8L1635.9 3996.8L1642.4 3996.8L1648.9 3996.8L1655.4 3996.8L1662 3996.8L1668.5 3996.8L1675 3996.8L1681.5 3996.8L1688.1 3996.8L1694.6 3996.8L1701.1 3996.8L1707.6 3996.8L1714.2 3996.8L1720.7 3996.8L1727.2 3996.8L1733.7 3996.8L1740.2 3996.8L1746.8 3996.8L1753.3 3996.8L1759.8 3996.8L1766.3 3996.8L1772.9 3996.8L1779.4 3996.8L1785.9 3996.8L1792.4 3996.8L1799 3996.8L1805.5 3996.8L1812 3996.8" stroke="#ff0000" stroke-width="7.6" stroke-dasharray="21.8 31.5" stroke-dashoffset="0"/>
<path d="M253 3974.5L259.5 3974.5L266 3974.5L272.6 3974.5L279.1 3974.5L285.6 3974.5L292.1 3974.5L298.7 3974.5L305.2 3974.5L311.7 3974.5L318.2 3974.5L324.8 3974.5L331.3 3974.5L337.8 3974.5L344.3 3974.5L350.8 3974.5L357.4 3974.5L363.9 3974.5L370.4 3974.5L376.9 3974.5L383.5 3974.5L390 3974.5L396.5 3974.5L403 3974.5L409.6 3974.5L416.1 3974.5L422.6 3974.5L429.1 3974.5L435.6 3974.5L442.2 3974.5L448.7 3974.5L455.2 3974.5L461.7 3974.5L468.3 3974.5L474.8 3974.4L481.3 3974.4L487.8 3974.4L494.4 3974.4L500.9 3974.4L507.4 3974.4L513.9 3974.4L520.4 3974.4L527 3974.3L533.5 3974.3L540 3974.2L546.5 3974L553.1 3973.8L559.6 3973.6L566.1 3973.2L572.6 3972.7L579.2 3972.1L585.7 3971.2L592.2 3970.1L598.7 3968.7L605.2 3966.9L611.8 3964.7L618.3 3962L624.8 3958.8L631.3 3954.8L637.9 3950.2L644.4 3944.8L650.9 3938.6L657.4 3931.5L663.9 3923.6L670.5 3914.9L677 3905.3L683.5 3895.1L690 3884.1L696.6 3872.7L703.1 3860.9L709.6 3849L716.1 3837L722.7 3825.4L729.2 3814.2L735.7 3803.7L742.2 3794.2L748.7 3785.9L755.3 3779L761.8 3773.6L768.3 3770L774.8 3768.2L781.4 3768.4L787.9 3770.6L794.4 3774.7L800.9 3780.8L807.5 3788.8L814 3798.5L820.5 3809.7L827 3822.3L833.5 3836L840.1 3850.4L846.6 3865.4L853.1 3880.6L859.6 3895.6L866.2 3910.2L872.7 3924L879.2 3936.6L885.7 3947.8L892.3 3957.3L898.8 3964.9L905.3 3970.4L911.8 3973.6L918.3 3974.4L924.9 3972.9L931.4 3969.1L937.9 3963L944.4 3954.9L951 3945L957.5 3933.6L964 3921L970.5 3907.7L977.1 3893.9L983.6 3880.3L990.1 3867.1L996.6 3854.9L1003.1 3844.1L1009.7 3834.9L1016.2 3827.8L1022.7 3822.9L1029.2 3820.4L1035.8 3820.4L1042.3 3822.9L1048.8 3827.8L1055.3 3834.9L1061.9 3844.1L1068.4 3854.9L1074.9 3867.1L1081.4 3880.3L1087.9 3893.9L1094.5 3907.7L1101 3921L1107.5 3933.6L1114 3945L1120.6 3954.9L1127.1 3963L1133.6 3969.1L1140.1 3972.9L1146.7 3974.4L1153.2 3973.6L1159.7 3970.4L1166.2 3964.9L1172.7 3957.3L1179.3 3947.8L1185.8 3936.6L1192.3 3924L1198.8 3910.2L1205.4 3895.6L1211.9 3880.6L1218.4 3865.4L1224.9 3850.4L1231.5 3836L1238 3822.3L1244.5 3809.7L1251 3798.5L1257.5 3788.8L1264.1 3780.8L1270.6 3774.7L1277.1 3770.6L1283.6 3768.4L1290.2 3768.2L1296.7 3770L1303.2 3773.6L1309.7 3779L1316.3 3785.9L1322.8 3794.2L1329.3 3803.7L1335.8 3814.2L1342.3 3825.4L1348.9 3837L1355.4 3849L1361.9 3860.9L1368.4 3872.7L1375 3884.1L1381.5 3895.1L1388 3905.3L1394.5 3914.9L1401.1 3923.6L1407.6 3931.5L1414.1 3938.6L1420.6 3944.8L1427.1 3950.2L1433.7 3954.8L1440.2 3958.8L1446.7 3962L1453.2 3964.7L1459.8 3966.9L1466.3 3968.7L1472.8 3970.1L1479.3 3971.2L1485.8 3972.1L1492.4 3972.7L1498.9 3973.2L1505.4 3973.6L1511.9 3973.8L1518.5 3974L1525 3974.2L1531.5 3974.3L1538 3974.3L1544.6 3974.4L1551.1 3974.4L1557.6 3974.4L1564.1 3974.4L1570.6 3974.4L1577.2 3974.4L1583.7 3974.4L1590.2 3974.4L1596.7 3974.5L1603.3 3974.5L1609.8 3974.5L1616.3 3974.5L1622.8 3974.5L1629.4 3974.5L1635.9 3974.5L1642.4 3974.5L1648.9 3974.5L1655.4 3974.5L1662 3974.5L1668.5 3974.5L1675 3974.5L1681.5 3974.5L1688.1 3974.5L1694.6 3974.5L1701.1 3974.5L1707.6 3974.5L1714.2 3974.5L1720.7 3974.5L1727.2 3974.5L1733.7 3974.5L1740.2 3974.5L1746.8 3974.5L1753.3 3974.5L1759.8 3974.5L1766.3 3974.5L1772.9 3974.5L1779.4 3974.5L1785.9 3974.5L1792.4 3974.5L1799 3974.5L1805.5 3974.5L1812 3974.5" stroke="#0000ff" stroke-width="7.6" stroke-dasharray="21.8 31.5" stroke-dashoffset="0"/>
<path d="M253 3945.8L259.5 3945.8L266 3945.8L272.6 3945.8L279.1 3945.8L285.6 3945.8L292.1 3945.8L298.7 3945.8L305.2 3945.8L311.7 3945.8L318.2 3945.8L324.8 3945.8L331.3 3945.8L337.8 3945.8L344.3 3945.8L350.8 3945.8L357.4 3945.8L363.9 3945.8L370.4 3945.8L376.9 3945.8L383.5 3945.8L390 3945.8L396.5 3945.8L403 3945.8L409.6 3945.8L416.1 3945.8L422.6 3945.8L429.1 3945.8L435.6 3945.8L442.2 3945.8L448.7 3945.8L455.2 3945.8L461.7 3945.8L468.3 3945.8L474.8 3945.8L481.3 3945.8L487.8 3945.8L494.4 3945.8L500.9 3945.7L507.4 3945.7L513.9 3945.6L520.4 3945.5L527 3945.3L533.5 3945.1L540 3944.8L546.5 3944.3L553.1 3943.7L559.6 3942.8L566.1 3941.7L572.6 3940.3L579.2 3938.4L585.7 3936L592.2 3933L598.7 3929.2L605.2 3924.7L611.8 3919.3L618.3 3912.9L624.8 3905.5L631.3 3897L637.9 3887.5L644.4 3876.9L650.9 3865.5L657.4 3853.3L663.9 3840.6L670.5 3827.6L677 3814.7L683.5 3802.1L690 3790.3L696.6 3779.7L703.1 3770.5L709.6 3763.3L716.1 3758.3L722.7 3755.8L729.2 3756L735.7 3759L742.2 3764.8L748.7 3773.4L755.3 3784.4L761.8 3797.6L768.3 3812.7L774.8 3829.1L781.4 3846.3L787.9 3863.7L794.4 3880.8L800.9 3896.9L807.5 3911.5L814 3924L820.5 3934L827 3941.1L833.5 3945L840.1 3945.7L846.6 3943L853.1 3937L859.6 3928.1L866.2 3916.5L872.7 3902.8L879.2 3887.4L885.7 3871.1L892.3 3854.4L898.8 3838.1L905.3 3822.9L911.8 3809.5L918.3 3798.4L924.9 3790.2L931.4 3785.2L937.9 3783.7L944.4 3785.9L951 3791.6L957.5 3800.6L964 3812.5L970.5 3826.9L977.1 3843.1L983.6 3860.3L990.1 3877.7L996.6 3894.6L1003.1 3910.1L1009.7 3923.5L1016.2 3934.1L1022.7 3941.5L1029.2 3945.3L1035.8 3945.3L1042.3 3941.5L1048.8 3934.1L1055.3 3923.5L1061.9 3910.1L1068.4 3894.6L1074.9 3877.7L1081.4 3860.3L1087.9 3843.1L1094.5 3826.9L1101 3812.5L1107.5 3800.6L1114 3791.6L1120.6 3785.9L1127.1 3783.7L1133.6 3785.2L1140.1 3790.2L1146.7 3798.4L1153.2 3809.5L1159.7 3822.9L1166.2 3838.1L1172.7 3854.4L1179.3 3871.1L1185.8 3887.4L1192.3 3902.8L1198.8 3916.5L1205.4 3928.1L1211.9 3937L1218.4 3943L1224.9 3945.7L1231.5 3945L1238 3941.1L1244.5 3934L1251 3924L1257.5 3911.5L1264.1 3896.9L1270.6 3880.8L1277.1 3863.7L1283.6 3846.3L1290.2 3829.1L1296.7 3812.7L1303.2 3797.6L1309.7 3784.4L1316.3 3773.4L1322.8 3764.8L1329.3 3759L1335.8 3756L1342.3 3755.8L1348.9 3758.3L1355.4 3763.3L1361.9 3770.5L1368.4 3779.7L1375 3790.3L1381.5 3802.1L1388 3814.7L1394.5 3827.6L1401.1 3840.6L1407.6 3853.3L1414.1 3865.5L1420.6 3876.9L1427.1 3887.5L1433.7 3897L1440.2 3905.5L1446.7 3912.9L1453.2 3919.3L1459.8 3924.7L1466.3 3929.2L1472.8 3933L1479.3 3936L1485.8 3938.4L1492.4 3940.3L1498.9 3941.7L1505.4 3942.8L1511.9 3943.7L1518.5 3944.3L1525 3944.8L1531.5 3945.1L1538 3945.3L1544.6 3945.5L1551.1 3945.6L1557.6 3945.7L1564.1 3945.7L1570.6 3945.8L1577.2 3945.8L1583.7 3945.8L1590.2 3945.8L1596.7 3945.8L1603.3 3945.8L1609.8 3945.8L1616.3 3945.8L1622.8 3945.8L1629.4 3945.8L1635.9 3945.8L1642.4 3945.8L1648.9 3945.8L1655.4 3945.8L1662 3945.8L1668.5 3945.8L1675 3945.8L1681.5 3945.8L1688.1 3945.8L1694.6 3945.8L1701.1 3945.8L1707.6 3945.8L1714.2 3945.8L1720.7 3945.8L1727.2 3945.8L1733.7 3945.8L1740.2 3945.8L1746.8 3945.8L1753.3 3945.8L1759.8 3945.8L1766.3 3945.8L1772.9 3945.8L1779.4 3945.8L1785.9 3945.8L1792.4 3945.8L1799 3945.8L1805.5 3945.8L1812 3945.8" stroke="#008000" stroke-width="7.6" stroke-dasharray="21.8 31.5" stroke-dashoffset="0"/>
</g>
<g fill="none" stroke-linecap="round" shape-rendering="crispEdges">
<g stroke-width="7.3">
<path d="M569.5 101.7H713.3" stroke="#000"/>
<path d="M1092.8 101.5H1236.3" stroke="#f00"/>
<path d="M553.6 235.2H697.4" stroke="#000"/>
<path d="M1124.5 236.5H1260" stroke="#000" stroke-dasharray="22.5 31"/>
</g>
<g stroke-width="6">
<path d="M653.7 2817H794.5" stroke="#000"/>
<path d="M1033.6 2816.5H1180" stroke="#000" stroke-dasharray="15.1 25.7"/>
<path d="M642.4 3339.7H784.8" stroke="#000"/>
<path d="M518.9 3491.4H661.3" stroke="#000"/>
<path d="M788.1 3491.4H930.5" stroke="#f00"/>
<path d="M1055.3 3491.4H1199.2" stroke="#00f"/>
<path d="M1324.5 3491.4H1467.9" stroke="#008000"/>
</g>
<path d="M1021.2 3339.9H1155" stroke="#000" stroke-width="8" stroke-dasharray="21.7 31.5"/>
</g>

<g class="sf">
<text x="323.0" y="157.8" font-size="66.67" class="b">(a)</text>
<text x="747.2" y="123.8" font-size="65.59">A<tspan dy="17.3">1</tspan><tspan dy="-17.3"> = 0.2</tspan></text>
<text x="1268.8" y="123.6" font-size="64.82">A<tspan dy="17.3">1</tspan><tspan dy="-17.3"> = 0.5</tspan></text>
<text x="715.0" y="257.7" font-size="64.29">A<tspan dy="17.3">2</tspan><tspan dy="-17.3"> = 2.0</tspan></text>
<text x="1287.0" y="257.8" font-size="64.86">A<tspan dy="17.3">2</tspan><tspan dy="-17.3"> = 4.0</tspan></text>
<text x="802.0" y="1204.1" font-size="65.0">z<tspan dy="17.5">o</tspan><tspan dy="-17.5"> = 0; k = 20 nm</tspan></text>
<text x="1033.8" y="1497.8" font-size="76.49" text-anchor="middle">z (nm)</text>
<text transform="translate(72.0 676.6) rotate(-90)" font-size="77.22" text-anchor="middle">V (z) (meV)</text>
<text x="501.6" y="1756.3" font-size="66.86" class="b">(b)</text>
<text x="764.4" y="1767.6" font-size="65.17">A<tspan dy="17.3">1</tspan><tspan dy="-17.3"> = 0.4; A</tspan><tspan dy="17.3">2</tspan><tspan dy="-17.3"> = 2.0</tspan></text>
<text x="793.3" y="1917.3" font-size="58.27">k = 20 nm;</text>
<text x="1062.4" y="1917.6" font-size="64.37">z<tspan dy="18">o</tspan><tspan dy="-18"> = 0</tspan></text>
<text x="975.4" y="2556.5" font-size="57.25" class="bl">E<tspan dy="18">3</tspan><tspan dy="-18" class="g">&amp;E</tspan><tspan dy="18" class="g">4</tspan></text>
<text x="973.0" y="2671.4" font-size="63.92">E<tspan dy="18" font-size="45.4">1</tspan><tspan dy="-18">&amp;</tspan><tspan class="r">E</tspan><tspan dy="18" font-size="45.4" class="r">2</tspan></text>
<text transform="translate(812 2840.1) scale(1.233 1)" font-size="65">α</text>
<text x="852.5" y="2840.1" font-size="65.02"><tspan dy="16.7">o</tspan><tspan dy="-16.7">= 0</tspan></text>
<text transform="translate(1192.5 2840.1) scale(1.233 1)" font-size="65">α</text>
<text x="1233.5" y="2840.1" font-size="65.3"><tspan dy="16.7">o</tspan><tspan dy="-16.7">= 10</tspan><tspan font-size="60.27"> nm</tspan></text>
<text x="1045.1" y="3072.2" font-size="75.97" text-anchor="middle">z (nm)</text>
<text transform="translate(68.0 2222.7) rotate(-90)" font-size="76.22" text-anchor="middle">V (z) (meV)</text>
<text x="283.8" y="3355.8" font-size="67.22" class="b">(c)</text>
<text transform="translate(818.6 3362.8) scale(1.184 1)" font-size="60">α</text>
<text x="853.7" y="3362.8" font-size="59.25"><tspan dy="16.7">o</tspan><tspan dy="-16.7">= 0</tspan></text>
<text transform="translate(1197.5 3362.6) scale(1.184 1)" font-size="60">α</text>
<text x="1232.7" y="3362.6" font-size="58.96"><tspan dy="16.7">o</tspan><tspan dy="-16.7">= 20 nm</tspan></text>
<text x="677.8" y="3515.3" font-size="66">E<tspan dy="16" font-size="44">1</tspan></text>
<text x="947.2" y="3515.3" font-size="66">E<tspan dy="16" font-size="44">2</tspan></text>
<text x="1216.8" y="3515.3" font-size="66">E<tspan dy="16" font-size="44">3</tspan></text>
<text x="1484.4" y="3515.3" font-size="66">E<tspan dy="16" font-size="44">4</tspan></text>
<text x="810.7" y="3621.2" font-size="58.37">k = 20 nm;</text>
<text x="1079.4" y="3621.4" font-size="65.35">z<tspan dy="18">o</tspan><tspan dy="-18"> = 0</tspan></text>
<text x="805.0" y="4404.5" font-size="65.81">A<tspan dy="17.3">1</tspan><tspan dy="-17.3"> = 0.4; A</tspan><tspan dy="17.3">2</tspan><tspan dy="-17.3"> = 2.0</tspan></text>
<text x="1033.7" y="4664" font-size="76.5" text-anchor="middle">z (nm)</text>
<text transform="translate(75.3 3842.6) rotate(-90)" font-size="76.92" text-anchor="middle">V (z) (meV)</text>
</g>
</svg>
</body></html>
